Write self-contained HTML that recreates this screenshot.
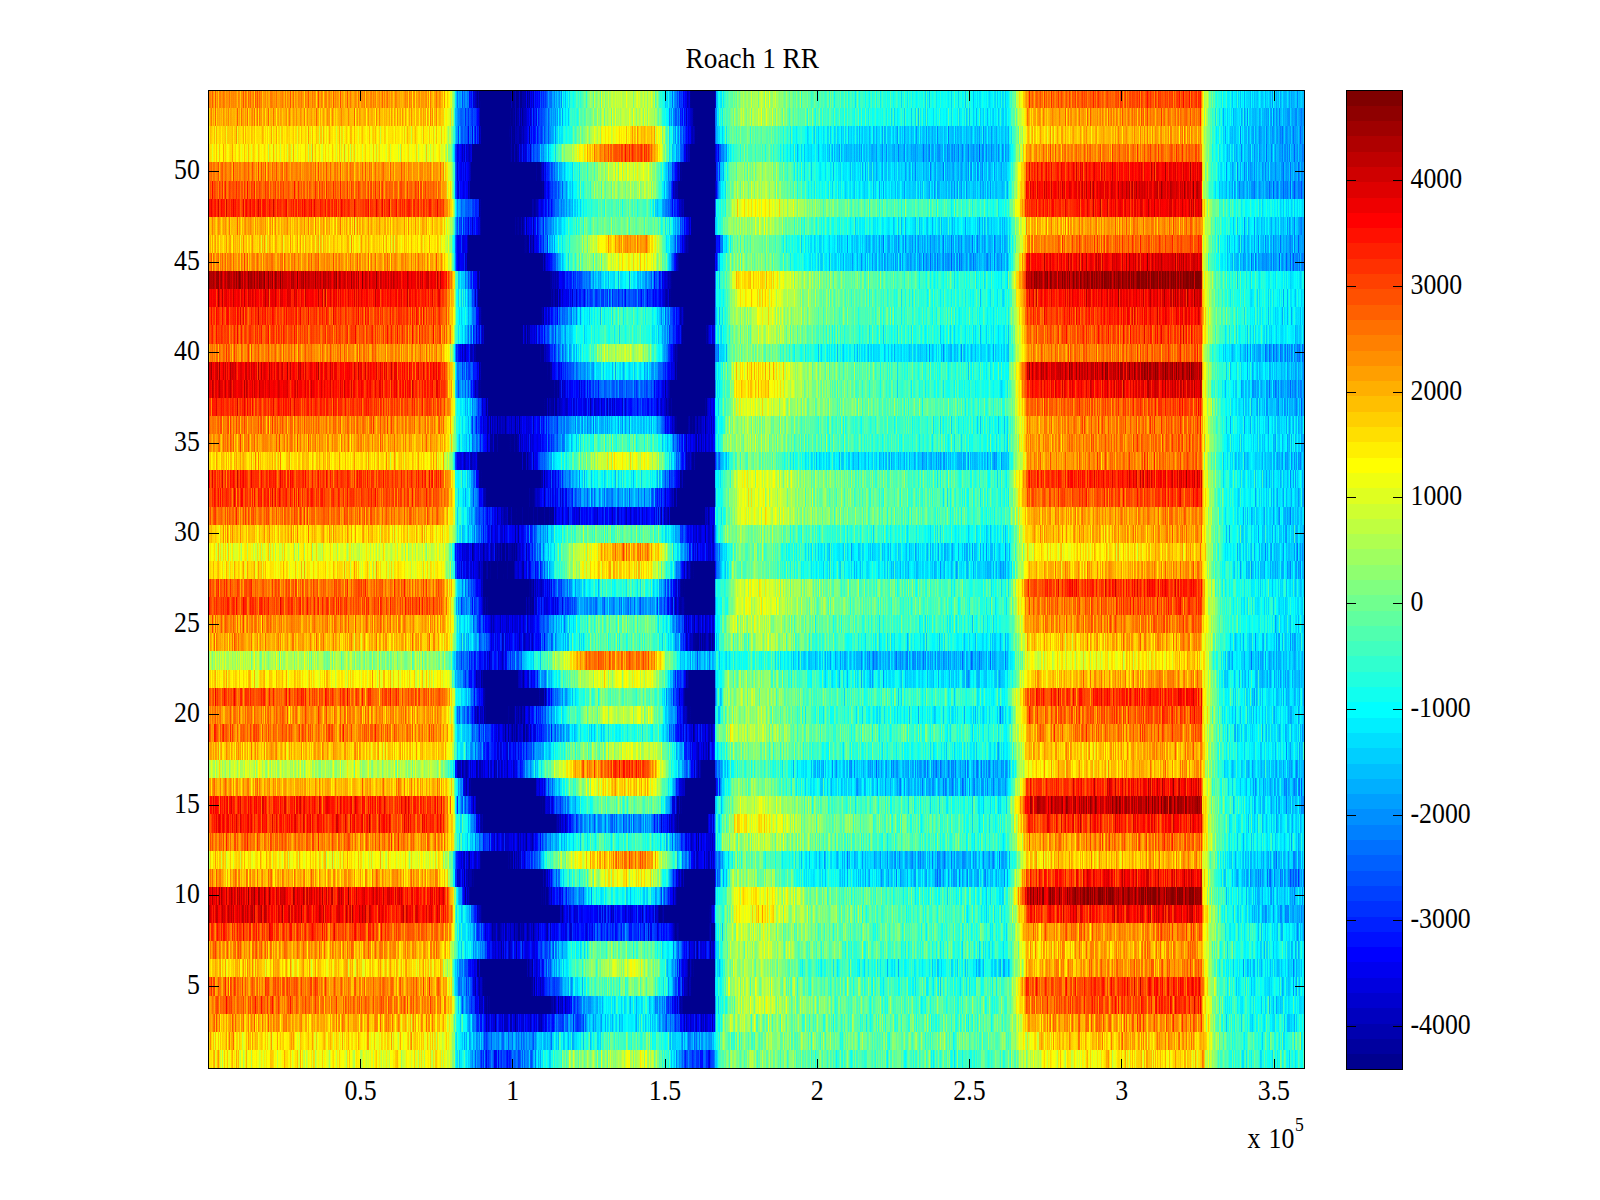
<!DOCTYPE html>
<html><head><meta charset="utf-8"><title>Roach 1 RR</title>
<style>
html,body{margin:0;padding:0;background:#fff;}
svg{display:block;}
text{font-family:"Liberation Serif",serif;fill:#000;}
</style></head>
<body>
<svg width="1600" height="1200" viewBox="0 0 1600 1200">
<defs>
<linearGradient id="g1" gradientUnits="userSpaceOnUse" x1="208" x2="1304" y1="0" y2="0"><stop offset="0" stop-color="#b5b5b5"/><stop offset="0.2126" stop-color="#aeaeae"/><stop offset="0.2172" stop-color="#aaaaaa"/><stop offset="0.2222" stop-color="#a3a3a3"/><stop offset="0.2245" stop-color="#989898"/><stop offset="0.2258" stop-color="#8b8b8b"/><stop offset="0.2272" stop-color="#818181"/><stop offset="0.2274" stop-color="#818181"/><stop offset="0.2336" stop-color="#818181"/><stop offset="0.242" stop-color="#686868"/><stop offset="0.2561" stop-color="#575757"/><stop offset="0.2734" stop-color="#575757"/><stop offset="0.2931" stop-color="#666666"/><stop offset="0.3113" stop-color="#818181"/><stop offset="0.3323" stop-color="#999999"/><stop offset="0.3515" stop-color="#999999"/><stop offset="0.375" stop-color="#a7a7a7"/><stop offset="0.4015" stop-color="#a7a7a7"/><stop offset="0.4162" stop-color="#8f8f8f"/><stop offset="0.4318" stop-color="#686868"/><stop offset="0.4452" stop-color="#575757"/><stop offset="0.4548" stop-color="#575757"/><stop offset="0.4619" stop-color="#575757"/><stop offset="0.4633" stop-color="#818181"/><stop offset="0.4644" stop-color="#818181"/><stop offset="0.4693" stop-color="#999999"/><stop offset="0.4945" stop-color="#999999"/><stop offset="0.5036" stop-color="#999999"/><stop offset="0.5109" stop-color="#999999"/><stop offset="0.531" stop-color="#949494"/><stop offset="0.5538" stop-color="#919191"/><stop offset="0.5858" stop-color="#8f8f8f"/><stop offset="0.6314" stop-color="#8e8e8e"/><stop offset="0.677" stop-color="#8d8d8d"/><stop offset="0.729" stop-color="#8d8d8d"/><stop offset="0.7345" stop-color="#969696"/><stop offset="0.7391" stop-color="#a0a0a0"/><stop offset="0.7427" stop-color="#a5a5a5"/><stop offset="0.7454" stop-color="#a1a1a1"/><stop offset="0.7482" stop-color="#a7a7a7"/><stop offset="0.7576" stop-color="#a7a7a7"/><stop offset="0.7591" stop-color="#b1b1b1"/><stop offset="0.9068" stop-color="#bababa"/><stop offset="0.9075" stop-color="#c0c0c0"/><stop offset="0.9097" stop-color="#b8b8b8"/><stop offset="0.9133" stop-color="#a8a8a8"/><stop offset="0.9179" stop-color="#9b9b9b"/><stop offset="0.9279" stop-color="#898989"/><stop offset="0.9507" stop-color="#868686"/><stop offset="1" stop-color="#838383"/></linearGradient>
<filter id="f1" x="0" y="0" width="1" height="1" color-interpolation-filters="sRGB"><feTurbulence type="fractalNoise" baseFrequency="0.72 0.0003" numOctaves="2" seed="10" result="n"/><feColorMatrix in="n" type="matrix" values="1 0 0 0 0 1 0 0 0 0 1 0 0 0 0 0 0 0 0 1" result="m"/><feComposite in="SourceGraphic" in2="m" operator="arithmetic" k1="0" k2="1" k3="0.250" k4="-0.1250" result="s"/><feComponentTransfer in="s"><feFuncR type="table" tableValues="0 0 0 0 0 0 .5 1 1 1 .5"/><feFuncG type="table" tableValues="0 0 0 0 .5 1 1 1 .5 0 0"/><feFuncB type="table" tableValues=".5625 .5625 .5625 1 1 1 .5 0 0 0 0"/></feComponentTransfer></filter>
<linearGradient id="g2" gradientUnits="userSpaceOnUse" x1="208" x2="1304" y1="0" y2="0"><stop offset="0" stop-color="#bbbbbb"/><stop offset="0.2126" stop-color="#b5b5b5"/><stop offset="0.2172" stop-color="#afafaf"/><stop offset="0.2222" stop-color="#a6a6a6"/><stop offset="0.2245" stop-color="#999999"/><stop offset="0.2258" stop-color="#898989"/><stop offset="0.2272" stop-color="#7c7c7c"/><stop offset="0.2274" stop-color="#7c7c7c"/><stop offset="0.2427" stop-color="#727272"/><stop offset="0.2522" stop-color="#686868"/><stop offset="0.2938" stop-color="#686868"/><stop offset="0.3196" stop-color="#7c7c7c"/><stop offset="0.3414" stop-color="#7c7c7c"/><stop offset="0.3672" stop-color="#8f8f8f"/><stop offset="0.4051" stop-color="#8f8f8f"/><stop offset="0.4208" stop-color="#818181"/><stop offset="0.435" stop-color="#6c6c6c"/><stop offset="0.4523" stop-color="#6c6c6c"/><stop offset="0.4619" stop-color="#6c6c6c"/><stop offset="0.4633" stop-color="#818181"/><stop offset="0.4681" stop-color="#959595"/><stop offset="0.4945" stop-color="#959595"/><stop offset="0.5036" stop-color="#999999"/><stop offset="0.5109" stop-color="#999999"/><stop offset="0.531" stop-color="#979797"/><stop offset="0.5538" stop-color="#959595"/><stop offset="0.5858" stop-color="#949494"/><stop offset="0.6314" stop-color="#939393"/><stop offset="0.677" stop-color="#939393"/><stop offset="0.729" stop-color="#939393"/><stop offset="0.7345" stop-color="#9e9e9e"/><stop offset="0.7391" stop-color="#a8a8a8"/><stop offset="0.7427" stop-color="#adadad"/><stop offset="0.7454" stop-color="#ababab"/><stop offset="0.7482" stop-color="#b1b1b1"/><stop offset="0.7576" stop-color="#b1b1b1"/><stop offset="0.7591" stop-color="#bcbcbc"/><stop offset="0.9068" stop-color="#c4c4c4"/><stop offset="0.9075" stop-color="#c4c4c4"/><stop offset="0.9097" stop-color="#bcbcbc"/><stop offset="0.9133" stop-color="#acacac"/><stop offset="0.9179" stop-color="#9f9f9f"/><stop offset="0.9279" stop-color="#8d8d8d"/><stop offset="0.9507" stop-color="#8a8a8a"/><stop offset="1" stop-color="#878787"/></linearGradient>
<filter id="f2" x="0" y="0" width="1" height="1" color-interpolation-filters="sRGB"><feTurbulence type="fractalNoise" baseFrequency="0.72 0.0003" numOctaves="2" seed="17" result="n"/><feColorMatrix in="n" type="matrix" values="1 0 0 0 0 1 0 0 0 0 1 0 0 0 0 0 0 0 0 1" result="m"/><feComposite in="SourceGraphic" in2="m" operator="arithmetic" k1="0" k2="1" k3="0.250" k4="-0.1250" result="s"/><feComponentTransfer in="s"><feFuncR type="table" tableValues="0 0 0 0 0 0 .5 1 1 1 .5"/><feFuncG type="table" tableValues="0 0 0 0 .5 1 1 1 .5 0 0"/><feFuncB type="table" tableValues=".5625 .5625 .5625 1 1 1 .5 0 0 0 0"/></feComponentTransfer></filter>
<linearGradient id="g3" gradientUnits="userSpaceOnUse" x1="208" x2="1304" y1="0" y2="0"><stop offset="0" stop-color="#c5c5c5"/><stop offset="0.2126" stop-color="#bfbfbf"/><stop offset="0.2172" stop-color="#b8b8b8"/><stop offset="0.2222" stop-color="#aeaeae"/><stop offset="0.2245" stop-color="#a0a0a0"/><stop offset="0.2258" stop-color="#8f8f8f"/><stop offset="0.2272" stop-color="#818181"/><stop offset="0.2274" stop-color="#818181"/><stop offset="0.2354" stop-color="#818181"/><stop offset="0.2418" stop-color="#686868"/><stop offset="0.2558" stop-color="#454545"/><stop offset="0.3047" stop-color="#454545"/><stop offset="0.3245" stop-color="#606060"/><stop offset="0.3382" stop-color="#606060"/><stop offset="0.358" stop-color="#7a7a7a"/><stop offset="0.4051" stop-color="#7a7a7a"/><stop offset="0.4226" stop-color="#666666"/><stop offset="0.4379" stop-color="#454545"/><stop offset="0.453" stop-color="#454545"/><stop offset="0.4619" stop-color="#454545"/><stop offset="0.4633" stop-color="#818181"/><stop offset="0.4662" stop-color="#818181"/><stop offset="0.4735" stop-color="#9d9d9d"/><stop offset="0.4945" stop-color="#9d9d9d"/><stop offset="0.5036" stop-color="#9d9d9d"/><stop offset="0.5109" stop-color="#9d9d9d"/><stop offset="0.531" stop-color="#989898"/><stop offset="0.5538" stop-color="#949494"/><stop offset="0.5858" stop-color="#929292"/><stop offset="0.6314" stop-color="#909090"/><stop offset="0.677" stop-color="#8f8f8f"/><stop offset="0.729" stop-color="#8f8f8f"/><stop offset="0.7345" stop-color="#9d9d9d"/><stop offset="0.7391" stop-color="#ababab"/><stop offset="0.7427" stop-color="#b2b2b2"/><stop offset="0.7454" stop-color="#bababa"/><stop offset="0.7477" stop-color="#c5c5c5"/><stop offset="0.75" stop-color="#c3c3c3"/><stop offset="0.9068" stop-color="#cecece"/><stop offset="0.9075" stop-color="#c0c0c0"/><stop offset="0.9097" stop-color="#b8b8b8"/><stop offset="0.9133" stop-color="#a8a8a8"/><stop offset="0.9179" stop-color="#9b9b9b"/><stop offset="0.9279" stop-color="#898989"/><stop offset="0.9507" stop-color="#838383"/><stop offset="1" stop-color="#7c7c7c"/></linearGradient>
<filter id="f3" x="0" y="0" width="1" height="1" color-interpolation-filters="sRGB"><feTurbulence type="fractalNoise" baseFrequency="0.72 0.0003" numOctaves="2" seed="24" result="n"/><feColorMatrix in="n" type="matrix" values="1 0 0 0 0 1 0 0 0 0 1 0 0 0 0 0 0 0 0 1" result="m"/><feComposite in="SourceGraphic" in2="m" operator="arithmetic" k1="0" k2="1" k3="0.250" k4="-0.1250" result="s"/><feComponentTransfer in="s"><feFuncR type="table" tableValues="0 0 0 0 0 0 .5 1 1 1 .5"/><feFuncG type="table" tableValues="0 0 0 0 .5 1 1 1 .5 0 0"/><feFuncB type="table" tableValues=".5625 .5625 .5625 1 1 1 .5 0 0 0 0"/></feComponentTransfer></filter>
<linearGradient id="g4" gradientUnits="userSpaceOnUse" x1="208" x2="1304" y1="0" y2="0"><stop offset="0" stop-color="#d1d1d1"/><stop offset="0.2126" stop-color="#cbcbcb"/><stop offset="0.2172" stop-color="#c2c2c2"/><stop offset="0.2222" stop-color="#b7b7b7"/><stop offset="0.2245" stop-color="#a6a6a6"/><stop offset="0.2258" stop-color="#929292"/><stop offset="0.2272" stop-color="#818181"/><stop offset="0.2274" stop-color="#818181"/><stop offset="0.2336" stop-color="#686868"/><stop offset="0.2474" stop-color="#494949"/><stop offset="0.2558" stop-color="#2f2f2f"/><stop offset="0.2613" stop-color="#161616"/><stop offset="0.3066" stop-color="#161616"/><stop offset="0.312" stop-color="#2f2f2f"/><stop offset="0.3241" stop-color="#494949"/><stop offset="0.3442" stop-color="#666666"/><stop offset="0.3617" stop-color="#7e7e7e"/><stop offset="0.4015" stop-color="#7e7e7e"/><stop offset="0.4162" stop-color="#666666"/><stop offset="0.4281" stop-color="#494949"/><stop offset="0.4347" stop-color="#2f2f2f"/><stop offset="0.4401" stop-color="#161616"/><stop offset="0.4526" stop-color="#161616"/><stop offset="0.458" stop-color="#2f2f2f"/><stop offset="0.4619" stop-color="#161616"/><stop offset="0.4633" stop-color="#818181"/><stop offset="0.4672" stop-color="#818181"/><stop offset="0.4804" stop-color="#999999"/><stop offset="0.4881" stop-color="#a7a7a7"/><stop offset="0.4945" stop-color="#a7a7a7"/><stop offset="0.5036" stop-color="#a7a7a7"/><stop offset="0.5109" stop-color="#a7a7a7"/><stop offset="0.531" stop-color="#9d9d9d"/><stop offset="0.5538" stop-color="#979797"/><stop offset="0.5858" stop-color="#939393"/><stop offset="0.6314" stop-color="#8f8f8f"/><stop offset="0.677" stop-color="#8d8d8d"/><stop offset="0.729" stop-color="#8d8d8d"/><stop offset="0.7345" stop-color="#9f9f9f"/><stop offset="0.7391" stop-color="#b1b1b1"/><stop offset="0.7427" stop-color="#bababa"/><stop offset="0.7454" stop-color="#c4c4c4"/><stop offset="0.7477" stop-color="#d3d3d3"/><stop offset="0.75" stop-color="#d1d1d1"/><stop offset="0.9068" stop-color="#dcdcdc"/><stop offset="0.9075" stop-color="#c0c0c0"/><stop offset="0.9097" stop-color="#b8b8b8"/><stop offset="0.9133" stop-color="#a8a8a8"/><stop offset="0.9179" stop-color="#9b9b9b"/><stop offset="0.9279" stop-color="#898989"/><stop offset="0.9507" stop-color="#828282"/><stop offset="1" stop-color="#7a7a7a"/></linearGradient>
<filter id="f4" x="0" y="0" width="1" height="1" color-interpolation-filters="sRGB"><feTurbulence type="fractalNoise" baseFrequency="0.72 0.0003" numOctaves="2" seed="31" result="n"/><feColorMatrix in="n" type="matrix" values="1 0 0 0 0 1 0 0 0 0 1 0 0 0 0 0 0 0 0 1" result="m"/><feComposite in="SourceGraphic" in2="m" operator="arithmetic" k1="0" k2="1" k3="0.250" k4="-0.1250" result="s"/><feComponentTransfer in="s"><feFuncR type="table" tableValues="0 0 0 0 0 0 .5 1 1 1 .5"/><feFuncG type="table" tableValues="0 0 0 0 .5 1 1 1 .5 0 0"/><feFuncB type="table" tableValues=".5625 .5625 .5625 1 1 1 .5 0 0 0 0"/></feComponentTransfer></filter>
<linearGradient id="g5" gradientUnits="userSpaceOnUse" x1="208" x2="1304" y1="0" y2="0"><stop offset="0" stop-color="#cfcfcf"/><stop offset="0.2126" stop-color="#c9c9c9"/><stop offset="0.2172" stop-color="#bdbdbd"/><stop offset="0.2222" stop-color="#aeaeae"/><stop offset="0.2245" stop-color="#989898"/><stop offset="0.2258" stop-color="#7e7e7e"/><stop offset="0.2272" stop-color="#686868"/><stop offset="0.2274" stop-color="#686868"/><stop offset="0.2354" stop-color="#686868"/><stop offset="0.2438" stop-color="#494949"/><stop offset="0.2522" stop-color="#2f2f2f"/><stop offset="0.2577" stop-color="#161616"/><stop offset="0.2883" stop-color="#161616"/><stop offset="0.2938" stop-color="#2f2f2f"/><stop offset="0.304" stop-color="#494949"/><stop offset="0.3204" stop-color="#666666"/><stop offset="0.3387" stop-color="#818181"/><stop offset="0.358" stop-color="#939393"/><stop offset="0.4051" stop-color="#939393"/><stop offset="0.417" stop-color="#818181"/><stop offset="0.4243" stop-color="#666666"/><stop offset="0.4336" stop-color="#494949"/><stop offset="0.4401" stop-color="#2f2f2f"/><stop offset="0.4451" stop-color="#161616"/><stop offset="0.4549" stop-color="#161616"/><stop offset="0.4619" stop-color="#161616"/><stop offset="0.4633" stop-color="#818181"/><stop offset="0.4672" stop-color="#818181"/><stop offset="0.4754" stop-color="#a3a3a3"/><stop offset="0.4945" stop-color="#a3a3a3"/><stop offset="0.5036" stop-color="#a3a3a3"/><stop offset="0.5109" stop-color="#a3a3a3"/><stop offset="0.531" stop-color="#999999"/><stop offset="0.5538" stop-color="#939393"/><stop offset="0.5858" stop-color="#8f8f8f"/><stop offset="0.6314" stop-color="#8b8b8b"/><stop offset="0.677" stop-color="#898989"/><stop offset="0.729" stop-color="#898989"/><stop offset="0.7345" stop-color="#9d9d9d"/><stop offset="0.7391" stop-color="#b1b1b1"/><stop offset="0.7427" stop-color="#bbbbbb"/><stop offset="0.7454" stop-color="#c6c6c6"/><stop offset="0.7477" stop-color="#d6d6d6"/><stop offset="0.75" stop-color="#d5d5d5"/><stop offset="0.9068" stop-color="#e0e0e0"/><stop offset="0.9075" stop-color="#c0c0c0"/><stop offset="0.9097" stop-color="#b8b8b8"/><stop offset="0.9133" stop-color="#a8a8a8"/><stop offset="0.9179" stop-color="#9b9b9b"/><stop offset="0.9279" stop-color="#898989"/><stop offset="0.9507" stop-color="#828282"/><stop offset="1" stop-color="#7a7a7a"/></linearGradient>
<filter id="f5" x="0" y="0" width="1" height="1" color-interpolation-filters="sRGB"><feTurbulence type="fractalNoise" baseFrequency="0.72 0.0003" numOctaves="2" seed="38" result="n"/><feColorMatrix in="n" type="matrix" values="1 0 0 0 0 1 0 0 0 0 1 0 0 0 0 0 0 0 0 1" result="m"/><feComposite in="SourceGraphic" in2="m" operator="arithmetic" k1="0" k2="1" k3="0.250" k4="-0.1250" result="s"/><feComponentTransfer in="s"><feFuncR type="table" tableValues="0 0 0 0 0 0 .5 1 1 1 .5"/><feFuncG type="table" tableValues="0 0 0 0 .5 1 1 1 .5 0 0"/><feFuncB type="table" tableValues=".5625 .5625 .5625 1 1 1 .5 0 0 0 0"/></feComponentTransfer></filter>
<linearGradient id="g6" gradientUnits="userSpaceOnUse" x1="208" x2="1304" y1="0" y2="0"><stop offset="0" stop-color="#bdbdbd"/><stop offset="0.2126" stop-color="#b7b7b7"/><stop offset="0.2172" stop-color="#adadad"/><stop offset="0.2222" stop-color="#a1a1a1"/><stop offset="0.2245" stop-color="#8f8f8f"/><stop offset="0.2258" stop-color="#7a7a7a"/><stop offset="0.2272" stop-color="#686868"/><stop offset="0.2274" stop-color="#686868"/><stop offset="0.2336" stop-color="#686868"/><stop offset="0.2418" stop-color="#494949"/><stop offset="0.2491" stop-color="#2f2f2f"/><stop offset="0.2546" stop-color="#161616"/><stop offset="0.2847" stop-color="#161616"/><stop offset="0.2901" stop-color="#2f2f2f"/><stop offset="0.2985" stop-color="#494949"/><stop offset="0.3131" stop-color="#666666"/><stop offset="0.3277" stop-color="#818181"/><stop offset="0.3451" stop-color="#999999"/><stop offset="0.357" stop-color="#999999"/><stop offset="0.3748" stop-color="#a9a9a9"/><stop offset="0.3962" stop-color="#a9a9a9"/><stop offset="0.4088" stop-color="#999999"/><stop offset="0.4179" stop-color="#818181"/><stop offset="0.4261" stop-color="#666666"/><stop offset="0.4354" stop-color="#494949"/><stop offset="0.442" stop-color="#2f2f2f"/><stop offset="0.4464" stop-color="#161616"/><stop offset="0.4554" stop-color="#161616"/><stop offset="0.4619" stop-color="#161616"/><stop offset="0.4633" stop-color="#818181"/><stop offset="0.4672" stop-color="#818181"/><stop offset="0.4754" stop-color="#9d9d9d"/><stop offset="0.4945" stop-color="#9d9d9d"/><stop offset="0.5036" stop-color="#9d9d9d"/><stop offset="0.5109" stop-color="#9d9d9d"/><stop offset="0.531" stop-color="#929292"/><stop offset="0.5538" stop-color="#8b8b8b"/><stop offset="0.5858" stop-color="#878787"/><stop offset="0.6314" stop-color="#838383"/><stop offset="0.677" stop-color="#818181"/><stop offset="0.729" stop-color="#7a7a7a"/><stop offset="0.7345" stop-color="#8d8d8d"/><stop offset="0.7391" stop-color="#a0a0a0"/><stop offset="0.7427" stop-color="#a9a9a9"/><stop offset="0.7454" stop-color="#b3b3b3"/><stop offset="0.7477" stop-color="#c2c2c2"/><stop offset="0.75" stop-color="#c1c1c1"/><stop offset="0.9068" stop-color="#cccccc"/><stop offset="0.9075" stop-color="#bababa"/><stop offset="0.9097" stop-color="#b1b1b1"/><stop offset="0.9133" stop-color="#a2a2a2"/><stop offset="0.9179" stop-color="#959595"/><stop offset="0.9279" stop-color="#838383"/><stop offset="0.9507" stop-color="#7c7c7c"/><stop offset="1" stop-color="#767676"/></linearGradient>
<filter id="f6" x="0" y="0" width="1" height="1" color-interpolation-filters="sRGB"><feTurbulence type="fractalNoise" baseFrequency="0.72 0.0003" numOctaves="2" seed="45" result="n"/><feColorMatrix in="n" type="matrix" values="1 0 0 0 0 1 0 0 0 0 1 0 0 0 0 0 0 0 0 1" result="m"/><feComposite in="SourceGraphic" in2="m" operator="arithmetic" k1="0" k2="1" k3="0.250" k4="-0.1250" result="s"/><feComponentTransfer in="s"><feFuncR type="table" tableValues="0 0 0 0 0 0 .5 1 1 1 .5"/><feFuncG type="table" tableValues="0 0 0 0 .5 1 1 1 .5 0 0"/><feFuncB type="table" tableValues=".5625 .5625 .5625 1 1 1 .5 0 0 0 0"/></feComponentTransfer></filter>
<linearGradient id="g7" gradientUnits="userSpaceOnUse" x1="208" x2="1304" y1="0" y2="0"><stop offset="0" stop-color="#c9c9c9"/><stop offset="0.2126" stop-color="#c3c3c3"/><stop offset="0.2172" stop-color="#bbbbbb"/><stop offset="0.2222" stop-color="#b1b1b1"/><stop offset="0.2245" stop-color="#a2a2a2"/><stop offset="0.2258" stop-color="#909090"/><stop offset="0.2272" stop-color="#818181"/><stop offset="0.2274" stop-color="#818181"/><stop offset="0.2372" stop-color="#818181"/><stop offset="0.2464" stop-color="#686868"/><stop offset="0.2631" stop-color="#494949"/><stop offset="0.2974" stop-color="#494949"/><stop offset="0.3131" stop-color="#666666"/><stop offset="0.335" stop-color="#818181"/><stop offset="0.358" stop-color="#939393"/><stop offset="0.4015" stop-color="#939393"/><stop offset="0.4179" stop-color="#818181"/><stop offset="0.4299" stop-color="#666666"/><stop offset="0.4397" stop-color="#454545"/><stop offset="0.4548" stop-color="#454545"/><stop offset="0.4619" stop-color="#454545"/><stop offset="0.4633" stop-color="#818181"/><stop offset="0.4672" stop-color="#818181"/><stop offset="0.4754" stop-color="#9d9d9d"/><stop offset="0.4945" stop-color="#9d9d9d"/><stop offset="0.5036" stop-color="#a5a5a5"/><stop offset="0.5109" stop-color="#a5a5a5"/><stop offset="0.531" stop-color="#9b9b9b"/><stop offset="0.5538" stop-color="#959595"/><stop offset="0.5858" stop-color="#919191"/><stop offset="0.6314" stop-color="#8d8d8d"/><stop offset="0.677" stop-color="#8b8b8b"/><stop offset="0.729" stop-color="#858585"/><stop offset="0.7345" stop-color="#949494"/><stop offset="0.7391" stop-color="#a3a3a3"/><stop offset="0.7427" stop-color="#ababab"/><stop offset="0.7454" stop-color="#b2b2b2"/><stop offset="0.7477" stop-color="#bfbfbf"/><stop offset="0.75" stop-color="#bdbdbd"/><stop offset="0.9068" stop-color="#c8c8c8"/><stop offset="0.9075" stop-color="#c0c0c0"/><stop offset="0.9097" stop-color="#b8b8b8"/><stop offset="0.9133" stop-color="#a8a8a8"/><stop offset="0.9179" stop-color="#9b9b9b"/><stop offset="0.9279" stop-color="#898989"/><stop offset="0.9507" stop-color="#828282"/><stop offset="1" stop-color="#7a7a7a"/></linearGradient>
<filter id="f7" x="0" y="0" width="1" height="1" color-interpolation-filters="sRGB"><feTurbulence type="fractalNoise" baseFrequency="0.72 0.0003" numOctaves="2" seed="52" result="n"/><feColorMatrix in="n" type="matrix" values="1 0 0 0 0 1 0 0 0 0 1 0 0 0 0 0 0 0 0 1" result="m"/><feComposite in="SourceGraphic" in2="m" operator="arithmetic" k1="0" k2="1" k3="0.250" k4="-0.1250" result="s"/><feComponentTransfer in="s"><feFuncR type="table" tableValues="0 0 0 0 0 0 .5 1 1 1 .5"/><feFuncG type="table" tableValues="0 0 0 0 .5 1 1 1 .5 0 0"/><feFuncB type="table" tableValues=".5625 .5625 .5625 1 1 1 .5 0 0 0 0"/></feComponentTransfer></filter>
<linearGradient id="g8" gradientUnits="userSpaceOnUse" x1="208" x2="1304" y1="0" y2="0"><stop offset="0" stop-color="#d9d9d9"/><stop offset="0.2126" stop-color="#d3d3d3"/><stop offset="0.2172" stop-color="#c9c9c9"/><stop offset="0.2222" stop-color="#bcbcbc"/><stop offset="0.2245" stop-color="#aaaaaa"/><stop offset="0.2258" stop-color="#939393"/><stop offset="0.2272" stop-color="#818181"/><stop offset="0.2274" stop-color="#818181"/><stop offset="0.2354" stop-color="#818181"/><stop offset="0.2436" stop-color="#686868"/><stop offset="0.2595" stop-color="#3d3d3d"/><stop offset="0.2974" stop-color="#3d3d3d"/><stop offset="0.3194" stop-color="#4d4d4d"/><stop offset="0.3361" stop-color="#4d4d4d"/><stop offset="0.3577" stop-color="#575757"/><stop offset="0.396" stop-color="#575757"/><stop offset="0.417" stop-color="#4d4d4d"/><stop offset="0.431" stop-color="#2f2f2f"/><stop offset="0.4365" stop-color="#161616"/><stop offset="0.4526" stop-color="#161616"/><stop offset="0.458" stop-color="#2f2f2f"/><stop offset="0.4619" stop-color="#161616"/><stop offset="0.4633" stop-color="#818181"/><stop offset="0.4662" stop-color="#818181"/><stop offset="0.4763" stop-color="#999999"/><stop offset="0.4808" stop-color="#a7a7a7"/><stop offset="0.4945" stop-color="#a7a7a7"/><stop offset="0.5036" stop-color="#a7a7a7"/><stop offset="0.5109" stop-color="#a7a7a7"/><stop offset="0.531" stop-color="#9d9d9d"/><stop offset="0.5538" stop-color="#979797"/><stop offset="0.5858" stop-color="#939393"/><stop offset="0.6314" stop-color="#8f8f8f"/><stop offset="0.677" stop-color="#8d8d8d"/><stop offset="0.729" stop-color="#878787"/><stop offset="0.7345" stop-color="#979797"/><stop offset="0.7391" stop-color="#a8a8a8"/><stop offset="0.7427" stop-color="#b0b0b0"/><stop offset="0.7454" stop-color="#b9b9b9"/><stop offset="0.7477" stop-color="#c7c7c7"/><stop offset="0.75" stop-color="#c5c5c5"/><stop offset="0.9068" stop-color="#d0d0d0"/><stop offset="0.9075" stop-color="#c0c0c0"/><stop offset="0.9097" stop-color="#b8b8b8"/><stop offset="0.9133" stop-color="#a8a8a8"/><stop offset="0.9179" stop-color="#9b9b9b"/><stop offset="0.9279" stop-color="#898989"/><stop offset="0.9507" stop-color="#818181"/><stop offset="1" stop-color="#787878"/></linearGradient>
<filter id="f8" x="0" y="0" width="1" height="1" color-interpolation-filters="sRGB"><feTurbulence type="fractalNoise" baseFrequency="0.72 0.0003" numOctaves="2" seed="59" result="n"/><feColorMatrix in="n" type="matrix" values="1 0 0 0 0 1 0 0 0 0 1 0 0 0 0 0 0 0 0 1" result="m"/><feComposite in="SourceGraphic" in2="m" operator="arithmetic" k1="0" k2="1" k3="0.250" k4="-0.1250" result="s"/><feComponentTransfer in="s"><feFuncR type="table" tableValues="0 0 0 0 0 0 .5 1 1 1 .5"/><feFuncG type="table" tableValues="0 0 0 0 .5 1 1 1 .5 0 0"/><feFuncB type="table" tableValues=".5625 .5625 .5625 1 1 1 .5 0 0 0 0"/></feComponentTransfer></filter>
<linearGradient id="g9" gradientUnits="userSpaceOnUse" x1="208" x2="1304" y1="0" y2="0"><stop offset="0" stop-color="#eaeaea"/><stop offset="0.2126" stop-color="#e3e3e3"/><stop offset="0.2172" stop-color="#d7d7d7"/><stop offset="0.2222" stop-color="#c8c8c8"/><stop offset="0.2245" stop-color="#b1b1b1"/><stop offset="0.2258" stop-color="#979797"/><stop offset="0.2272" stop-color="#818181"/><stop offset="0.2274" stop-color="#818181"/><stop offset="0.2336" stop-color="#818181"/><stop offset="0.2409" stop-color="#686868"/><stop offset="0.2485" stop-color="#2f2f2f"/><stop offset="0.254" stop-color="#161616"/><stop offset="0.3139" stop-color="#161616"/><stop offset="0.3193" stop-color="#2f2f2f"/><stop offset="0.3288" stop-color="#4b4b4b"/><stop offset="0.4051" stop-color="#4b4b4b"/><stop offset="0.4146" stop-color="#2f2f2f"/><stop offset="0.4201" stop-color="#161616"/><stop offset="0.4507" stop-color="#161616"/><stop offset="0.4562" stop-color="#2f2f2f"/><stop offset="0.4619" stop-color="#454545"/><stop offset="0.4633" stop-color="#818181"/><stop offset="0.4662" stop-color="#818181"/><stop offset="0.4763" stop-color="#999999"/><stop offset="0.4827" stop-color="#b4b4b4"/><stop offset="0.4945" stop-color="#b4b4b4"/><stop offset="0.5036" stop-color="#b4b4b4"/><stop offset="0.5109" stop-color="#b4b4b4"/><stop offset="0.531" stop-color="#a4a4a4"/><stop offset="0.5538" stop-color="#9a9a9a"/><stop offset="0.5858" stop-color="#949494"/><stop offset="0.6314" stop-color="#8f8f8f"/><stop offset="0.677" stop-color="#8b8b8b"/><stop offset="0.729" stop-color="#858585"/><stop offset="0.7345" stop-color="#9c9c9c"/><stop offset="0.7391" stop-color="#b4b4b4"/><stop offset="0.7427" stop-color="#bfbfbf"/><stop offset="0.7454" stop-color="#cbcbcb"/><stop offset="0.7477" stop-color="#dedede"/><stop offset="0.75" stop-color="#dddddd"/><stop offset="0.9068" stop-color="#e9e9e9"/><stop offset="0.9075" stop-color="#c0c0c0"/><stop offset="0.9097" stop-color="#b8b8b8"/><stop offset="0.9133" stop-color="#a8a8a8"/><stop offset="0.9179" stop-color="#9b9b9b"/><stop offset="0.9279" stop-color="#898989"/><stop offset="0.9507" stop-color="#7a7a7a"/><stop offset="1" stop-color="#6c6c6c"/></linearGradient>
<filter id="f9" x="0" y="0" width="1" height="1" color-interpolation-filters="sRGB"><feTurbulence type="fractalNoise" baseFrequency="0.72 0.0003" numOctaves="2" seed="66" result="n"/><feColorMatrix in="n" type="matrix" values="1 0 0 0 0 1 0 0 0 0 1 0 0 0 0 0 0 0 0 1" result="m"/><feComposite in="SourceGraphic" in2="m" operator="arithmetic" k1="0" k2="1" k3="0.250" k4="-0.1250" result="s"/><feComponentTransfer in="s"><feFuncR type="table" tableValues="0 0 0 0 0 0 .5 1 1 1 .5"/><feFuncG type="table" tableValues="0 0 0 0 .5 1 1 1 .5 0 0"/><feFuncB type="table" tableValues=".5625 .5625 .5625 1 1 1 .5 0 0 0 0"/></feComponentTransfer></filter>
<linearGradient id="g10" gradientUnits="userSpaceOnUse" x1="208" x2="1304" y1="0" y2="0"><stop offset="0" stop-color="#eeeeee"/><stop offset="0.2126" stop-color="#e1e1e1"/><stop offset="0.2172" stop-color="#d8d8d8"/><stop offset="0.2222" stop-color="#c9c9c9"/><stop offset="0.2245" stop-color="#b2b2b2"/><stop offset="0.2258" stop-color="#979797"/><stop offset="0.2272" stop-color="#818181"/><stop offset="0.2274" stop-color="#818181"/><stop offset="0.2334" stop-color="#494949"/><stop offset="0.24" stop-color="#2f2f2f"/><stop offset="0.2454" stop-color="#161616"/><stop offset="0.2993" stop-color="#161616"/><stop offset="0.3047" stop-color="#2f2f2f"/><stop offset="0.3131" stop-color="#494949"/><stop offset="0.3332" stop-color="#666666"/><stop offset="0.3544" stop-color="#818181"/><stop offset="0.4033" stop-color="#818181"/><stop offset="0.4151" stop-color="#666666"/><stop offset="0.4234" stop-color="#494949"/><stop offset="0.4292" stop-color="#2f2f2f"/><stop offset="0.4347" stop-color="#161616"/><stop offset="0.4544" stop-color="#161616"/><stop offset="0.4619" stop-color="#161616"/><stop offset="0.4633" stop-color="#818181"/><stop offset="0.4672" stop-color="#818181"/><stop offset="0.4772" stop-color="#999999"/><stop offset="0.4827" stop-color="#b1b1b1"/><stop offset="0.4945" stop-color="#b1b1b1"/><stop offset="0.5036" stop-color="#b1b1b1"/><stop offset="0.5109" stop-color="#b1b1b1"/><stop offset="0.531" stop-color="#a2a2a2"/><stop offset="0.5538" stop-color="#989898"/><stop offset="0.5858" stop-color="#929292"/><stop offset="0.6314" stop-color="#8d8d8d"/><stop offset="0.677" stop-color="#898989"/><stop offset="0.729" stop-color="#838383"/><stop offset="0.7345" stop-color="#a0a0a0"/><stop offset="0.7391" stop-color="#bdbdbd"/><stop offset="0.7427" stop-color="#cbcbcb"/><stop offset="0.7454" stop-color="#dadada"/><stop offset="0.7477" stop-color="#f1f1f1"/><stop offset="0.75" stop-color="#f2f2f2"/><stop offset="0.9068" stop-color="#fdfdfd"/><stop offset="0.9075" stop-color="#bababa"/><stop offset="0.9097" stop-color="#b1b1b1"/><stop offset="0.9133" stop-color="#a2a2a2"/><stop offset="0.9179" stop-color="#959595"/><stop offset="0.9279" stop-color="#838383"/><stop offset="0.9507" stop-color="#7c7c7c"/><stop offset="1" stop-color="#767676"/></linearGradient>
<filter id="f10" x="0" y="0" width="1" height="1" color-interpolation-filters="sRGB"><feTurbulence type="fractalNoise" baseFrequency="0.72 0.0003" numOctaves="2" seed="73" result="n"/><feColorMatrix in="n" type="matrix" values="1 0 0 0 0 1 0 0 0 0 1 0 0 0 0 0 0 0 0 1" result="m"/><feComposite in="SourceGraphic" in2="m" operator="arithmetic" k1="0" k2="1" k3="0.250" k4="-0.1250" result="s"/><feComponentTransfer in="s"><feFuncR type="table" tableValues="0 0 0 0 0 0 .5 1 1 1 .5"/><feFuncG type="table" tableValues="0 0 0 0 .5 1 1 1 .5 0 0"/><feFuncB type="table" tableValues=".5625 .5625 .5625 1 1 1 .5 0 0 0 0"/></feComponentTransfer></filter>
<linearGradient id="g11" gradientUnits="userSpaceOnUse" x1="208" x2="1304" y1="0" y2="0"><stop offset="0" stop-color="#c5c5c5"/><stop offset="0.2126" stop-color="#bfbfbf"/><stop offset="0.2172" stop-color="#b0b0b0"/><stop offset="0.2222" stop-color="#9e9e9e"/><stop offset="0.2245" stop-color="#848484"/><stop offset="0.2258" stop-color="#666666"/><stop offset="0.2272" stop-color="#4b4b4b"/><stop offset="0.2274" stop-color="#4b4b4b"/><stop offset="0.2391" stop-color="#3f3f3f"/><stop offset="0.2412" stop-color="#2f2f2f"/><stop offset="0.2467" stop-color="#161616"/><stop offset="0.2993" stop-color="#161616"/><stop offset="0.3047" stop-color="#2f2f2f"/><stop offset="0.3104" stop-color="#494949"/><stop offset="0.3175" stop-color="#666666"/><stop offset="0.3259" stop-color="#818181"/><stop offset="0.3451" stop-color="#999999"/><stop offset="0.3672" stop-color="#b1b1b1"/><stop offset="0.4015" stop-color="#b1b1b1"/><stop offset="0.4124" stop-color="#999999"/><stop offset="0.4188" stop-color="#818181"/><stop offset="0.4281" stop-color="#494949"/><stop offset="0.4347" stop-color="#2f2f2f"/><stop offset="0.4401" stop-color="#161616"/><stop offset="0.4544" stop-color="#161616"/><stop offset="0.4619" stop-color="#161616"/><stop offset="0.4633" stop-color="#666666"/><stop offset="0.4719" stop-color="#818181"/><stop offset="0.479" stop-color="#999999"/><stop offset="0.4945" stop-color="#999999"/><stop offset="0.5036" stop-color="#999999"/><stop offset="0.5109" stop-color="#999999"/><stop offset="0.531" stop-color="#8a8a8a"/><stop offset="0.5538" stop-color="#818181"/><stop offset="0.5858" stop-color="#7b7b7b"/><stop offset="0.6314" stop-color="#767676"/><stop offset="0.677" stop-color="#737373"/><stop offset="0.729" stop-color="#767676"/><stop offset="0.7345" stop-color="#909090"/><stop offset="0.7391" stop-color="#ababab"/><stop offset="0.7427" stop-color="#b8b8b8"/><stop offset="0.7454" stop-color="#c6c6c6"/><stop offset="0.7477" stop-color="#dbdbdb"/><stop offset="0.75" stop-color="#dbdbdb"/><stop offset="0.9068" stop-color="#e7e7e7"/><stop offset="0.9075" stop-color="#b6b6b6"/><stop offset="0.9097" stop-color="#adadad"/><stop offset="0.9133" stop-color="#9e9e9e"/><stop offset="0.9179" stop-color="#919191"/><stop offset="0.9279" stop-color="#7e7e7e"/><stop offset="0.9507" stop-color="#737373"/><stop offset="1" stop-color="#686868"/></linearGradient>
<filter id="f11" x="0" y="0" width="1" height="1" color-interpolation-filters="sRGB"><feTurbulence type="fractalNoise" baseFrequency="0.72 0.0003" numOctaves="2" seed="80" result="n"/><feColorMatrix in="n" type="matrix" values="1 0 0 0 0 1 0 0 0 0 1 0 0 0 0 0 0 0 0 1" result="m"/><feComposite in="SourceGraphic" in2="m" operator="arithmetic" k1="0" k2="1" k3="0.250" k4="-0.1250" result="s"/><feComponentTransfer in="s"><feFuncR type="table" tableValues="0 0 0 0 0 0 .5 1 1 1 .5"/><feFuncG type="table" tableValues="0 0 0 0 .5 1 1 1 .5 0 0"/><feFuncB type="table" tableValues=".5625 .5625 .5625 1 1 1 .5 0 0 0 0"/></feComponentTransfer></filter>
<linearGradient id="g12" gradientUnits="userSpaceOnUse" x1="208" x2="1304" y1="0" y2="0"><stop offset="0" stop-color="#b7b7b7"/><stop offset="0.2126" stop-color="#b0b0b0"/><stop offset="0.2172" stop-color="#a4a4a4"/><stop offset="0.2222" stop-color="#949494"/><stop offset="0.2245" stop-color="#7d7d7d"/><stop offset="0.2258" stop-color="#626262"/><stop offset="0.2272" stop-color="#4b4b4b"/><stop offset="0.2274" stop-color="#4b4b4b"/><stop offset="0.2482" stop-color="#3f3f3f"/><stop offset="0.2504" stop-color="#2f2f2f"/><stop offset="0.2558" stop-color="#161616"/><stop offset="0.2701" stop-color="#161616"/><stop offset="0.2755" stop-color="#2f2f2f"/><stop offset="0.2876" stop-color="#494949"/><stop offset="0.3022" stop-color="#666666"/><stop offset="0.3066" stop-color="#818181"/><stop offset="0.3177" stop-color="#999999"/><stop offset="0.3394" stop-color="#b1b1b1"/><stop offset="0.3638" stop-color="#c2c2c2"/><stop offset="0.3843" stop-color="#cacaca"/><stop offset="0.4013" stop-color="#cacaca"/><stop offset="0.4106" stop-color="#b1b1b1"/><stop offset="0.4181" stop-color="#999999"/><stop offset="0.4281" stop-color="#818181"/><stop offset="0.4372" stop-color="#666666"/><stop offset="0.4455" stop-color="#414141"/><stop offset="0.4563" stop-color="#414141"/><stop offset="0.4619" stop-color="#414141"/><stop offset="0.4633" stop-color="#666666"/><stop offset="0.4644" stop-color="#666666"/><stop offset="0.4746" stop-color="#818181"/><stop offset="0.4827" stop-color="#939393"/><stop offset="0.4945" stop-color="#939393"/><stop offset="0.5036" stop-color="#939393"/><stop offset="0.5109" stop-color="#939393"/><stop offset="0.531" stop-color="#858585"/><stop offset="0.5538" stop-color="#7c7c7c"/><stop offset="0.5858" stop-color="#777777"/><stop offset="0.6314" stop-color="#727272"/><stop offset="0.677" stop-color="#6f6f6f"/><stop offset="0.729" stop-color="#727272"/><stop offset="0.7345" stop-color="#858585"/><stop offset="0.7391" stop-color="#989898"/><stop offset="0.7427" stop-color="#a1a1a1"/><stop offset="0.7454" stop-color="#ababab"/><stop offset="0.7477" stop-color="#bababa"/><stop offset="0.75" stop-color="#b9b9b9"/><stop offset="0.9068" stop-color="#c4c4c4"/><stop offset="0.9075" stop-color="#b6b6b6"/><stop offset="0.9097" stop-color="#adadad"/><stop offset="0.9133" stop-color="#9e9e9e"/><stop offset="0.9179" stop-color="#919191"/><stop offset="0.9279" stop-color="#7e7e7e"/><stop offset="0.9507" stop-color="#787878"/><stop offset="1" stop-color="#727272"/></linearGradient>
<filter id="f12" x="0" y="0" width="1" height="1" color-interpolation-filters="sRGB"><feTurbulence type="fractalNoise" baseFrequency="0.72 0.0003" numOctaves="2" seed="87" result="n"/><feColorMatrix in="n" type="matrix" values="1 0 0 0 0 1 0 0 0 0 1 0 0 0 0 0 0 0 0 1" result="m"/><feComposite in="SourceGraphic" in2="m" operator="arithmetic" k1="0" k2="1" k3="0.250" k4="-0.1250" result="s"/><feComponentTransfer in="s"><feFuncR type="table" tableValues="0 0 0 0 0 0 .5 1 1 1 .5"/><feFuncG type="table" tableValues="0 0 0 0 .5 1 1 1 .5 0 0"/><feFuncB type="table" tableValues=".5625 .5625 .5625 1 1 1 .5 0 0 0 0"/></feComponentTransfer></filter>
<linearGradient id="g13" gradientUnits="userSpaceOnUse" x1="208" x2="1304" y1="0" y2="0"><stop offset="0" stop-color="#cfcfcf"/><stop offset="0.2126" stop-color="#c9c9c9"/><stop offset="0.2172" stop-color="#c1c1c1"/><stop offset="0.2222" stop-color="#b5b5b5"/><stop offset="0.2245" stop-color="#a5a5a5"/><stop offset="0.2258" stop-color="#919191"/><stop offset="0.2272" stop-color="#818181"/><stop offset="0.2274" stop-color="#818181"/><stop offset="0.2372" stop-color="#818181"/><stop offset="0.2464" stop-color="#686868"/><stop offset="0.2631" stop-color="#454545"/><stop offset="0.2938" stop-color="#454545"/><stop offset="0.3095" stop-color="#666666"/><stop offset="0.3314" stop-color="#818181"/><stop offset="0.3544" stop-color="#8b8b8b"/><stop offset="0.4015" stop-color="#8b8b8b"/><stop offset="0.4162" stop-color="#818181"/><stop offset="0.4281" stop-color="#666666"/><stop offset="0.4397" stop-color="#454545"/><stop offset="0.4548" stop-color="#454545"/><stop offset="0.4619" stop-color="#454545"/><stop offset="0.4633" stop-color="#818181"/><stop offset="0.4653" stop-color="#818181"/><stop offset="0.4717" stop-color="#9d9d9d"/><stop offset="0.4945" stop-color="#9d9d9d"/><stop offset="0.5036" stop-color="#a3a3a3"/><stop offset="0.5109" stop-color="#a3a3a3"/><stop offset="0.531" stop-color="#9b9b9b"/><stop offset="0.5538" stop-color="#959595"/><stop offset="0.5858" stop-color="#929292"/><stop offset="0.6314" stop-color="#8f8f8f"/><stop offset="0.677" stop-color="#8d8d8d"/><stop offset="0.729" stop-color="#878787"/><stop offset="0.7345" stop-color="#979797"/><stop offset="0.7391" stop-color="#a8a8a8"/><stop offset="0.7427" stop-color="#b0b0b0"/><stop offset="0.7454" stop-color="#b9b9b9"/><stop offset="0.7477" stop-color="#c7c7c7"/><stop offset="0.75" stop-color="#c5c5c5"/><stop offset="0.9068" stop-color="#d0d0d0"/><stop offset="0.9075" stop-color="#c0c0c0"/><stop offset="0.9097" stop-color="#b8b8b8"/><stop offset="0.9133" stop-color="#a8a8a8"/><stop offset="0.9179" stop-color="#9b9b9b"/><stop offset="0.9279" stop-color="#898989"/><stop offset="0.9507" stop-color="#828282"/><stop offset="1" stop-color="#7a7a7a"/></linearGradient>
<filter id="f13" x="0" y="0" width="1" height="1" color-interpolation-filters="sRGB"><feTurbulence type="fractalNoise" baseFrequency="0.72 0.0003" numOctaves="2" seed="94" result="n"/><feColorMatrix in="n" type="matrix" values="1 0 0 0 0 1 0 0 0 0 1 0 0 0 0 0 0 0 0 1" result="m"/><feComposite in="SourceGraphic" in2="m" operator="arithmetic" k1="0" k2="1" k3="0.250" k4="-0.1250" result="s"/><feComponentTransfer in="s"><feFuncR type="table" tableValues="0 0 0 0 0 0 .5 1 1 1 .5"/><feFuncG type="table" tableValues="0 0 0 0 .5 1 1 1 .5 0 0"/><feFuncB type="table" tableValues=".5625 .5625 .5625 1 1 1 .5 0 0 0 0"/></feComponentTransfer></filter>
<linearGradient id="g14" gradientUnits="userSpaceOnUse" x1="208" x2="1304" y1="0" y2="0"><stop offset="0" stop-color="#e1e1e1"/><stop offset="0.2126" stop-color="#dbdbdb"/><stop offset="0.2172" stop-color="#d0d0d0"/><stop offset="0.2222" stop-color="#c2c2c2"/><stop offset="0.2245" stop-color="#aeaeae"/><stop offset="0.2258" stop-color="#959595"/><stop offset="0.2272" stop-color="#818181"/><stop offset="0.2274" stop-color="#818181"/><stop offset="0.2354" stop-color="#818181"/><stop offset="0.2427" stop-color="#686868"/><stop offset="0.2504" stop-color="#2f2f2f"/><stop offset="0.2558" stop-color="#161616"/><stop offset="0.3102" stop-color="#161616"/><stop offset="0.3157" stop-color="#2f2f2f"/><stop offset="0.3259" stop-color="#494949"/><stop offset="0.3434" stop-color="#6a6a6a"/><stop offset="0.4015" stop-color="#6a6a6a"/><stop offset="0.419" stop-color="#494949"/><stop offset="0.4292" stop-color="#2f2f2f"/><stop offset="0.4347" stop-color="#161616"/><stop offset="0.4489" stop-color="#161616"/><stop offset="0.4544" stop-color="#2f2f2f"/><stop offset="0.4582" stop-color="#454545"/><stop offset="0.4619" stop-color="#454545"/><stop offset="0.4633" stop-color="#818181"/><stop offset="0.4662" stop-color="#818181"/><stop offset="0.4754" stop-color="#999999"/><stop offset="0.4808" stop-color="#b4b4b4"/><stop offset="0.4945" stop-color="#b4b4b4"/><stop offset="0.5036" stop-color="#b4b4b4"/><stop offset="0.5109" stop-color="#b4b4b4"/><stop offset="0.531" stop-color="#a5a5a5"/><stop offset="0.5538" stop-color="#9b9b9b"/><stop offset="0.5858" stop-color="#959595"/><stop offset="0.6314" stop-color="#919191"/><stop offset="0.677" stop-color="#8d8d8d"/><stop offset="0.729" stop-color="#878787"/><stop offset="0.7345" stop-color="#9d9d9d"/><stop offset="0.7391" stop-color="#b2b2b2"/><stop offset="0.7427" stop-color="#bdbdbd"/><stop offset="0.7454" stop-color="#c8c8c8"/><stop offset="0.7477" stop-color="#dadada"/><stop offset="0.75" stop-color="#d9d9d9"/><stop offset="0.9068" stop-color="#e4e4e4"/><stop offset="0.9075" stop-color="#c0c0c0"/><stop offset="0.9097" stop-color="#b8b8b8"/><stop offset="0.9133" stop-color="#a8a8a8"/><stop offset="0.9179" stop-color="#9b9b9b"/><stop offset="0.9279" stop-color="#898989"/><stop offset="0.9507" stop-color="#808080"/><stop offset="1" stop-color="#767676"/></linearGradient>
<filter id="f14" x="0" y="0" width="1" height="1" color-interpolation-filters="sRGB"><feTurbulence type="fractalNoise" baseFrequency="0.72 0.0003" numOctaves="2" seed="101" result="n"/><feColorMatrix in="n" type="matrix" values="1 0 0 0 0 1 0 0 0 0 1 0 0 0 0 0 0 0 0 1" result="m"/><feComposite in="SourceGraphic" in2="m" operator="arithmetic" k1="0" k2="1" k3="0.250" k4="-0.1250" result="s"/><feComponentTransfer in="s"><feFuncR type="table" tableValues="0 0 0 0 0 0 .5 1 1 1 .5"/><feFuncG type="table" tableValues="0 0 0 0 .5 1 1 1 .5 0 0"/><feFuncB type="table" tableValues=".5625 .5625 .5625 1 1 1 .5 0 0 0 0"/></feComponentTransfer></filter>
<linearGradient id="g15" gradientUnits="userSpaceOnUse" x1="208" x2="1304" y1="0" y2="0"><stop offset="0" stop-color="#e1e1e1"/><stop offset="0.2126" stop-color="#dbdbdb"/><stop offset="0.2172" stop-color="#cdcdcd"/><stop offset="0.2222" stop-color="#bbbbbb"/><stop offset="0.2245" stop-color="#a1a1a1"/><stop offset="0.2258" stop-color="#828282"/><stop offset="0.2272" stop-color="#686868"/><stop offset="0.2274" stop-color="#686868"/><stop offset="0.2336" stop-color="#686868"/><stop offset="0.2411" stop-color="#494949"/><stop offset="0.2485" stop-color="#2f2f2f"/><stop offset="0.254" stop-color="#161616"/><stop offset="0.2993" stop-color="#161616"/><stop offset="0.3047" stop-color="#2f2f2f"/><stop offset="0.3113" stop-color="#494949"/><stop offset="0.3241" stop-color="#666666"/><stop offset="0.3405" stop-color="#818181"/><stop offset="0.358" stop-color="#959595"/><stop offset="0.4051" stop-color="#959595"/><stop offset="0.417" stop-color="#818181"/><stop offset="0.4252" stop-color="#494949"/><stop offset="0.431" stop-color="#2f2f2f"/><stop offset="0.4365" stop-color="#161616"/><stop offset="0.4544" stop-color="#161616"/><stop offset="0.4619" stop-color="#161616"/><stop offset="0.4633" stop-color="#818181"/><stop offset="0.4672" stop-color="#818181"/><stop offset="0.4792" stop-color="#999999"/><stop offset="0.4863" stop-color="#a7a7a7"/><stop offset="0.4945" stop-color="#a7a7a7"/><stop offset="0.5036" stop-color="#a7a7a7"/><stop offset="0.5109" stop-color="#a7a7a7"/><stop offset="0.531" stop-color="#9c9c9c"/><stop offset="0.5538" stop-color="#949494"/><stop offset="0.5858" stop-color="#8f8f8f"/><stop offset="0.6314" stop-color="#8c8c8c"/><stop offset="0.677" stop-color="#898989"/><stop offset="0.729" stop-color="#838383"/><stop offset="0.7345" stop-color="#9e9e9e"/><stop offset="0.7391" stop-color="#bababa"/><stop offset="0.7427" stop-color="#c7c7c7"/><stop offset="0.7454" stop-color="#d5d5d5"/><stop offset="0.7477" stop-color="#ebebeb"/><stop offset="0.75" stop-color="#ececec"/><stop offset="0.9068" stop-color="#f7f7f7"/><stop offset="0.9075" stop-color="#c0c0c0"/><stop offset="0.9097" stop-color="#b8b8b8"/><stop offset="0.9133" stop-color="#a8a8a8"/><stop offset="0.9179" stop-color="#9b9b9b"/><stop offset="0.9279" stop-color="#898989"/><stop offset="0.9507" stop-color="#7d7d7d"/><stop offset="1" stop-color="#727272"/></linearGradient>
<filter id="f15" x="0" y="0" width="1" height="1" color-interpolation-filters="sRGB"><feTurbulence type="fractalNoise" baseFrequency="0.72 0.0003" numOctaves="2" seed="108" result="n"/><feColorMatrix in="n" type="matrix" values="1 0 0 0 0 1 0 0 0 0 1 0 0 0 0 0 0 0 0 1" result="m"/><feComposite in="SourceGraphic" in2="m" operator="arithmetic" k1="0" k2="1" k3="0.250" k4="-0.1250" result="s"/><feComponentTransfer in="s"><feFuncR type="table" tableValues="0 0 0 0 0 0 .5 1 1 1 .5"/><feFuncG type="table" tableValues="0 0 0 0 .5 1 1 1 .5 0 0"/><feFuncB type="table" tableValues=".5625 .5625 .5625 1 1 1 .5 0 0 0 0"/></feComponentTransfer></filter>
<linearGradient id="g16" gradientUnits="userSpaceOnUse" x1="208" x2="1304" y1="0" y2="0"><stop offset="0" stop-color="#c5c5c5"/><stop offset="0.2126" stop-color="#bfbfbf"/><stop offset="0.2172" stop-color="#b8b8b8"/><stop offset="0.2222" stop-color="#aeaeae"/><stop offset="0.2245" stop-color="#a0a0a0"/><stop offset="0.2258" stop-color="#8f8f8f"/><stop offset="0.2272" stop-color="#818181"/><stop offset="0.2274" stop-color="#818181"/><stop offset="0.2336" stop-color="#494949"/><stop offset="0.2412" stop-color="#2f2f2f"/><stop offset="0.2467" stop-color="#161616"/><stop offset="0.292" stop-color="#161616"/><stop offset="0.2974" stop-color="#2f2f2f"/><stop offset="0.304" stop-color="#494949"/><stop offset="0.3131" stop-color="#666666"/><stop offset="0.3241" stop-color="#818181"/><stop offset="0.3387" stop-color="#999999"/><stop offset="0.3565" stop-color="#b1b1b1"/><stop offset="0.375" stop-color="#bcbcbc"/><stop offset="0.4015" stop-color="#bcbcbc"/><stop offset="0.4144" stop-color="#999999"/><stop offset="0.4224" stop-color="#818181"/><stop offset="0.4308" stop-color="#494949"/><stop offset="0.4365" stop-color="#2f2f2f"/><stop offset="0.442" stop-color="#161616"/><stop offset="0.4544" stop-color="#161616"/><stop offset="0.4619" stop-color="#161616"/><stop offset="0.4633" stop-color="#4b4b4b"/><stop offset="0.4719" stop-color="#818181"/><stop offset="0.479" stop-color="#999999"/><stop offset="0.4945" stop-color="#999999"/><stop offset="0.5036" stop-color="#999999"/><stop offset="0.5109" stop-color="#999999"/><stop offset="0.531" stop-color="#898989"/><stop offset="0.5538" stop-color="#7f7f7f"/><stop offset="0.5858" stop-color="#787878"/><stop offset="0.6314" stop-color="#737373"/><stop offset="0.677" stop-color="#6f6f6f"/><stop offset="0.729" stop-color="#727272"/><stop offset="0.7345" stop-color="#8d8d8d"/><stop offset="0.7391" stop-color="#a9a9a9"/><stop offset="0.7427" stop-color="#b6b6b6"/><stop offset="0.7454" stop-color="#c5c5c5"/><stop offset="0.7477" stop-color="#dbdbdb"/><stop offset="0.75" stop-color="#dbdbdb"/><stop offset="0.9068" stop-color="#e7e7e7"/><stop offset="0.9075" stop-color="#bababa"/><stop offset="0.9097" stop-color="#b1b1b1"/><stop offset="0.9133" stop-color="#a2a2a2"/><stop offset="0.9179" stop-color="#959595"/><stop offset="0.9279" stop-color="#838383"/><stop offset="0.9507" stop-color="#777777"/><stop offset="1" stop-color="#6c6c6c"/></linearGradient>
<filter id="f16" x="0" y="0" width="1" height="1" color-interpolation-filters="sRGB"><feTurbulence type="fractalNoise" baseFrequency="0.72 0.0003" numOctaves="2" seed="115" result="n"/><feColorMatrix in="n" type="matrix" values="1 0 0 0 0 1 0 0 0 0 1 0 0 0 0 0 0 0 0 1" result="m"/><feComposite in="SourceGraphic" in2="m" operator="arithmetic" k1="0" k2="1" k3="0.250" k4="-0.1250" result="s"/><feComponentTransfer in="s"><feFuncR type="table" tableValues="0 0 0 0 0 0 .5 1 1 1 .5"/><feFuncG type="table" tableValues="0 0 0 0 .5 1 1 1 .5 0 0"/><feFuncB type="table" tableValues=".5625 .5625 .5625 1 1 1 .5 0 0 0 0"/></feComponentTransfer></filter>
<linearGradient id="g17" gradientUnits="userSpaceOnUse" x1="208" x2="1304" y1="0" y2="0"><stop offset="0" stop-color="#a7a7a7"/><stop offset="0.2126" stop-color="#a1a1a1"/><stop offset="0.2172" stop-color="#969696"/><stop offset="0.2222" stop-color="#878787"/><stop offset="0.2245" stop-color="#727272"/><stop offset="0.2258" stop-color="#595959"/><stop offset="0.2272" stop-color="#434343"/><stop offset="0.2274" stop-color="#434343"/><stop offset="0.2701" stop-color="#434343"/><stop offset="0.2794" stop-color="#494949"/><stop offset="0.2912" stop-color="#666666"/><stop offset="0.3013" stop-color="#818181"/><stop offset="0.3141" stop-color="#999999"/><stop offset="0.3259" stop-color="#b1b1b1"/><stop offset="0.3425" stop-color="#cacaca"/><stop offset="0.3559" stop-color="#cacaca"/><stop offset="0.375" stop-color="#dadada"/><stop offset="0.3996" stop-color="#dadada"/><stop offset="0.4124" stop-color="#b1b1b1"/><stop offset="0.4179" stop-color="#999999"/><stop offset="0.4272" stop-color="#818181"/><stop offset="0.4372" stop-color="#666666"/><stop offset="0.4454" stop-color="#494949"/><stop offset="0.4511" stop-color="#2f2f2f"/><stop offset="0.4533" stop-color="#161616"/><stop offset="0.4577" stop-color="#161616"/><stop offset="0.4619" stop-color="#161616"/><stop offset="0.4633" stop-color="#666666"/><stop offset="0.4653" stop-color="#666666"/><stop offset="0.4765" stop-color="#818181"/><stop offset="0.4845" stop-color="#8f8f8f"/><stop offset="0.4945" stop-color="#8f8f8f"/><stop offset="0.5036" stop-color="#8f8f8f"/><stop offset="0.5109" stop-color="#8f8f8f"/><stop offset="0.531" stop-color="#828282"/><stop offset="0.5538" stop-color="#7a7a7a"/><stop offset="0.5858" stop-color="#747474"/><stop offset="0.6314" stop-color="#707070"/><stop offset="0.677" stop-color="#6d6d6d"/><stop offset="0.729" stop-color="#707070"/><stop offset="0.7345" stop-color="#838383"/><stop offset="0.7391" stop-color="#979797"/><stop offset="0.7427" stop-color="#a0a0a0"/><stop offset="0.7454" stop-color="#aaaaaa"/><stop offset="0.7477" stop-color="#bababa"/><stop offset="0.75" stop-color="#b9b9b9"/><stop offset="0.9068" stop-color="#c4c4c4"/><stop offset="0.9075" stop-color="#b6b6b6"/><stop offset="0.9097" stop-color="#adadad"/><stop offset="0.9133" stop-color="#9e9e9e"/><stop offset="0.9179" stop-color="#919191"/><stop offset="0.9279" stop-color="#7e7e7e"/><stop offset="0.9507" stop-color="#787878"/><stop offset="1" stop-color="#727272"/></linearGradient>
<filter id="f17" x="0" y="0" width="1" height="1" color-interpolation-filters="sRGB"><feTurbulence type="fractalNoise" baseFrequency="0.72 0.0003" numOctaves="2" seed="122" result="n"/><feColorMatrix in="n" type="matrix" values="1 0 0 0 0 1 0 0 0 0 1 0 0 0 0 0 0 0 0 1" result="m"/><feComposite in="SourceGraphic" in2="m" operator="arithmetic" k1="0" k2="1" k3="0.250" k4="-0.1250" result="s"/><feComponentTransfer in="s"><feFuncR type="table" tableValues="0 0 0 0 0 0 .5 1 1 1 .5"/><feFuncG type="table" tableValues="0 0 0 0 .5 1 1 1 .5 0 0"/><feFuncB type="table" tableValues=".5625 .5625 .5625 1 1 1 .5 0 0 0 0"/></feComponentTransfer></filter>
<linearGradient id="g18" gradientUnits="userSpaceOnUse" x1="208" x2="1304" y1="0" y2="0"><stop offset="0" stop-color="#c1c1c1"/><stop offset="0.2126" stop-color="#bbbbbb"/><stop offset="0.2172" stop-color="#b5b5b5"/><stop offset="0.2222" stop-color="#ababab"/><stop offset="0.2245" stop-color="#9e9e9e"/><stop offset="0.2258" stop-color="#8e8e8e"/><stop offset="0.2272" stop-color="#818181"/><stop offset="0.2274" stop-color="#818181"/><stop offset="0.2354" stop-color="#818181"/><stop offset="0.2436" stop-color="#686868"/><stop offset="0.2595" stop-color="#4b4b4b"/><stop offset="0.2828" stop-color="#4b4b4b"/><stop offset="0.2985" stop-color="#666666"/><stop offset="0.3168" stop-color="#818181"/><stop offset="0.3399" stop-color="#999999"/><stop offset="0.3548" stop-color="#999999"/><stop offset="0.375" stop-color="#a7a7a7"/><stop offset="0.4106" stop-color="#a7a7a7"/><stop offset="0.4234" stop-color="#818181"/><stop offset="0.4327" stop-color="#666666"/><stop offset="0.4426" stop-color="#454545"/><stop offset="0.4555" stop-color="#454545"/><stop offset="0.4619" stop-color="#454545"/><stop offset="0.4633" stop-color="#818181"/><stop offset="0.4672" stop-color="#818181"/><stop offset="0.4754" stop-color="#999999"/><stop offset="0.4945" stop-color="#999999"/><stop offset="0.5036" stop-color="#999999"/><stop offset="0.5109" stop-color="#999999"/><stop offset="0.531" stop-color="#919191"/><stop offset="0.5538" stop-color="#8c8c8c"/><stop offset="0.5858" stop-color="#898989"/><stop offset="0.6314" stop-color="#878787"/><stop offset="0.677" stop-color="#858585"/><stop offset="0.729" stop-color="#7e7e7e"/><stop offset="0.7345" stop-color="#8f8f8f"/><stop offset="0.7391" stop-color="#9f9f9f"/><stop offset="0.7427" stop-color="#a7a7a7"/><stop offset="0.7454" stop-color="#afafaf"/><stop offset="0.7477" stop-color="#bcbcbc"/><stop offset="0.75" stop-color="#bbbbbb"/><stop offset="0.9068" stop-color="#c6c6c6"/><stop offset="0.9075" stop-color="#bababa"/><stop offset="0.9097" stop-color="#b1b1b1"/><stop offset="0.9133" stop-color="#a2a2a2"/><stop offset="0.9179" stop-color="#959595"/><stop offset="0.9279" stop-color="#838383"/><stop offset="0.9507" stop-color="#7e7e7e"/><stop offset="1" stop-color="#7a7a7a"/></linearGradient>
<filter id="f18" x="0" y="0" width="1" height="1" color-interpolation-filters="sRGB"><feTurbulence type="fractalNoise" baseFrequency="0.72 0.0003" numOctaves="2" seed="129" result="n"/><feColorMatrix in="n" type="matrix" values="1 0 0 0 0 1 0 0 0 0 1 0 0 0 0 0 0 0 0 1" result="m"/><feComposite in="SourceGraphic" in2="m" operator="arithmetic" k1="0" k2="1" k3="0.250" k4="-0.1250" result="s"/><feComponentTransfer in="s"><feFuncR type="table" tableValues="0 0 0 0 0 0 .5 1 1 1 .5"/><feFuncG type="table" tableValues="0 0 0 0 .5 1 1 1 .5 0 0"/><feFuncB type="table" tableValues=".5625 .5625 .5625 1 1 1 .5 0 0 0 0"/></feComponentTransfer></filter>
<linearGradient id="g19" gradientUnits="userSpaceOnUse" x1="208" x2="1304" y1="0" y2="0"><stop offset="0" stop-color="#d1d1d1"/><stop offset="0.2126" stop-color="#cbcbcb"/><stop offset="0.2172" stop-color="#c2c2c2"/><stop offset="0.2222" stop-color="#b6b6b6"/><stop offset="0.2245" stop-color="#a4a4a4"/><stop offset="0.2258" stop-color="#8e8e8e"/><stop offset="0.2272" stop-color="#7c7c7c"/><stop offset="0.2274" stop-color="#7c7c7c"/><stop offset="0.2391" stop-color="#717171"/><stop offset="0.2456" stop-color="#666666"/><stop offset="0.2639" stop-color="#494949"/><stop offset="0.2773" stop-color="#353535"/><stop offset="0.2815" stop-color="#353535"/><stop offset="0.2949" stop-color="#494949"/><stop offset="0.3186" stop-color="#666666"/><stop offset="0.3398" stop-color="#818181"/><stop offset="0.4106" stop-color="#898989"/><stop offset="0.4234" stop-color="#666666"/><stop offset="0.4353" stop-color="#454545"/><stop offset="0.4537" stop-color="#454545"/><stop offset="0.4619" stop-color="#454545"/><stop offset="0.4633" stop-color="#8f8f8f"/><stop offset="0.4681" stop-color="#8f8f8f"/><stop offset="0.4772" stop-color="#a3a3a3"/><stop offset="0.4945" stop-color="#a3a3a3"/><stop offset="0.5036" stop-color="#a3a3a3"/><stop offset="0.5109" stop-color="#a3a3a3"/><stop offset="0.531" stop-color="#9a9a9a"/><stop offset="0.5538" stop-color="#949494"/><stop offset="0.5858" stop-color="#909090"/><stop offset="0.6314" stop-color="#8d8d8d"/><stop offset="0.677" stop-color="#8b8b8b"/><stop offset="0.729" stop-color="#858585"/><stop offset="0.7345" stop-color="#969696"/><stop offset="0.7391" stop-color="#a8a8a8"/><stop offset="0.7427" stop-color="#b1b1b1"/><stop offset="0.7454" stop-color="#bababa"/><stop offset="0.7477" stop-color="#c8c8c8"/><stop offset="0.75" stop-color="#c7c7c7"/><stop offset="0.9068" stop-color="#d2d2d2"/><stop offset="0.9075" stop-color="#bababa"/><stop offset="0.9097" stop-color="#b1b1b1"/><stop offset="0.9133" stop-color="#a2a2a2"/><stop offset="0.9179" stop-color="#959595"/><stop offset="0.9279" stop-color="#838383"/><stop offset="0.9507" stop-color="#7d7d7d"/><stop offset="1" stop-color="#787878"/></linearGradient>
<filter id="f19" x="0" y="0" width="1" height="1" color-interpolation-filters="sRGB"><feTurbulence type="fractalNoise" baseFrequency="0.72 0.0003" numOctaves="2" seed="136" result="n"/><feColorMatrix in="n" type="matrix" values="1 0 0 0 0 1 0 0 0 0 1 0 0 0 0 0 0 0 0 1" result="m"/><feComposite in="SourceGraphic" in2="m" operator="arithmetic" k1="0" k2="1" k3="0.250" k4="-0.1250" result="s"/><feComponentTransfer in="s"><feFuncR type="table" tableValues="0 0 0 0 0 0 .5 1 1 1 .5"/><feFuncG type="table" tableValues="0 0 0 0 .5 1 1 1 .5 0 0"/><feFuncB type="table" tableValues=".5625 .5625 .5625 1 1 1 .5 0 0 0 0"/></feComponentTransfer></filter>
<linearGradient id="g20" gradientUnits="userSpaceOnUse" x1="208" x2="1304" y1="0" y2="0"><stop offset="0" stop-color="#cbcbcb"/><stop offset="0.2126" stop-color="#c5c5c5"/><stop offset="0.2172" stop-color="#bababa"/><stop offset="0.2222" stop-color="#ababab"/><stop offset="0.2245" stop-color="#969696"/><stop offset="0.2258" stop-color="#7d7d7d"/><stop offset="0.2272" stop-color="#686868"/><stop offset="0.2274" stop-color="#686868"/><stop offset="0.2354" stop-color="#686868"/><stop offset="0.2447" stop-color="#494949"/><stop offset="0.254" stop-color="#2f2f2f"/><stop offset="0.2594" stop-color="#161616"/><stop offset="0.2702" stop-color="#161616"/><stop offset="0.2755" stop-color="#2f2f2f"/><stop offset="0.2912" stop-color="#454545"/><stop offset="0.3095" stop-color="#666666"/><stop offset="0.3223" stop-color="#818181"/><stop offset="0.3451" stop-color="#999999"/><stop offset="0.3672" stop-color="#a5a5a5"/><stop offset="0.4051" stop-color="#a5a5a5"/><stop offset="0.4161" stop-color="#818181"/><stop offset="0.4234" stop-color="#666666"/><stop offset="0.4336" stop-color="#494949"/><stop offset="0.4401" stop-color="#2f2f2f"/><stop offset="0.4451" stop-color="#161616"/><stop offset="0.4549" stop-color="#161616"/><stop offset="0.4619" stop-color="#161616"/><stop offset="0.4633" stop-color="#818181"/><stop offset="0.4672" stop-color="#818181"/><stop offset="0.4754" stop-color="#9d9d9d"/><stop offset="0.4945" stop-color="#9d9d9d"/><stop offset="0.5036" stop-color="#9d9d9d"/><stop offset="0.5109" stop-color="#9d9d9d"/><stop offset="0.531" stop-color="#929292"/><stop offset="0.5538" stop-color="#8b8b8b"/><stop offset="0.5858" stop-color="#878787"/><stop offset="0.6314" stop-color="#838383"/><stop offset="0.677" stop-color="#818181"/><stop offset="0.729" stop-color="#7a7a7a"/><stop offset="0.7345" stop-color="#909090"/><stop offset="0.7391" stop-color="#a6a6a6"/><stop offset="0.7427" stop-color="#b1b1b1"/><stop offset="0.7454" stop-color="#bcbcbc"/><stop offset="0.7477" stop-color="#cecece"/><stop offset="0.75" stop-color="#cdcdcd"/><stop offset="0.9068" stop-color="#d8d8d8"/><stop offset="0.9075" stop-color="#bababa"/><stop offset="0.9097" stop-color="#b1b1b1"/><stop offset="0.9133" stop-color="#a2a2a2"/><stop offset="0.9179" stop-color="#959595"/><stop offset="0.9279" stop-color="#838383"/><stop offset="0.9507" stop-color="#7d7d7d"/><stop offset="1" stop-color="#787878"/></linearGradient>
<filter id="f20" x="0" y="0" width="1" height="1" color-interpolation-filters="sRGB"><feTurbulence type="fractalNoise" baseFrequency="0.72 0.0003" numOctaves="2" seed="143" result="n"/><feColorMatrix in="n" type="matrix" values="1 0 0 0 0 1 0 0 0 0 1 0 0 0 0 0 0 0 0 1" result="m"/><feComposite in="SourceGraphic" in2="m" operator="arithmetic" k1="0" k2="1" k3="0.250" k4="-0.1250" result="s"/><feComponentTransfer in="s"><feFuncR type="table" tableValues="0 0 0 0 0 0 .5 1 1 1 .5"/><feFuncG type="table" tableValues="0 0 0 0 .5 1 1 1 .5 0 0"/><feFuncB type="table" tableValues=".5625 .5625 .5625 1 1 1 .5 0 0 0 0"/></feComponentTransfer></filter>
<linearGradient id="g21" gradientUnits="userSpaceOnUse" x1="208" x2="1304" y1="0" y2="0"><stop offset="0" stop-color="#d7d7d7"/><stop offset="0.2126" stop-color="#d1d1d1"/><stop offset="0.2172" stop-color="#c8c8c8"/><stop offset="0.2222" stop-color="#bbbbbb"/><stop offset="0.2245" stop-color="#a9a9a9"/><stop offset="0.2258" stop-color="#939393"/><stop offset="0.2272" stop-color="#818181"/><stop offset="0.2274" stop-color="#818181"/><stop offset="0.2318" stop-color="#818181"/><stop offset="0.2391" stop-color="#686868"/><stop offset="0.2493" stop-color="#494949"/><stop offset="0.254" stop-color="#2f2f2f"/><stop offset="0.2595" stop-color="#161616"/><stop offset="0.2993" stop-color="#161616"/><stop offset="0.3047" stop-color="#2f2f2f"/><stop offset="0.3095" stop-color="#494949"/><stop offset="0.3195" stop-color="#666666"/><stop offset="0.3359" stop-color="#818181"/><stop offset="0.3544" stop-color="#939393"/><stop offset="0.4033" stop-color="#939393"/><stop offset="0.4153" stop-color="#818181"/><stop offset="0.4224" stop-color="#666666"/><stop offset="0.4308" stop-color="#494949"/><stop offset="0.4365" stop-color="#2f2f2f"/><stop offset="0.442" stop-color="#161616"/><stop offset="0.4544" stop-color="#161616"/><stop offset="0.4619" stop-color="#161616"/><stop offset="0.4633" stop-color="#818181"/><stop offset="0.4672" stop-color="#818181"/><stop offset="0.4754" stop-color="#9d9d9d"/><stop offset="0.4945" stop-color="#9d9d9d"/><stop offset="0.5036" stop-color="#9d9d9d"/><stop offset="0.5109" stop-color="#9d9d9d"/><stop offset="0.531" stop-color="#959595"/><stop offset="0.5538" stop-color="#909090"/><stop offset="0.5858" stop-color="#8d8d8d"/><stop offset="0.6314" stop-color="#8b8b8b"/><stop offset="0.677" stop-color="#898989"/><stop offset="0.729" stop-color="#838383"/><stop offset="0.7345" stop-color="#999999"/><stop offset="0.7391" stop-color="#afafaf"/><stop offset="0.7427" stop-color="#bababa"/><stop offset="0.7454" stop-color="#c6c6c6"/><stop offset="0.7477" stop-color="#d8d8d8"/><stop offset="0.75" stop-color="#d7d7d7"/><stop offset="0.9068" stop-color="#e2e2e2"/><stop offset="0.9075" stop-color="#bcbcbc"/><stop offset="0.9097" stop-color="#b4b4b4"/><stop offset="0.9133" stop-color="#a4a4a4"/><stop offset="0.9179" stop-color="#979797"/><stop offset="0.9279" stop-color="#858585"/><stop offset="0.9507" stop-color="#7d7d7d"/><stop offset="1" stop-color="#767676"/></linearGradient>
<filter id="f21" x="0" y="0" width="1" height="1" color-interpolation-filters="sRGB"><feTurbulence type="fractalNoise" baseFrequency="0.72 0.0003" numOctaves="2" seed="150" result="n"/><feColorMatrix in="n" type="matrix" values="1 0 0 0 0 1 0 0 0 0 1 0 0 0 0 0 0 0 0 1" result="m"/><feComposite in="SourceGraphic" in2="m" operator="arithmetic" k1="0" k2="1" k3="0.250" k4="-0.1250" result="s"/><feComponentTransfer in="s"><feFuncR type="table" tableValues="0 0 0 0 0 0 .5 1 1 1 .5"/><feFuncG type="table" tableValues="0 0 0 0 .5 1 1 1 .5 0 0"/><feFuncB type="table" tableValues=".5625 .5625 .5625 1 1 1 .5 0 0 0 0"/></feComponentTransfer></filter>
<linearGradient id="g22" gradientUnits="userSpaceOnUse" x1="208" x2="1304" y1="0" y2="0"><stop offset="0" stop-color="#b9b9b9"/><stop offset="0.2126" stop-color="#b2b2b2"/><stop offset="0.2172" stop-color="#aaaaaa"/><stop offset="0.2222" stop-color="#9e9e9e"/><stop offset="0.2245" stop-color="#8d8d8d"/><stop offset="0.2258" stop-color="#797979"/><stop offset="0.2272" stop-color="#686868"/><stop offset="0.2274" stop-color="#686868"/><stop offset="0.2391" stop-color="#595959"/><stop offset="0.2454" stop-color="#494949"/><stop offset="0.2509" stop-color="#2f2f2f"/><stop offset="0.2564" stop-color="#161616"/><stop offset="0.2737" stop-color="#161616"/><stop offset="0.2792" stop-color="#2f2f2f"/><stop offset="0.2912" stop-color="#454545"/><stop offset="0.3058" stop-color="#666666"/><stop offset="0.315" stop-color="#818181"/><stop offset="0.335" stop-color="#999999"/><stop offset="0.358" stop-color="#adadad"/><stop offset="0.4015" stop-color="#adadad"/><stop offset="0.4144" stop-color="#999999"/><stop offset="0.4197" stop-color="#818181"/><stop offset="0.4254" stop-color="#666666"/><stop offset="0.4345" stop-color="#494949"/><stop offset="0.4401" stop-color="#2f2f2f"/><stop offset="0.4451" stop-color="#161616"/><stop offset="0.4549" stop-color="#161616"/><stop offset="0.4619" stop-color="#161616"/><stop offset="0.4633" stop-color="#818181"/><stop offset="0.4672" stop-color="#818181"/><stop offset="0.4754" stop-color="#999999"/><stop offset="0.4945" stop-color="#999999"/><stop offset="0.5036" stop-color="#999999"/><stop offset="0.5109" stop-color="#999999"/><stop offset="0.531" stop-color="#8d8d8d"/><stop offset="0.5538" stop-color="#858585"/><stop offset="0.5858" stop-color="#808080"/><stop offset="0.6314" stop-color="#7c7c7c"/><stop offset="0.677" stop-color="#797979"/><stop offset="0.729" stop-color="#777777"/><stop offset="0.7345" stop-color="#898989"/><stop offset="0.7391" stop-color="#9c9c9c"/><stop offset="0.7427" stop-color="#a5a5a5"/><stop offset="0.7454" stop-color="#afafaf"/><stop offset="0.7477" stop-color="#bebebe"/><stop offset="0.75" stop-color="#bdbdbd"/><stop offset="0.9068" stop-color="#c8c8c8"/><stop offset="0.9075" stop-color="#b8b8b8"/><stop offset="0.9097" stop-color="#afafaf"/><stop offset="0.9133" stop-color="#a0a0a0"/><stop offset="0.9179" stop-color="#939393"/><stop offset="0.9279" stop-color="#818181"/><stop offset="0.9507" stop-color="#797979"/><stop offset="1" stop-color="#727272"/></linearGradient>
<filter id="f22" x="0" y="0" width="1" height="1" color-interpolation-filters="sRGB"><feTurbulence type="fractalNoise" baseFrequency="0.72 0.0003" numOctaves="2" seed="157" result="n"/><feColorMatrix in="n" type="matrix" values="1 0 0 0 0 1 0 0 0 0 1 0 0 0 0 0 0 0 0 1" result="m"/><feComposite in="SourceGraphic" in2="m" operator="arithmetic" k1="0" k2="1" k3="0.250" k4="-0.1250" result="s"/><feComponentTransfer in="s"><feFuncR type="table" tableValues="0 0 0 0 0 0 .5 1 1 1 .5"/><feFuncG type="table" tableValues="0 0 0 0 .5 1 1 1 .5 0 0"/><feFuncB type="table" tableValues=".5625 .5625 .5625 1 1 1 .5 0 0 0 0"/></feComponentTransfer></filter>
<linearGradient id="g23" gradientUnits="userSpaceOnUse" x1="208" x2="1304" y1="0" y2="0"><stop offset="0" stop-color="#a2a2a2"/><stop offset="0.2126" stop-color="#9c9c9c"/><stop offset="0.2172" stop-color="#979797"/><stop offset="0.2222" stop-color="#8f8f8f"/><stop offset="0.2245" stop-color="#828282"/><stop offset="0.2258" stop-color="#747474"/><stop offset="0.2272" stop-color="#686868"/><stop offset="0.2274" stop-color="#686868"/><stop offset="0.2391" stop-color="#595959"/><stop offset="0.2481" stop-color="#494949"/><stop offset="0.2687" stop-color="#494949"/><stop offset="0.283" stop-color="#666666"/><stop offset="0.2976" stop-color="#818181"/><stop offset="0.3131" stop-color="#999999"/><stop offset="0.3296" stop-color="#b1b1b1"/><stop offset="0.3471" stop-color="#cccccc"/><stop offset="0.4015" stop-color="#cccccc"/><stop offset="0.4135" stop-color="#b1b1b1"/><stop offset="0.4197" stop-color="#999999"/><stop offset="0.4299" stop-color="#818181"/><stop offset="0.4423" stop-color="#707070"/><stop offset="0.4541" stop-color="#707070"/><stop offset="0.4619" stop-color="#707070"/><stop offset="0.4633" stop-color="#818181"/><stop offset="0.4945" stop-color="#898989"/><stop offset="0.5036" stop-color="#898989"/><stop offset="0.5109" stop-color="#898989"/><stop offset="0.531" stop-color="#7e7e7e"/><stop offset="0.5538" stop-color="#777777"/><stop offset="0.5858" stop-color="#737373"/><stop offset="0.6314" stop-color="#6f6f6f"/><stop offset="0.677" stop-color="#6d6d6d"/><stop offset="0.729" stop-color="#707070"/><stop offset="0.7345" stop-color="#818181"/><stop offset="0.7391" stop-color="#929292"/><stop offset="0.7427" stop-color="#9a9a9a"/><stop offset="0.7454" stop-color="#a3a3a3"/><stop offset="0.7477" stop-color="#b0b0b0"/><stop offset="0.75" stop-color="#aeaeae"/><stop offset="0.9068" stop-color="#bababa"/><stop offset="0.9075" stop-color="#b4b4b4"/><stop offset="0.9097" stop-color="#ababab"/><stop offset="0.9133" stop-color="#9c9c9c"/><stop offset="0.9179" stop-color="#8f8f8f"/><stop offset="0.9279" stop-color="#7c7c7c"/><stop offset="0.9507" stop-color="#777777"/><stop offset="1" stop-color="#727272"/></linearGradient>
<filter id="f23" x="0" y="0" width="1" height="1" color-interpolation-filters="sRGB"><feTurbulence type="fractalNoise" baseFrequency="0.72 0.0003" numOctaves="2" seed="164" result="n"/><feColorMatrix in="n" type="matrix" values="1 0 0 0 0 1 0 0 0 0 1 0 0 0 0 0 0 0 0 1" result="m"/><feComposite in="SourceGraphic" in2="m" operator="arithmetic" k1="0" k2="1" k3="0.250" k4="-0.1250" result="s"/><feComponentTransfer in="s"><feFuncR type="table" tableValues="0 0 0 0 0 0 .5 1 1 1 .5"/><feFuncG type="table" tableValues="0 0 0 0 .5 1 1 1 .5 0 0"/><feFuncB type="table" tableValues=".5625 .5625 .5625 1 1 1 .5 0 0 0 0"/></feComponentTransfer></filter>
<linearGradient id="g24" gradientUnits="userSpaceOnUse" x1="208" x2="1304" y1="0" y2="0"><stop offset="0" stop-color="#c5c5c5"/><stop offset="0.2126" stop-color="#bfbfbf"/><stop offset="0.2172" stop-color="#b8b8b8"/><stop offset="0.2222" stop-color="#aeaeae"/><stop offset="0.2245" stop-color="#a0a0a0"/><stop offset="0.2258" stop-color="#8f8f8f"/><stop offset="0.2272" stop-color="#818181"/><stop offset="0.2274" stop-color="#818181"/><stop offset="0.2391" stop-color="#747474"/><stop offset="0.2473" stop-color="#686868"/><stop offset="0.2631" stop-color="#494949"/><stop offset="0.2974" stop-color="#494949"/><stop offset="0.3113" stop-color="#666666"/><stop offset="0.3314" stop-color="#818181"/><stop offset="0.3558" stop-color="#8f8f8f"/><stop offset="0.4051" stop-color="#8f8f8f"/><stop offset="0.4199" stop-color="#818181"/><stop offset="0.4308" stop-color="#666666"/><stop offset="0.4408" stop-color="#3b3b3b"/><stop offset="0.4537" stop-color="#3b3b3b"/><stop offset="0.4619" stop-color="#3b3b3b"/><stop offset="0.4633" stop-color="#818181"/><stop offset="0.4653" stop-color="#818181"/><stop offset="0.4717" stop-color="#999999"/><stop offset="0.4945" stop-color="#999999"/><stop offset="0.5036" stop-color="#a3a3a3"/><stop offset="0.5109" stop-color="#a3a3a3"/><stop offset="0.531" stop-color="#969696"/><stop offset="0.5538" stop-color="#8e8e8e"/><stop offset="0.5858" stop-color="#888888"/><stop offset="0.6314" stop-color="#848484"/><stop offset="0.677" stop-color="#818181"/><stop offset="0.729" stop-color="#7a7a7a"/><stop offset="0.7345" stop-color="#8c8c8c"/><stop offset="0.7391" stop-color="#9d9d9d"/><stop offset="0.7427" stop-color="#a5a5a5"/><stop offset="0.7454" stop-color="#aeaeae"/><stop offset="0.7477" stop-color="#bcbcbc"/><stop offset="0.75" stop-color="#bbbbbb"/><stop offset="0.9068" stop-color="#c6c6c6"/><stop offset="0.9075" stop-color="#bababa"/><stop offset="0.9097" stop-color="#b1b1b1"/><stop offset="0.9133" stop-color="#a2a2a2"/><stop offset="0.9179" stop-color="#959595"/><stop offset="0.9279" stop-color="#838383"/><stop offset="0.9507" stop-color="#7c7c7c"/><stop offset="1" stop-color="#767676"/></linearGradient>
<filter id="f24" x="0" y="0" width="1" height="1" color-interpolation-filters="sRGB"><feTurbulence type="fractalNoise" baseFrequency="0.72 0.0003" numOctaves="2" seed="171" result="n"/><feColorMatrix in="n" type="matrix" values="1 0 0 0 0 1 0 0 0 0 1 0 0 0 0 0 0 0 0 1" result="m"/><feComposite in="SourceGraphic" in2="m" operator="arithmetic" k1="0" k2="1" k3="0.250" k4="-0.1250" result="s"/><feComponentTransfer in="s"><feFuncR type="table" tableValues="0 0 0 0 0 0 .5 1 1 1 .5"/><feFuncG type="table" tableValues="0 0 0 0 .5 1 1 1 .5 0 0"/><feFuncB type="table" tableValues=".5625 .5625 .5625 1 1 1 .5 0 0 0 0"/></feComponentTransfer></filter>
<linearGradient id="g25" gradientUnits="userSpaceOnUse" x1="208" x2="1304" y1="0" y2="0"><stop offset="0" stop-color="#cbcbcb"/><stop offset="0.2126" stop-color="#c5c5c5"/><stop offset="0.2172" stop-color="#bdbdbd"/><stop offset="0.2222" stop-color="#b2b2b2"/><stop offset="0.2245" stop-color="#a3a3a3"/><stop offset="0.2258" stop-color="#909090"/><stop offset="0.2272" stop-color="#818181"/><stop offset="0.2274" stop-color="#818181"/><stop offset="0.2354" stop-color="#818181"/><stop offset="0.2427" stop-color="#686868"/><stop offset="0.2577" stop-color="#454545"/><stop offset="0.2938" stop-color="#454545"/><stop offset="0.3122" stop-color="#666666"/><stop offset="0.3341" stop-color="#818181"/><stop offset="0.3544" stop-color="#939393"/><stop offset="0.4051" stop-color="#939393"/><stop offset="0.4181" stop-color="#818181"/><stop offset="0.4272" stop-color="#666666"/><stop offset="0.4382" stop-color="#454545"/><stop offset="0.4545" stop-color="#454545"/><stop offset="0.4619" stop-color="#454545"/><stop offset="0.4633" stop-color="#818181"/><stop offset="0.4672" stop-color="#818181"/><stop offset="0.4754" stop-color="#a3a3a3"/><stop offset="0.4945" stop-color="#a3a3a3"/><stop offset="0.5036" stop-color="#a3a3a3"/><stop offset="0.5109" stop-color="#a3a3a3"/><stop offset="0.531" stop-color="#999999"/><stop offset="0.5538" stop-color="#939393"/><stop offset="0.5858" stop-color="#8f8f8f"/><stop offset="0.6314" stop-color="#8b8b8b"/><stop offset="0.677" stop-color="#898989"/><stop offset="0.729" stop-color="#838383"/><stop offset="0.7345" stop-color="#959595"/><stop offset="0.7391" stop-color="#a7a7a7"/><stop offset="0.7427" stop-color="#b0b0b0"/><stop offset="0.7454" stop-color="#bababa"/><stop offset="0.7477" stop-color="#c8c8c8"/><stop offset="0.75" stop-color="#c7c7c7"/><stop offset="0.9068" stop-color="#d2d2d2"/><stop offset="0.9075" stop-color="#c0c0c0"/><stop offset="0.9097" stop-color="#b8b8b8"/><stop offset="0.9133" stop-color="#a8a8a8"/><stop offset="0.9179" stop-color="#9b9b9b"/><stop offset="0.9279" stop-color="#898989"/><stop offset="0.9507" stop-color="#828282"/><stop offset="1" stop-color="#7a7a7a"/></linearGradient>
<filter id="f25" x="0" y="0" width="1" height="1" color-interpolation-filters="sRGB"><feTurbulence type="fractalNoise" baseFrequency="0.72 0.0003" numOctaves="2" seed="178" result="n"/><feColorMatrix in="n" type="matrix" values="1 0 0 0 0 1 0 0 0 0 1 0 0 0 0 0 0 0 0 1" result="m"/><feComposite in="SourceGraphic" in2="m" operator="arithmetic" k1="0" k2="1" k3="0.250" k4="-0.1250" result="s"/><feComponentTransfer in="s"><feFuncR type="table" tableValues="0 0 0 0 0 0 .5 1 1 1 .5"/><feFuncG type="table" tableValues="0 0 0 0 .5 1 1 1 .5 0 0"/><feFuncB type="table" tableValues=".5625 .5625 .5625 1 1 1 .5 0 0 0 0"/></feComponentTransfer></filter>
<linearGradient id="g26" gradientUnits="userSpaceOnUse" x1="208" x2="1304" y1="0" y2="0"><stop offset="0" stop-color="#d9d9d9"/><stop offset="0.2126" stop-color="#d3d3d3"/><stop offset="0.2172" stop-color="#c6c6c6"/><stop offset="0.2222" stop-color="#b6b6b6"/><stop offset="0.2245" stop-color="#9e9e9e"/><stop offset="0.2258" stop-color="#828282"/><stop offset="0.2272" stop-color="#6a6a6a"/><stop offset="0.2274" stop-color="#6a6a6a"/><stop offset="0.2445" stop-color="#5a5a5a"/><stop offset="0.2493" stop-color="#494949"/><stop offset="0.254" stop-color="#2f2f2f"/><stop offset="0.2595" stop-color="#161616"/><stop offset="0.2847" stop-color="#161616"/><stop offset="0.2901" stop-color="#2f2f2f"/><stop offset="0.3037" stop-color="#4b4b4b"/><stop offset="0.3189" stop-color="#4b4b4b"/><stop offset="0.3385" stop-color="#6a6a6a"/><stop offset="0.4088" stop-color="#6a6a6a"/><stop offset="0.4254" stop-color="#494949"/><stop offset="0.4347" stop-color="#2f2f2f"/><stop offset="0.4401" stop-color="#161616"/><stop offset="0.4544" stop-color="#161616"/><stop offset="0.4619" stop-color="#161616"/><stop offset="0.4633" stop-color="#818181"/><stop offset="0.4672" stop-color="#818181"/><stop offset="0.4783" stop-color="#999999"/><stop offset="0.4845" stop-color="#adadad"/><stop offset="0.4945" stop-color="#adadad"/><stop offset="0.5036" stop-color="#adadad"/><stop offset="0.5109" stop-color="#adadad"/><stop offset="0.531" stop-color="#a1a1a1"/><stop offset="0.5538" stop-color="#999999"/><stop offset="0.5858" stop-color="#949494"/><stop offset="0.6314" stop-color="#909090"/><stop offset="0.677" stop-color="#8d8d8d"/><stop offset="0.729" stop-color="#878787"/><stop offset="0.7345" stop-color="#9a9a9a"/><stop offset="0.7391" stop-color="#acacac"/><stop offset="0.7427" stop-color="#b5b5b5"/><stop offset="0.7454" stop-color="#bfbfbf"/><stop offset="0.7477" stop-color="#cecece"/><stop offset="0.75" stop-color="#cdcdcd"/><stop offset="0.9068" stop-color="#d8d8d8"/><stop offset="0.9075" stop-color="#c0c0c0"/><stop offset="0.9097" stop-color="#b8b8b8"/><stop offset="0.9133" stop-color="#a8a8a8"/><stop offset="0.9179" stop-color="#9b9b9b"/><stop offset="0.9279" stop-color="#898989"/><stop offset="0.9507" stop-color="#828282"/><stop offset="1" stop-color="#7a7a7a"/></linearGradient>
<filter id="f26" x="0" y="0" width="1" height="1" color-interpolation-filters="sRGB"><feTurbulence type="fractalNoise" baseFrequency="0.72 0.0003" numOctaves="2" seed="185" result="n"/><feColorMatrix in="n" type="matrix" values="1 0 0 0 0 1 0 0 0 0 1 0 0 0 0 0 0 0 0 1" result="m"/><feComposite in="SourceGraphic" in2="m" operator="arithmetic" k1="0" k2="1" k3="0.250" k4="-0.1250" result="s"/><feComponentTransfer in="s"><feFuncR type="table" tableValues="0 0 0 0 0 0 .5 1 1 1 .5"/><feFuncG type="table" tableValues="0 0 0 0 .5 1 1 1 .5 0 0"/><feFuncB type="table" tableValues=".5625 .5625 .5625 1 1 1 .5 0 0 0 0"/></feComponentTransfer></filter>
<linearGradient id="g27" gradientUnits="userSpaceOnUse" x1="208" x2="1304" y1="0" y2="0"><stop offset="0" stop-color="#d3d3d3"/><stop offset="0.2126" stop-color="#cdcdcd"/><stop offset="0.2172" stop-color="#c4c4c4"/><stop offset="0.2222" stop-color="#b8b8b8"/><stop offset="0.2245" stop-color="#a7a7a7"/><stop offset="0.2258" stop-color="#929292"/><stop offset="0.2272" stop-color="#818181"/><stop offset="0.2274" stop-color="#818181"/><stop offset="0.2363" stop-color="#686868"/><stop offset="0.2482" stop-color="#494949"/><stop offset="0.2522" stop-color="#2f2f2f"/><stop offset="0.2577" stop-color="#161616"/><stop offset="0.2847" stop-color="#161616"/><stop offset="0.2901" stop-color="#2f2f2f"/><stop offset="0.304" stop-color="#454545"/><stop offset="0.3259" stop-color="#666666"/><stop offset="0.3469" stop-color="#818181"/><stop offset="0.3668" stop-color="#898989"/><stop offset="0.396" stop-color="#898989"/><stop offset="0.4078" stop-color="#818181"/><stop offset="0.4172" stop-color="#666666"/><stop offset="0.4281" stop-color="#494949"/><stop offset="0.4347" stop-color="#2f2f2f"/><stop offset="0.4401" stop-color="#161616"/><stop offset="0.4544" stop-color="#161616"/><stop offset="0.4619" stop-color="#161616"/><stop offset="0.4633" stop-color="#818181"/><stop offset="0.4672" stop-color="#818181"/><stop offset="0.4783" stop-color="#999999"/><stop offset="0.4845" stop-color="#adadad"/><stop offset="0.4945" stop-color="#adadad"/><stop offset="0.5036" stop-color="#adadad"/><stop offset="0.5109" stop-color="#adadad"/><stop offset="0.531" stop-color="#a1a1a1"/><stop offset="0.5538" stop-color="#999999"/><stop offset="0.5858" stop-color="#949494"/><stop offset="0.6314" stop-color="#909090"/><stop offset="0.677" stop-color="#8d8d8d"/><stop offset="0.729" stop-color="#878787"/><stop offset="0.7345" stop-color="#9c9c9c"/><stop offset="0.7391" stop-color="#b1b1b1"/><stop offset="0.7427" stop-color="#bcbcbc"/><stop offset="0.7454" stop-color="#c7c7c7"/><stop offset="0.7477" stop-color="#d8d8d8"/><stop offset="0.75" stop-color="#d7d7d7"/><stop offset="0.9068" stop-color="#e2e2e2"/><stop offset="0.9075" stop-color="#c0c0c0"/><stop offset="0.9097" stop-color="#b8b8b8"/><stop offset="0.9133" stop-color="#a8a8a8"/><stop offset="0.9179" stop-color="#9b9b9b"/><stop offset="0.9279" stop-color="#898989"/><stop offset="0.9507" stop-color="#828282"/><stop offset="1" stop-color="#7a7a7a"/></linearGradient>
<filter id="f27" x="0" y="0" width="1" height="1" color-interpolation-filters="sRGB"><feTurbulence type="fractalNoise" baseFrequency="0.72 0.0003" numOctaves="2" seed="192" result="n"/><feColorMatrix in="n" type="matrix" values="1 0 0 0 0 1 0 0 0 0 1 0 0 0 0 0 0 0 0 1" result="m"/><feComposite in="SourceGraphic" in2="m" operator="arithmetic" k1="0" k2="1" k3="0.250" k4="-0.1250" result="s"/><feComponentTransfer in="s"><feFuncR type="table" tableValues="0 0 0 0 0 0 .5 1 1 1 .5"/><feFuncG type="table" tableValues="0 0 0 0 .5 1 1 1 .5 0 0"/><feFuncB type="table" tableValues=".5625 .5625 .5625 1 1 1 .5 0 0 0 0"/></feComponentTransfer></filter>
<linearGradient id="g28" gradientUnits="userSpaceOnUse" x1="208" x2="1304" y1="0" y2="0"><stop offset="0" stop-color="#b9b9b9"/><stop offset="0.2126" stop-color="#b2b2b2"/><stop offset="0.2172" stop-color="#a6a6a6"/><stop offset="0.2222" stop-color="#979797"/><stop offset="0.2245" stop-color="#818181"/><stop offset="0.2258" stop-color="#666666"/><stop offset="0.2272" stop-color="#505050"/><stop offset="0.2274" stop-color="#505050"/><stop offset="0.2482" stop-color="#414141"/><stop offset="0.2504" stop-color="#2f2f2f"/><stop offset="0.2558" stop-color="#2f2f2f"/><stop offset="0.2701" stop-color="#2f2f2f"/><stop offset="0.2755" stop-color="#2f2f2f"/><stop offset="0.2892" stop-color="#454545"/><stop offset="0.3068" stop-color="#666666"/><stop offset="0.3157" stop-color="#818181"/><stop offset="0.3277" stop-color="#999999"/><stop offset="0.3469" stop-color="#b1b1b1"/><stop offset="0.3672" stop-color="#bababa"/><stop offset="0.4015" stop-color="#bababa"/><stop offset="0.4144" stop-color="#999999"/><stop offset="0.4235" stop-color="#818181"/><stop offset="0.4345" stop-color="#494949"/><stop offset="0.442" stop-color="#2f2f2f"/><stop offset="0.4464" stop-color="#161616"/><stop offset="0.4554" stop-color="#161616"/><stop offset="0.4619" stop-color="#161616"/><stop offset="0.4633" stop-color="#666666"/><stop offset="0.4644" stop-color="#666666"/><stop offset="0.4728" stop-color="#818181"/><stop offset="0.479" stop-color="#959595"/><stop offset="0.4945" stop-color="#959595"/><stop offset="0.5036" stop-color="#959595"/><stop offset="0.5109" stop-color="#959595"/><stop offset="0.531" stop-color="#8a8a8a"/><stop offset="0.5538" stop-color="#838383"/><stop offset="0.5858" stop-color="#7f7f7f"/><stop offset="0.6314" stop-color="#7b7b7b"/><stop offset="0.677" stop-color="#787878"/><stop offset="0.729" stop-color="#767676"/><stop offset="0.7345" stop-color="#898989"/><stop offset="0.7391" stop-color="#9c9c9c"/><stop offset="0.7427" stop-color="#a5a5a5"/><stop offset="0.7454" stop-color="#afafaf"/><stop offset="0.7477" stop-color="#bebebe"/><stop offset="0.75" stop-color="#bdbdbd"/><stop offset="0.9068" stop-color="#c8c8c8"/><stop offset="0.9075" stop-color="#bababa"/><stop offset="0.9097" stop-color="#b1b1b1"/><stop offset="0.9133" stop-color="#a2a2a2"/><stop offset="0.9179" stop-color="#959595"/><stop offset="0.9279" stop-color="#838383"/><stop offset="0.9507" stop-color="#7a7a7a"/><stop offset="1" stop-color="#727272"/></linearGradient>
<filter id="f28" x="0" y="0" width="1" height="1" color-interpolation-filters="sRGB"><feTurbulence type="fractalNoise" baseFrequency="0.72 0.0003" numOctaves="2" seed="199" result="n"/><feColorMatrix in="n" type="matrix" values="1 0 0 0 0 1 0 0 0 0 1 0 0 0 0 0 0 0 0 1" result="m"/><feComposite in="SourceGraphic" in2="m" operator="arithmetic" k1="0" k2="1" k3="0.250" k4="-0.1250" result="s"/><feComponentTransfer in="s"><feFuncR type="table" tableValues="0 0 0 0 0 0 .5 1 1 1 .5"/><feFuncG type="table" tableValues="0 0 0 0 .5 1 1 1 .5 0 0"/><feFuncB type="table" tableValues=".5625 .5625 .5625 1 1 1 .5 0 0 0 0"/></feComponentTransfer></filter>
<linearGradient id="g29" gradientUnits="userSpaceOnUse" x1="208" x2="1304" y1="0" y2="0"><stop offset="0" stop-color="#b0b0b0"/><stop offset="0.2126" stop-color="#aaaaaa"/><stop offset="0.2172" stop-color="#9e9e9e"/><stop offset="0.2222" stop-color="#8f8f8f"/><stop offset="0.2245" stop-color="#797979"/><stop offset="0.2258" stop-color="#5f5f5f"/><stop offset="0.2272" stop-color="#494949"/><stop offset="0.2274" stop-color="#494949"/><stop offset="0.2628" stop-color="#3e3e3e"/><stop offset="0.2671" stop-color="#333333"/><stop offset="0.2734" stop-color="#333333"/><stop offset="0.287" stop-color="#454545"/><stop offset="0.3031" stop-color="#666666"/><stop offset="0.3141" stop-color="#818181"/><stop offset="0.3277" stop-color="#999999"/><stop offset="0.3487" stop-color="#b1b1b1"/><stop offset="0.3708" stop-color="#c6c6c6"/><stop offset="0.4015" stop-color="#c6c6c6"/><stop offset="0.4126" stop-color="#b1b1b1"/><stop offset="0.419" stop-color="#999999"/><stop offset="0.4272" stop-color="#818181"/><stop offset="0.4354" stop-color="#666666"/><stop offset="0.4441" stop-color="#494949"/><stop offset="0.4559" stop-color="#494949"/><stop offset="0.4619" stop-color="#494949"/><stop offset="0.4633" stop-color="#666666"/><stop offset="0.4644" stop-color="#666666"/><stop offset="0.4746" stop-color="#818181"/><stop offset="0.4827" stop-color="#959595"/><stop offset="0.4945" stop-color="#959595"/><stop offset="0.5036" stop-color="#959595"/><stop offset="0.5109" stop-color="#959595"/><stop offset="0.531" stop-color="#898989"/><stop offset="0.5538" stop-color="#828282"/><stop offset="0.5858" stop-color="#7d7d7d"/><stop offset="0.6314" stop-color="#7a7a7a"/><stop offset="0.677" stop-color="#777777"/><stop offset="0.729" stop-color="#7a7a7a"/><stop offset="0.7345" stop-color="#898989"/><stop offset="0.7391" stop-color="#999999"/><stop offset="0.7427" stop-color="#a0a0a0"/><stop offset="0.7454" stop-color="#a8a8a8"/><stop offset="0.7477" stop-color="#b5b5b5"/><stop offset="0.75" stop-color="#b2b2b2"/><stop offset="0.9068" stop-color="#bebebe"/><stop offset="0.9075" stop-color="#bababa"/><stop offset="0.9097" stop-color="#b1b1b1"/><stop offset="0.9133" stop-color="#a2a2a2"/><stop offset="0.9179" stop-color="#959595"/><stop offset="0.9279" stop-color="#838383"/><stop offset="0.9507" stop-color="#7a7a7a"/><stop offset="1" stop-color="#727272"/></linearGradient>
<filter id="f29" x="0" y="0" width="1" height="1" color-interpolation-filters="sRGB"><feTurbulence type="fractalNoise" baseFrequency="0.72 0.0003" numOctaves="2" seed="206" result="n"/><feColorMatrix in="n" type="matrix" values="1 0 0 0 0 1 0 0 0 0 1 0 0 0 0 0 0 0 0 1" result="m"/><feComposite in="SourceGraphic" in2="m" operator="arithmetic" k1="0" k2="1" k3="0.250" k4="-0.1250" result="s"/><feComponentTransfer in="s"><feFuncR type="table" tableValues="0 0 0 0 0 0 .5 1 1 1 .5"/><feFuncG type="table" tableValues="0 0 0 0 .5 1 1 1 .5 0 0"/><feFuncB type="table" tableValues=".5625 .5625 .5625 1 1 1 .5 0 0 0 0"/></feComponentTransfer></filter>
<linearGradient id="g30" gradientUnits="userSpaceOnUse" x1="208" x2="1304" y1="0" y2="0"><stop offset="0" stop-color="#bfbfbf"/><stop offset="0.2126" stop-color="#b9b9b9"/><stop offset="0.2172" stop-color="#b3b3b3"/><stop offset="0.2222" stop-color="#aaaaaa"/><stop offset="0.2245" stop-color="#9d9d9d"/><stop offset="0.2258" stop-color="#8e8e8e"/><stop offset="0.2272" stop-color="#818181"/><stop offset="0.2274" stop-color="#818181"/><stop offset="0.2391" stop-color="#747474"/><stop offset="0.245" stop-color="#686868"/><stop offset="0.2595" stop-color="#474747"/><stop offset="0.2865" stop-color="#474747"/><stop offset="0.3013" stop-color="#666666"/><stop offset="0.3177" stop-color="#818181"/><stop offset="0.3361" stop-color="#939393"/><stop offset="0.4051" stop-color="#939393"/><stop offset="0.4199" stop-color="#818181"/><stop offset="0.4299" stop-color="#666666"/><stop offset="0.4397" stop-color="#454545"/><stop offset="0.4548" stop-color="#454545"/><stop offset="0.4619" stop-color="#454545"/><stop offset="0.4633" stop-color="#818181"/><stop offset="0.4662" stop-color="#818181"/><stop offset="0.4735" stop-color="#999999"/><stop offset="0.4945" stop-color="#999999"/><stop offset="0.5036" stop-color="#999999"/><stop offset="0.5109" stop-color="#999999"/><stop offset="0.531" stop-color="#919191"/><stop offset="0.5538" stop-color="#8c8c8c"/><stop offset="0.5858" stop-color="#898989"/><stop offset="0.6314" stop-color="#878787"/><stop offset="0.677" stop-color="#858585"/><stop offset="0.729" stop-color="#7e7e7e"/><stop offset="0.7345" stop-color="#8f8f8f"/><stop offset="0.7391" stop-color="#a0a0a0"/><stop offset="0.7427" stop-color="#a8a8a8"/><stop offset="0.7454" stop-color="#b1b1b1"/><stop offset="0.7477" stop-color="#bebebe"/><stop offset="0.75" stop-color="#bdbdbd"/><stop offset="0.9068" stop-color="#c8c8c8"/><stop offset="0.9075" stop-color="#bababa"/><stop offset="0.9097" stop-color="#b1b1b1"/><stop offset="0.9133" stop-color="#a2a2a2"/><stop offset="0.9179" stop-color="#959595"/><stop offset="0.9279" stop-color="#838383"/><stop offset="0.9507" stop-color="#7c7c7c"/><stop offset="1" stop-color="#767676"/></linearGradient>
<filter id="f30" x="0" y="0" width="1" height="1" color-interpolation-filters="sRGB"><feTurbulence type="fractalNoise" baseFrequency="0.72 0.0003" numOctaves="2" seed="213" result="n"/><feColorMatrix in="n" type="matrix" values="1 0 0 0 0 1 0 0 0 0 1 0 0 0 0 0 0 0 0 1" result="m"/><feComposite in="SourceGraphic" in2="m" operator="arithmetic" k1="0" k2="1" k3="0.250" k4="-0.1250" result="s"/><feComponentTransfer in="s"><feFuncR type="table" tableValues="0 0 0 0 0 0 .5 1 1 1 .5"/><feFuncG type="table" tableValues="0 0 0 0 .5 1 1 1 .5 0 0"/><feFuncB type="table" tableValues=".5625 .5625 .5625 1 1 1 .5 0 0 0 0"/></feComponentTransfer></filter>
<linearGradient id="g31" gradientUnits="userSpaceOnUse" x1="208" x2="1304" y1="0" y2="0"><stop offset="0" stop-color="#d1d1d1"/><stop offset="0.2126" stop-color="#cbcbcb"/><stop offset="0.2172" stop-color="#c2c2c2"/><stop offset="0.2222" stop-color="#b7b7b7"/><stop offset="0.2245" stop-color="#a6a6a6"/><stop offset="0.2258" stop-color="#929292"/><stop offset="0.2272" stop-color="#818181"/><stop offset="0.2274" stop-color="#818181"/><stop offset="0.2354" stop-color="#818181"/><stop offset="0.2422" stop-color="#686868"/><stop offset="0.263" stop-color="#454545"/><stop offset="0.2777" stop-color="#2f2f2f"/><stop offset="0.2832" stop-color="#2d2d2d"/><stop offset="0.3066" stop-color="#2d2d2d"/><stop offset="0.312" stop-color="#2f2f2f"/><stop offset="0.3203" stop-color="#4b4b4b"/><stop offset="0.4142" stop-color="#4b4b4b"/><stop offset="0.4237" stop-color="#2f2f2f"/><stop offset="0.4292" stop-color="#161616"/><stop offset="0.4471" stop-color="#161616"/><stop offset="0.4526" stop-color="#2f2f2f"/><stop offset="0.4573" stop-color="#454545"/><stop offset="0.4619" stop-color="#454545"/><stop offset="0.4633" stop-color="#818181"/><stop offset="0.4672" stop-color="#818181"/><stop offset="0.4783" stop-color="#999999"/><stop offset="0.4845" stop-color="#adadad"/><stop offset="0.4945" stop-color="#adadad"/><stop offset="0.5036" stop-color="#adadad"/><stop offset="0.5109" stop-color="#adadad"/><stop offset="0.531" stop-color="#a2a2a2"/><stop offset="0.5538" stop-color="#9a9a9a"/><stop offset="0.5858" stop-color="#969696"/><stop offset="0.6314" stop-color="#929292"/><stop offset="0.677" stop-color="#8f8f8f"/><stop offset="0.729" stop-color="#898989"/><stop offset="0.7345" stop-color="#989898"/><stop offset="0.7391" stop-color="#a7a7a7"/><stop offset="0.7427" stop-color="#afafaf"/><stop offset="0.7454" stop-color="#b7b7b7"/><stop offset="0.7477" stop-color="#c3c3c3"/><stop offset="0.75" stop-color="#c1c1c1"/><stop offset="0.9068" stop-color="#cccccc"/><stop offset="0.9075" stop-color="#bababa"/><stop offset="0.9097" stop-color="#b1b1b1"/><stop offset="0.9133" stop-color="#a2a2a2"/><stop offset="0.9179" stop-color="#959595"/><stop offset="0.9279" stop-color="#838383"/><stop offset="0.9507" stop-color="#7a7a7a"/><stop offset="1" stop-color="#727272"/></linearGradient>
<filter id="f31" x="0" y="0" width="1" height="1" color-interpolation-filters="sRGB"><feTurbulence type="fractalNoise" baseFrequency="0.72 0.0003" numOctaves="2" seed="220" result="n"/><feColorMatrix in="n" type="matrix" values="1 0 0 0 0 1 0 0 0 0 1 0 0 0 0 0 0 0 0 1" result="m"/><feComposite in="SourceGraphic" in2="m" operator="arithmetic" k1="0" k2="1" k3="0.250" k4="-0.1250" result="s"/><feComponentTransfer in="s"><feFuncR type="table" tableValues="0 0 0 0 0 0 .5 1 1 1 .5"/><feFuncG type="table" tableValues="0 0 0 0 .5 1 1 1 .5 0 0"/><feFuncB type="table" tableValues=".5625 .5625 .5625 1 1 1 .5 0 0 0 0"/></feComponentTransfer></filter>
<linearGradient id="g32" gradientUnits="userSpaceOnUse" x1="208" x2="1304" y1="0" y2="0"><stop offset="0" stop-color="#dbdbdb"/><stop offset="0.2126" stop-color="#d5d5d5"/><stop offset="0.2172" stop-color="#cbcbcb"/><stop offset="0.2222" stop-color="#bebebe"/><stop offset="0.2245" stop-color="#ababab"/><stop offset="0.2258" stop-color="#949494"/><stop offset="0.2272" stop-color="#818181"/><stop offset="0.2274" stop-color="#818181"/><stop offset="0.2391" stop-color="#747474"/><stop offset="0.245" stop-color="#686868"/><stop offset="0.2536" stop-color="#2f2f2f"/><stop offset="0.2591" stop-color="#161616"/><stop offset="0.2883" stop-color="#161616"/><stop offset="0.2938" stop-color="#2f2f2f"/><stop offset="0.3074" stop-color="#4d4d4d"/><stop offset="0.3226" stop-color="#4d4d4d"/><stop offset="0.3434" stop-color="#6c6c6c"/><stop offset="0.4015" stop-color="#6c6c6c"/><stop offset="0.419" stop-color="#494949"/><stop offset="0.4292" stop-color="#2f2f2f"/><stop offset="0.4347" stop-color="#161616"/><stop offset="0.4544" stop-color="#161616"/><stop offset="0.4619" stop-color="#161616"/><stop offset="0.4633" stop-color="#818181"/><stop offset="0.4662" stop-color="#818181"/><stop offset="0.4774" stop-color="#999999"/><stop offset="0.4845" stop-color="#adadad"/><stop offset="0.4945" stop-color="#adadad"/><stop offset="0.5036" stop-color="#adadad"/><stop offset="0.5109" stop-color="#adadad"/><stop offset="0.531" stop-color="#a1a1a1"/><stop offset="0.5538" stop-color="#999999"/><stop offset="0.5858" stop-color="#949494"/><stop offset="0.6314" stop-color="#909090"/><stop offset="0.677" stop-color="#8d8d8d"/><stop offset="0.729" stop-color="#878787"/><stop offset="0.7345" stop-color="#9b9b9b"/><stop offset="0.7391" stop-color="#aeaeae"/><stop offset="0.7427" stop-color="#b8b8b8"/><stop offset="0.7454" stop-color="#c2c2c2"/><stop offset="0.7477" stop-color="#d2d2d2"/><stop offset="0.75" stop-color="#d1d1d1"/><stop offset="0.9068" stop-color="#dcdcdc"/><stop offset="0.9075" stop-color="#bcbcbc"/><stop offset="0.9097" stop-color="#b4b4b4"/><stop offset="0.9133" stop-color="#a4a4a4"/><stop offset="0.9179" stop-color="#979797"/><stop offset="0.9279" stop-color="#858585"/><stop offset="0.9507" stop-color="#7d7d7d"/><stop offset="1" stop-color="#767676"/></linearGradient>
<filter id="f32" x="0" y="0" width="1" height="1" color-interpolation-filters="sRGB"><feTurbulence type="fractalNoise" baseFrequency="0.72 0.0003" numOctaves="2" seed="227" result="n"/><feColorMatrix in="n" type="matrix" values="1 0 0 0 0 1 0 0 0 0 1 0 0 0 0 0 0 0 0 1" result="m"/><feComposite in="SourceGraphic" in2="m" operator="arithmetic" k1="0" k2="1" k3="0.250" k4="-0.1250" result="s"/><feComponentTransfer in="s"><feFuncR type="table" tableValues="0 0 0 0 0 0 .5 1 1 1 .5"/><feFuncG type="table" tableValues="0 0 0 0 .5 1 1 1 .5 0 0"/><feFuncB type="table" tableValues=".5625 .5625 .5625 1 1 1 .5 0 0 0 0"/></feComponentTransfer></filter>
<linearGradient id="g33" gradientUnits="userSpaceOnUse" x1="208" x2="1304" y1="0" y2="0"><stop offset="0" stop-color="#dddddd"/><stop offset="0.2126" stop-color="#d7d7d7"/><stop offset="0.2172" stop-color="#cdcdcd"/><stop offset="0.2222" stop-color="#bfbfbf"/><stop offset="0.2245" stop-color="#acacac"/><stop offset="0.2258" stop-color="#949494"/><stop offset="0.2272" stop-color="#818181"/><stop offset="0.2274" stop-color="#818181"/><stop offset="0.2354" stop-color="#818181"/><stop offset="0.2413" stop-color="#686868"/><stop offset="0.2496" stop-color="#2f2f2f"/><stop offset="0.2551" stop-color="#161616"/><stop offset="0.2956" stop-color="#161616"/><stop offset="0.3011" stop-color="#2f2f2f"/><stop offset="0.3113" stop-color="#494949"/><stop offset="0.3271" stop-color="#666666"/><stop offset="0.3434" stop-color="#7e7e7e"/><stop offset="0.4051" stop-color="#858585"/><stop offset="0.4181" stop-color="#666666"/><stop offset="0.4281" stop-color="#494949"/><stop offset="0.4347" stop-color="#2f2f2f"/><stop offset="0.4401" stop-color="#161616"/><stop offset="0.4544" stop-color="#161616"/><stop offset="0.4619" stop-color="#161616"/><stop offset="0.4633" stop-color="#818181"/><stop offset="0.4662" stop-color="#818181"/><stop offset="0.4774" stop-color="#999999"/><stop offset="0.4845" stop-color="#adadad"/><stop offset="0.4945" stop-color="#adadad"/><stop offset="0.5036" stop-color="#adadad"/><stop offset="0.5109" stop-color="#adadad"/><stop offset="0.531" stop-color="#a1a1a1"/><stop offset="0.5538" stop-color="#999999"/><stop offset="0.5858" stop-color="#949494"/><stop offset="0.6314" stop-color="#909090"/><stop offset="0.677" stop-color="#8d8d8d"/><stop offset="0.729" stop-color="#878787"/><stop offset="0.7345" stop-color="#9d9d9d"/><stop offset="0.7391" stop-color="#b4b4b4"/><stop offset="0.7427" stop-color="#bebebe"/><stop offset="0.7454" stop-color="#cacaca"/><stop offset="0.7477" stop-color="#dcdcdc"/><stop offset="0.75" stop-color="#dbdbdb"/><stop offset="0.9068" stop-color="#e7e7e7"/><stop offset="0.9075" stop-color="#bcbcbc"/><stop offset="0.9097" stop-color="#b4b4b4"/><stop offset="0.9133" stop-color="#a4a4a4"/><stop offset="0.9179" stop-color="#979797"/><stop offset="0.9279" stop-color="#858585"/><stop offset="0.9507" stop-color="#7d7d7d"/><stop offset="1" stop-color="#767676"/></linearGradient>
<filter id="f33" x="0" y="0" width="1" height="1" color-interpolation-filters="sRGB"><feTurbulence type="fractalNoise" baseFrequency="0.72 0.0003" numOctaves="2" seed="234" result="n"/><feColorMatrix in="n" type="matrix" values="1 0 0 0 0 1 0 0 0 0 1 0 0 0 0 0 0 0 0 1" result="m"/><feComposite in="SourceGraphic" in2="m" operator="arithmetic" k1="0" k2="1" k3="0.250" k4="-0.1250" result="s"/><feComponentTransfer in="s"><feFuncR type="table" tableValues="0 0 0 0 0 0 .5 1 1 1 .5"/><feFuncG type="table" tableValues="0 0 0 0 .5 1 1 1 .5 0 0"/><feFuncB type="table" tableValues=".5625 .5625 .5625 1 1 1 .5 0 0 0 0"/></feComponentTransfer></filter>
<linearGradient id="g34" gradientUnits="userSpaceOnUse" x1="208" x2="1304" y1="0" y2="0"><stop offset="0" stop-color="#bdbdbd"/><stop offset="0.2126" stop-color="#b7b7b7"/><stop offset="0.2172" stop-color="#a9a9a9"/><stop offset="0.2222" stop-color="#999999"/><stop offset="0.2245" stop-color="#808080"/><stop offset="0.2258" stop-color="#646464"/><stop offset="0.2272" stop-color="#4b4b4b"/><stop offset="0.2274" stop-color="#4b4b4b"/><stop offset="0.2445" stop-color="#3f3f3f"/><stop offset="0.2467" stop-color="#2f2f2f"/><stop offset="0.2522" stop-color="#161616"/><stop offset="0.2792" stop-color="#161616"/><stop offset="0.2847" stop-color="#2f2f2f"/><stop offset="0.2967" stop-color="#454545"/><stop offset="0.3195" stop-color="#818181"/><stop offset="0.3451" stop-color="#999999"/><stop offset="0.3672" stop-color="#afafaf"/><stop offset="0.4015" stop-color="#afafaf"/><stop offset="0.4135" stop-color="#999999"/><stop offset="0.4217" stop-color="#818181"/><stop offset="0.4345" stop-color="#494949"/><stop offset="0.4438" stop-color="#2f2f2f"/><stop offset="0.4478" stop-color="#161616"/><stop offset="0.4558" stop-color="#161616"/><stop offset="0.4619" stop-color="#161616"/><stop offset="0.4633" stop-color="#666666"/><stop offset="0.4653" stop-color="#666666"/><stop offset="0.4755" stop-color="#818181"/><stop offset="0.4827" stop-color="#959595"/><stop offset="0.4945" stop-color="#959595"/><stop offset="0.5036" stop-color="#959595"/><stop offset="0.5109" stop-color="#959595"/><stop offset="0.531" stop-color="#888888"/><stop offset="0.5538" stop-color="#808080"/><stop offset="0.5858" stop-color="#7a7a7a"/><stop offset="0.6314" stop-color="#767676"/><stop offset="0.677" stop-color="#737373"/><stop offset="0.729" stop-color="#767676"/><stop offset="0.7345" stop-color="#8b8b8b"/><stop offset="0.7391" stop-color="#a0a0a0"/><stop offset="0.7427" stop-color="#aaaaaa"/><stop offset="0.7454" stop-color="#b5b5b5"/><stop offset="0.7477" stop-color="#c6c6c6"/><stop offset="0.75" stop-color="#c5c5c5"/><stop offset="0.9068" stop-color="#d0d0d0"/><stop offset="0.9075" stop-color="#b6b6b6"/><stop offset="0.9097" stop-color="#adadad"/><stop offset="0.9133" stop-color="#9e9e9e"/><stop offset="0.9179" stop-color="#919191"/><stop offset="0.9279" stop-color="#7e7e7e"/><stop offset="0.9507" stop-color="#777777"/><stop offset="1" stop-color="#707070"/></linearGradient>
<filter id="f34" x="0" y="0" width="1" height="1" color-interpolation-filters="sRGB"><feTurbulence type="fractalNoise" baseFrequency="0.72 0.0003" numOctaves="2" seed="241" result="n"/><feColorMatrix in="n" type="matrix" values="1 0 0 0 0 1 0 0 0 0 1 0 0 0 0 0 0 0 0 1" result="m"/><feComposite in="SourceGraphic" in2="m" operator="arithmetic" k1="0" k2="1" k3="0.250" k4="-0.1250" result="s"/><feComponentTransfer in="s"><feFuncR type="table" tableValues="0 0 0 0 0 0 .5 1 1 1 .5"/><feFuncG type="table" tableValues="0 0 0 0 .5 1 1 1 .5 0 0"/><feFuncB type="table" tableValues=".5625 .5625 .5625 1 1 1 .5 0 0 0 0"/></feComponentTransfer></filter>
<linearGradient id="g35" gradientUnits="userSpaceOnUse" x1="208" x2="1304" y1="0" y2="0"><stop offset="0" stop-color="#c9c9c9"/><stop offset="0.2126" stop-color="#c3c3c3"/><stop offset="0.2172" stop-color="#bbbbbb"/><stop offset="0.2222" stop-color="#b1b1b1"/><stop offset="0.2245" stop-color="#a2a2a2"/><stop offset="0.2258" stop-color="#909090"/><stop offset="0.2272" stop-color="#818181"/><stop offset="0.2274" stop-color="#818181"/><stop offset="0.2391" stop-color="#747474"/><stop offset="0.2441" stop-color="#686868"/><stop offset="0.2547" stop-color="#494949"/><stop offset="0.2613" stop-color="#2f2f2f"/><stop offset="0.2649" stop-color="#2d2d2d"/><stop offset="0.272" stop-color="#2d2d2d"/><stop offset="0.2755" stop-color="#2f2f2f"/><stop offset="0.2878" stop-color="#474747"/><stop offset="0.3016" stop-color="#474747"/><stop offset="0.3204" stop-color="#666666"/><stop offset="0.3369" stop-color="#818181"/><stop offset="0.3549" stop-color="#8f8f8f"/><stop offset="0.4015" stop-color="#8f8f8f"/><stop offset="0.4153" stop-color="#818181"/><stop offset="0.4263" stop-color="#666666"/><stop offset="0.4382" stop-color="#454545"/><stop offset="0.4545" stop-color="#454545"/><stop offset="0.4619" stop-color="#454545"/><stop offset="0.4633" stop-color="#818181"/><stop offset="0.4662" stop-color="#818181"/><stop offset="0.4735" stop-color="#9d9d9d"/><stop offset="0.4945" stop-color="#9d9d9d"/><stop offset="0.5036" stop-color="#9d9d9d"/><stop offset="0.5109" stop-color="#9d9d9d"/><stop offset="0.531" stop-color="#959595"/><stop offset="0.5538" stop-color="#909090"/><stop offset="0.5858" stop-color="#8d8d8d"/><stop offset="0.6314" stop-color="#8b8b8b"/><stop offset="0.677" stop-color="#898989"/><stop offset="0.729" stop-color="#838383"/><stop offset="0.7345" stop-color="#959595"/><stop offset="0.7391" stop-color="#a7a7a7"/><stop offset="0.7427" stop-color="#b0b0b0"/><stop offset="0.7454" stop-color="#bababa"/><stop offset="0.7477" stop-color="#c8c8c8"/><stop offset="0.75" stop-color="#c7c7c7"/><stop offset="0.9068" stop-color="#d2d2d2"/><stop offset="0.9075" stop-color="#bababa"/><stop offset="0.9097" stop-color="#b1b1b1"/><stop offset="0.9133" stop-color="#a2a2a2"/><stop offset="0.9179" stop-color="#959595"/><stop offset="0.9279" stop-color="#838383"/><stop offset="0.9507" stop-color="#7c7c7c"/><stop offset="1" stop-color="#767676"/></linearGradient>
<filter id="f35" x="0" y="0" width="1" height="1" color-interpolation-filters="sRGB"><feTurbulence type="fractalNoise" baseFrequency="0.72 0.0003" numOctaves="2" seed="248" result="n"/><feColorMatrix in="n" type="matrix" values="1 0 0 0 0 1 0 0 0 0 1 0 0 0 0 0 0 0 0 1" result="m"/><feComposite in="SourceGraphic" in2="m" operator="arithmetic" k1="0" k2="1" k3="0.250" k4="-0.1250" result="s"/><feComponentTransfer in="s"><feFuncR type="table" tableValues="0 0 0 0 0 0 .5 1 1 1 .5"/><feFuncG type="table" tableValues="0 0 0 0 .5 1 1 1 .5 0 0"/><feFuncB type="table" tableValues=".5625 .5625 .5625 1 1 1 .5 0 0 0 0"/></feComponentTransfer></filter>
<linearGradient id="g36" gradientUnits="userSpaceOnUse" x1="208" x2="1304" y1="0" y2="0"><stop offset="0" stop-color="#cfcfcf"/><stop offset="0.2126" stop-color="#c9c9c9"/><stop offset="0.2172" stop-color="#c1c1c1"/><stop offset="0.2222" stop-color="#b5b5b5"/><stop offset="0.2245" stop-color="#a5a5a5"/><stop offset="0.2258" stop-color="#919191"/><stop offset="0.2272" stop-color="#818181"/><stop offset="0.2274" stop-color="#818181"/><stop offset="0.2336" stop-color="#818181"/><stop offset="0.2413" stop-color="#686868"/><stop offset="0.2554" stop-color="#3d3d3d"/><stop offset="0.2705" stop-color="#3d3d3d"/><stop offset="0.2911" stop-color="#454545"/><stop offset="0.3168" stop-color="#606060"/><stop offset="0.3367" stop-color="#707070"/><stop offset="0.4069" stop-color="#787878"/><stop offset="0.4217" stop-color="#494949"/><stop offset="0.4292" stop-color="#2f2f2f"/><stop offset="0.4314" stop-color="#2d2d2d"/><stop offset="0.4358" stop-color="#2d2d2d"/><stop offset="0.438" stop-color="#2f2f2f"/><stop offset="0.4498" stop-color="#3f3f3f"/><stop offset="0.4619" stop-color="#3f3f3f"/><stop offset="0.4633" stop-color="#818181"/><stop offset="0.4672" stop-color="#818181"/><stop offset="0.4772" stop-color="#9d9d9d"/><stop offset="0.4945" stop-color="#9d9d9d"/><stop offset="0.5036" stop-color="#9d9d9d"/><stop offset="0.5109" stop-color="#9d9d9d"/><stop offset="0.531" stop-color="#959595"/><stop offset="0.5538" stop-color="#909090"/><stop offset="0.5858" stop-color="#8d8d8d"/><stop offset="0.6314" stop-color="#8b8b8b"/><stop offset="0.677" stop-color="#898989"/><stop offset="0.729" stop-color="#838383"/><stop offset="0.7345" stop-color="#959595"/><stop offset="0.7391" stop-color="#a7a7a7"/><stop offset="0.7427" stop-color="#b0b0b0"/><stop offset="0.7454" stop-color="#bababa"/><stop offset="0.7477" stop-color="#c8c8c8"/><stop offset="0.75" stop-color="#c7c7c7"/><stop offset="0.9068" stop-color="#d2d2d2"/><stop offset="0.9075" stop-color="#bababa"/><stop offset="0.9097" stop-color="#b1b1b1"/><stop offset="0.9133" stop-color="#a2a2a2"/><stop offset="0.9179" stop-color="#959595"/><stop offset="0.9279" stop-color="#838383"/><stop offset="0.9507" stop-color="#7c7c7c"/><stop offset="1" stop-color="#767676"/></linearGradient>
<filter id="f36" x="0" y="0" width="1" height="1" color-interpolation-filters="sRGB"><feTurbulence type="fractalNoise" baseFrequency="0.72 0.0003" numOctaves="2" seed="255" result="n"/><feColorMatrix in="n" type="matrix" values="1 0 0 0 0 1 0 0 0 0 1 0 0 0 0 0 0 0 0 1" result="m"/><feComposite in="SourceGraphic" in2="m" operator="arithmetic" k1="0" k2="1" k3="0.250" k4="-0.1250" result="s"/><feComponentTransfer in="s"><feFuncR type="table" tableValues="0 0 0 0 0 0 .5 1 1 1 .5"/><feFuncG type="table" tableValues="0 0 0 0 .5 1 1 1 .5 0 0"/><feFuncB type="table" tableValues=".5625 .5625 .5625 1 1 1 .5 0 0 0 0"/></feComponentTransfer></filter>
<linearGradient id="g37" gradientUnits="userSpaceOnUse" x1="208" x2="1304" y1="0" y2="0"><stop offset="0" stop-color="#dddddd"/><stop offset="0.2126" stop-color="#d7d7d7"/><stop offset="0.2172" stop-color="#cdcdcd"/><stop offset="0.2222" stop-color="#bfbfbf"/><stop offset="0.2245" stop-color="#acacac"/><stop offset="0.2258" stop-color="#949494"/><stop offset="0.2272" stop-color="#818181"/><stop offset="0.2274" stop-color="#818181"/><stop offset="0.2391" stop-color="#747474"/><stop offset="0.2441" stop-color="#686868"/><stop offset="0.252" stop-color="#494949"/><stop offset="0.2558" stop-color="#2f2f2f"/><stop offset="0.2613" stop-color="#161616"/><stop offset="0.3011" stop-color="#161616"/><stop offset="0.3066" stop-color="#2f2f2f"/><stop offset="0.3316" stop-color="#494949"/><stop offset="0.3622" stop-color="#494949"/><stop offset="0.3912" stop-color="#515151"/><stop offset="0.4044" stop-color="#515151"/><stop offset="0.4161" stop-color="#454545"/><stop offset="0.4237" stop-color="#2f2f2f"/><stop offset="0.4292" stop-color="#161616"/><stop offset="0.4471" stop-color="#161616"/><stop offset="0.4526" stop-color="#2f2f2f"/><stop offset="0.4573" stop-color="#454545"/><stop offset="0.4619" stop-color="#454545"/><stop offset="0.4633" stop-color="#818181"/><stop offset="0.4662" stop-color="#818181"/><stop offset="0.4774" stop-color="#999999"/><stop offset="0.4845" stop-color="#adadad"/><stop offset="0.4945" stop-color="#adadad"/><stop offset="0.5036" stop-color="#adadad"/><stop offset="0.5109" stop-color="#adadad"/><stop offset="0.531" stop-color="#a2a2a2"/><stop offset="0.5538" stop-color="#9a9a9a"/><stop offset="0.5858" stop-color="#969696"/><stop offset="0.6314" stop-color="#929292"/><stop offset="0.677" stop-color="#8f8f8f"/><stop offset="0.729" stop-color="#898989"/><stop offset="0.7345" stop-color="#9c9c9c"/><stop offset="0.7391" stop-color="#aeaeae"/><stop offset="0.7427" stop-color="#b7b7b7"/><stop offset="0.7454" stop-color="#c1c1c1"/><stop offset="0.7477" stop-color="#d0d0d0"/><stop offset="0.75" stop-color="#cfcfcf"/><stop offset="0.9068" stop-color="#dadada"/><stop offset="0.9075" stop-color="#bababa"/><stop offset="0.9097" stop-color="#b1b1b1"/><stop offset="0.9133" stop-color="#a2a2a2"/><stop offset="0.9179" stop-color="#959595"/><stop offset="0.9279" stop-color="#838383"/><stop offset="0.9507" stop-color="#777777"/><stop offset="1" stop-color="#6c6c6c"/></linearGradient>
<filter id="f37" x="0" y="0" width="1" height="1" color-interpolation-filters="sRGB"><feTurbulence type="fractalNoise" baseFrequency="0.72 0.0003" numOctaves="2" seed="262" result="n"/><feColorMatrix in="n" type="matrix" values="1 0 0 0 0 1 0 0 0 0 1 0 0 0 0 0 0 0 0 1" result="m"/><feComposite in="SourceGraphic" in2="m" operator="arithmetic" k1="0" k2="1" k3="0.250" k4="-0.1250" result="s"/><feComponentTransfer in="s"><feFuncR type="table" tableValues="0 0 0 0 0 0 .5 1 1 1 .5"/><feFuncG type="table" tableValues="0 0 0 0 .5 1 1 1 .5 0 0"/><feFuncB type="table" tableValues=".5625 .5625 .5625 1 1 1 .5 0 0 0 0"/></feComponentTransfer></filter>
<linearGradient id="g38" gradientUnits="userSpaceOnUse" x1="208" x2="1304" y1="0" y2="0"><stop offset="0" stop-color="#ebebeb"/><stop offset="0.2126" stop-color="#dedede"/><stop offset="0.2172" stop-color="#d2d2d2"/><stop offset="0.2222" stop-color="#bfbfbf"/><stop offset="0.2245" stop-color="#a4a4a4"/><stop offset="0.2258" stop-color="#838383"/><stop offset="0.2272" stop-color="#686868"/><stop offset="0.2274" stop-color="#686868"/><stop offset="0.2372" stop-color="#686868"/><stop offset="0.2429" stop-color="#494949"/><stop offset="0.2485" stop-color="#2f2f2f"/><stop offset="0.254" stop-color="#161616"/><stop offset="0.3102" stop-color="#161616"/><stop offset="0.3157" stop-color="#2f2f2f"/><stop offset="0.3271" stop-color="#4d4d4d"/><stop offset="0.3393" stop-color="#4d4d4d"/><stop offset="0.3595" stop-color="#606060"/><stop offset="0.4015" stop-color="#606060"/><stop offset="0.4158" stop-color="#494949"/><stop offset="0.4224" stop-color="#2f2f2f"/><stop offset="0.4279" stop-color="#161616"/><stop offset="0.4544" stop-color="#161616"/><stop offset="0.4619" stop-color="#161616"/><stop offset="0.4633" stop-color="#818181"/><stop offset="0.467" stop-color="#818181"/><stop offset="0.4772" stop-color="#999999"/><stop offset="0.4827" stop-color="#bababa"/><stop offset="0.4945" stop-color="#bababa"/><stop offset="0.5036" stop-color="#bababa"/><stop offset="0.5109" stop-color="#bababa"/><stop offset="0.531" stop-color="#a6a6a6"/><stop offset="0.5538" stop-color="#9a9a9a"/><stop offset="0.5858" stop-color="#929292"/><stop offset="0.6314" stop-color="#8c8c8c"/><stop offset="0.677" stop-color="#878787"/><stop offset="0.729" stop-color="#818181"/><stop offset="0.7345" stop-color="#9a9a9a"/><stop offset="0.7391" stop-color="#b4b4b4"/><stop offset="0.7427" stop-color="#c0c0c0"/><stop offset="0.7454" stop-color="#cdcdcd"/><stop offset="0.7477" stop-color="#e1e1e1"/><stop offset="0.75" stop-color="#e1e1e1"/><stop offset="0.9068" stop-color="#ededed"/><stop offset="0.9075" stop-color="#b1b1b1"/><stop offset="0.9097" stop-color="#a9a9a9"/><stop offset="0.9133" stop-color="#9a9a9a"/><stop offset="0.9179" stop-color="#8d8d8d"/><stop offset="0.9279" stop-color="#818181"/><stop offset="0.9507" stop-color="#747474"/><stop offset="1" stop-color="#686868"/></linearGradient>
<filter id="f38" x="0" y="0" width="1" height="1" color-interpolation-filters="sRGB"><feTurbulence type="fractalNoise" baseFrequency="0.72 0.0003" numOctaves="2" seed="269" result="n"/><feColorMatrix in="n" type="matrix" values="1 0 0 0 0 1 0 0 0 0 1 0 0 0 0 0 0 0 0 1" result="m"/><feComposite in="SourceGraphic" in2="m" operator="arithmetic" k1="0" k2="1" k3="0.250" k4="-0.1250" result="s"/><feComponentTransfer in="s"><feFuncR type="table" tableValues="0 0 0 0 0 0 .5 1 1 1 .5"/><feFuncG type="table" tableValues="0 0 0 0 .5 1 1 1 .5 0 0"/><feFuncB type="table" tableValues=".5625 .5625 .5625 1 1 1 .5 0 0 0 0"/></feComponentTransfer></filter>
<linearGradient id="g39" gradientUnits="userSpaceOnUse" x1="208" x2="1304" y1="0" y2="0"><stop offset="0" stop-color="#ebebeb"/><stop offset="0.2126" stop-color="#dedede"/><stop offset="0.2172" stop-color="#d2d2d2"/><stop offset="0.2222" stop-color="#bfbfbf"/><stop offset="0.2245" stop-color="#a4a4a4"/><stop offset="0.2258" stop-color="#838383"/><stop offset="0.2272" stop-color="#686868"/><stop offset="0.2274" stop-color="#686868"/><stop offset="0.2427" stop-color="#595959"/><stop offset="0.2464" stop-color="#494949"/><stop offset="0.2491" stop-color="#2f2f2f"/><stop offset="0.2546" stop-color="#161616"/><stop offset="0.3047" stop-color="#161616"/><stop offset="0.3102" stop-color="#2f2f2f"/><stop offset="0.3166" stop-color="#494949"/><stop offset="0.3378" stop-color="#666666"/><stop offset="0.3622" stop-color="#7e7e7e"/><stop offset="0.396" stop-color="#7e7e7e"/><stop offset="0.4108" stop-color="#666666"/><stop offset="0.4226" stop-color="#494949"/><stop offset="0.4292" stop-color="#2f2f2f"/><stop offset="0.4347" stop-color="#161616"/><stop offset="0.4544" stop-color="#161616"/><stop offset="0.4619" stop-color="#161616"/><stop offset="0.4633" stop-color="#818181"/><stop offset="0.467" stop-color="#818181"/><stop offset="0.4767" stop-color="#999999"/><stop offset="0.4827" stop-color="#b4b4b4"/><stop offset="0.4945" stop-color="#b4b4b4"/><stop offset="0.5036" stop-color="#b8b8b8"/><stop offset="0.5109" stop-color="#b8b8b8"/><stop offset="0.531" stop-color="#a6a6a6"/><stop offset="0.5538" stop-color="#9b9b9b"/><stop offset="0.5858" stop-color="#939393"/><stop offset="0.6314" stop-color="#8d8d8d"/><stop offset="0.677" stop-color="#898989"/><stop offset="0.729" stop-color="#838383"/><stop offset="0.7345" stop-color="#9e9e9e"/><stop offset="0.7391" stop-color="#bababa"/><stop offset="0.7427" stop-color="#c7c7c7"/><stop offset="0.7454" stop-color="#d5d5d5"/><stop offset="0.7477" stop-color="#ebebeb"/><stop offset="0.75" stop-color="#ececec"/><stop offset="0.9068" stop-color="#f7f7f7"/><stop offset="0.9075" stop-color="#b6b6b6"/><stop offset="0.9097" stop-color="#adadad"/><stop offset="0.9133" stop-color="#9e9e9e"/><stop offset="0.9179" stop-color="#919191"/><stop offset="0.9279" stop-color="#858585"/><stop offset="0.9507" stop-color="#7a7a7a"/><stop offset="1" stop-color="#707070"/></linearGradient>
<filter id="f39" x="0" y="0" width="1" height="1" color-interpolation-filters="sRGB"><feTurbulence type="fractalNoise" baseFrequency="0.72 0.0003" numOctaves="2" seed="276" result="n"/><feColorMatrix in="n" type="matrix" values="1 0 0 0 0 1 0 0 0 0 1 0 0 0 0 0 0 0 0 1" result="m"/><feComposite in="SourceGraphic" in2="m" operator="arithmetic" k1="0" k2="1" k3="0.250" k4="-0.1250" result="s"/><feComponentTransfer in="s"><feFuncR type="table" tableValues="0 0 0 0 0 0 .5 1 1 1 .5"/><feFuncG type="table" tableValues="0 0 0 0 .5 1 1 1 .5 0 0"/><feFuncB type="table" tableValues=".5625 .5625 .5625 1 1 1 .5 0 0 0 0"/></feComponentTransfer></filter>
<linearGradient id="g40" gradientUnits="userSpaceOnUse" x1="208" x2="1304" y1="0" y2="0"><stop offset="0" stop-color="#cdcdcd"/><stop offset="0.2126" stop-color="#c7c7c7"/><stop offset="0.2172" stop-color="#b7b7b7"/><stop offset="0.2222" stop-color="#a5a5a5"/><stop offset="0.2245" stop-color="#898989"/><stop offset="0.2258" stop-color="#696969"/><stop offset="0.2272" stop-color="#4e4e4e"/><stop offset="0.2274" stop-color="#4e4e4e"/><stop offset="0.2427" stop-color="#404040"/><stop offset="0.2449" stop-color="#2f2f2f"/><stop offset="0.2504" stop-color="#161616"/><stop offset="0.2993" stop-color="#161616"/><stop offset="0.3047" stop-color="#2f2f2f"/><stop offset="0.3186" stop-color="#666666"/><stop offset="0.3423" stop-color="#818181"/><stop offset="0.3622" stop-color="#a3a3a3"/><stop offset="0.396" stop-color="#a3a3a3"/><stop offset="0.412" stop-color="#818181"/><stop offset="0.4235" stop-color="#494949"/><stop offset="0.4292" stop-color="#2f2f2f"/><stop offset="0.4347" stop-color="#161616"/><stop offset="0.4544" stop-color="#161616"/><stop offset="0.4619" stop-color="#161616"/><stop offset="0.4633" stop-color="#666666"/><stop offset="0.4644" stop-color="#666666"/><stop offset="0.4728" stop-color="#818181"/><stop offset="0.4808" stop-color="#999999"/><stop offset="0.4945" stop-color="#999999"/><stop offset="0.5036" stop-color="#999999"/><stop offset="0.5109" stop-color="#999999"/><stop offset="0.531" stop-color="#8c8c8c"/><stop offset="0.5538" stop-color="#848484"/><stop offset="0.5858" stop-color="#7e7e7e"/><stop offset="0.6314" stop-color="#7a7a7a"/><stop offset="0.677" stop-color="#777777"/><stop offset="0.729" stop-color="#7a7a7a"/><stop offset="0.7345" stop-color="#8f8f8f"/><stop offset="0.7391" stop-color="#a4a4a4"/><stop offset="0.7427" stop-color="#aeaeae"/><stop offset="0.7454" stop-color="#b9b9b9"/><stop offset="0.7477" stop-color="#cacaca"/><stop offset="0.75" stop-color="#c9c9c9"/><stop offset="0.9068" stop-color="#d4d4d4"/><stop offset="0.9075" stop-color="#adadad"/><stop offset="0.9097" stop-color="#a5a5a5"/><stop offset="0.9133" stop-color="#969696"/><stop offset="0.9179" stop-color="#898989"/><stop offset="0.9279" stop-color="#7c7c7c"/><stop offset="0.9507" stop-color="#727272"/><stop offset="1" stop-color="#686868"/></linearGradient>
<filter id="f40" x="0" y="0" width="1" height="1" color-interpolation-filters="sRGB"><feTurbulence type="fractalNoise" baseFrequency="0.72 0.0003" numOctaves="2" seed="283" result="n"/><feColorMatrix in="n" type="matrix" values="1 0 0 0 0 1 0 0 0 0 1 0 0 0 0 0 0 0 0 1" result="m"/><feComposite in="SourceGraphic" in2="m" operator="arithmetic" k1="0" k2="1" k3="0.250" k4="-0.1250" result="s"/><feComponentTransfer in="s"><feFuncR type="table" tableValues="0 0 0 0 0 0 .5 1 1 1 .5"/><feFuncG type="table" tableValues="0 0 0 0 .5 1 1 1 .5 0 0"/><feFuncB type="table" tableValues=".5625 .5625 .5625 1 1 1 .5 0 0 0 0"/></feComponentTransfer></filter>
<linearGradient id="g41" gradientUnits="userSpaceOnUse" x1="208" x2="1304" y1="0" y2="0"><stop offset="0" stop-color="#d9d9d9"/><stop offset="0.2126" stop-color="#d3d3d3"/><stop offset="0.2172" stop-color="#c9c9c9"/><stop offset="0.2222" stop-color="#bcbcbc"/><stop offset="0.2245" stop-color="#aaaaaa"/><stop offset="0.2258" stop-color="#939393"/><stop offset="0.2272" stop-color="#818181"/><stop offset="0.2274" stop-color="#818181"/><stop offset="0.2318" stop-color="#818181"/><stop offset="0.2392" stop-color="#666666"/><stop offset="0.2493" stop-color="#494949"/><stop offset="0.254" stop-color="#2f2f2f"/><stop offset="0.2595" stop-color="#161616"/><stop offset="0.2792" stop-color="#161616"/><stop offset="0.2847" stop-color="#2f2f2f"/><stop offset="0.2967" stop-color="#454545"/><stop offset="0.315" stop-color="#666666"/><stop offset="0.3353" stop-color="#7e7e7e"/><stop offset="0.3568" stop-color="#898989"/><stop offset="0.396" stop-color="#898989"/><stop offset="0.4092" stop-color="#818181"/><stop offset="0.4199" stop-color="#666666"/><stop offset="0.4299" stop-color="#494949"/><stop offset="0.4347" stop-color="#2f2f2f"/><stop offset="0.4396" stop-color="#161616"/><stop offset="0.4495" stop-color="#161616"/><stop offset="0.4544" stop-color="#2f2f2f"/><stop offset="0.4582" stop-color="#454545"/><stop offset="0.4619" stop-color="#454545"/><stop offset="0.4633" stop-color="#818181"/><stop offset="0.4685" stop-color="#818181"/><stop offset="0.4799" stop-color="#999999"/><stop offset="0.4945" stop-color="#999999"/><stop offset="0.5036" stop-color="#a7a7a7"/><stop offset="0.5109" stop-color="#a7a7a7"/><stop offset="0.531" stop-color="#9a9a9a"/><stop offset="0.5538" stop-color="#929292"/><stop offset="0.5858" stop-color="#8c8c8c"/><stop offset="0.6314" stop-color="#888888"/><stop offset="0.677" stop-color="#858585"/><stop offset="0.729" stop-color="#7e7e7e"/><stop offset="0.7345" stop-color="#949494"/><stop offset="0.7391" stop-color="#aaaaaa"/><stop offset="0.7427" stop-color="#b5b5b5"/><stop offset="0.7454" stop-color="#c0c0c0"/><stop offset="0.7477" stop-color="#d2d2d2"/><stop offset="0.75" stop-color="#d1d1d1"/><stop offset="0.9068" stop-color="#dcdcdc"/><stop offset="0.9075" stop-color="#bababa"/><stop offset="0.9097" stop-color="#b1b1b1"/><stop offset="0.9133" stop-color="#a2a2a2"/><stop offset="0.9179" stop-color="#959595"/><stop offset="0.9279" stop-color="#898989"/><stop offset="0.9507" stop-color="#818181"/><stop offset="1" stop-color="#787878"/></linearGradient>
<filter id="f41" x="0" y="0" width="1" height="1" color-interpolation-filters="sRGB"><feTurbulence type="fractalNoise" baseFrequency="0.72 0.0003" numOctaves="2" seed="290" result="n"/><feColorMatrix in="n" type="matrix" values="1 0 0 0 0 1 0 0 0 0 1 0 0 0 0 0 0 0 0 1" result="m"/><feComposite in="SourceGraphic" in2="m" operator="arithmetic" k1="0" k2="1" k3="0.250" k4="-0.1250" result="s"/><feComponentTransfer in="s"><feFuncR type="table" tableValues="0 0 0 0 0 0 .5 1 1 1 .5"/><feFuncG type="table" tableValues="0 0 0 0 .5 1 1 1 .5 0 0"/><feFuncB type="table" tableValues=".5625 .5625 .5625 1 1 1 .5 0 0 0 0"/></feComponentTransfer></filter>
<linearGradient id="g42" gradientUnits="userSpaceOnUse" x1="208" x2="1304" y1="0" y2="0"><stop offset="0" stop-color="#dddddd"/><stop offset="0.2126" stop-color="#d7d7d7"/><stop offset="0.2172" stop-color="#cdcdcd"/><stop offset="0.2222" stop-color="#bfbfbf"/><stop offset="0.2245" stop-color="#acacac"/><stop offset="0.2258" stop-color="#949494"/><stop offset="0.2272" stop-color="#818181"/><stop offset="0.2274" stop-color="#818181"/><stop offset="0.2336" stop-color="#818181"/><stop offset="0.2418" stop-color="#686868"/><stop offset="0.2504" stop-color="#2f2f2f"/><stop offset="0.2558" stop-color="#161616"/><stop offset="0.2956" stop-color="#161616"/><stop offset="0.3011" stop-color="#2f2f2f"/><stop offset="0.3113" stop-color="#494949"/><stop offset="0.3257" stop-color="#666666"/><stop offset="0.3453" stop-color="#7e7e7e"/><stop offset="0.3677" stop-color="#898989"/><stop offset="0.396" stop-color="#898989"/><stop offset="0.4092" stop-color="#818181"/><stop offset="0.4199" stop-color="#666666"/><stop offset="0.4299" stop-color="#494949"/><stop offset="0.4347" stop-color="#2f2f2f"/><stop offset="0.4401" stop-color="#161616"/><stop offset="0.4544" stop-color="#161616"/><stop offset="0.4619" stop-color="#161616"/><stop offset="0.4633" stop-color="#818181"/><stop offset="0.4685" stop-color="#818181"/><stop offset="0.479" stop-color="#9f9f9f"/><stop offset="0.4945" stop-color="#9f9f9f"/><stop offset="0.5036" stop-color="#adadad"/><stop offset="0.5109" stop-color="#adadad"/><stop offset="0.531" stop-color="#9f9f9f"/><stop offset="0.5538" stop-color="#979797"/><stop offset="0.5858" stop-color="#919191"/><stop offset="0.6314" stop-color="#8c8c8c"/><stop offset="0.677" stop-color="#898989"/><stop offset="0.729" stop-color="#838383"/><stop offset="0.7345" stop-color="#9a9a9a"/><stop offset="0.7391" stop-color="#b0b0b0"/><stop offset="0.7427" stop-color="#bbbbbb"/><stop offset="0.7454" stop-color="#c7c7c7"/><stop offset="0.7477" stop-color="#dadada"/><stop offset="0.75" stop-color="#d9d9d9"/><stop offset="0.9068" stop-color="#e4e4e4"/><stop offset="0.9075" stop-color="#bebebe"/><stop offset="0.9097" stop-color="#b6b6b6"/><stop offset="0.9133" stop-color="#a6a6a6"/><stop offset="0.9179" stop-color="#999999"/><stop offset="0.9279" stop-color="#8d8d8d"/><stop offset="0.9507" stop-color="#838383"/><stop offset="1" stop-color="#787878"/></linearGradient>
<filter id="f42" x="0" y="0" width="1" height="1" color-interpolation-filters="sRGB"><feTurbulence type="fractalNoise" baseFrequency="0.72 0.0003" numOctaves="2" seed="297" result="n"/><feColorMatrix in="n" type="matrix" values="1 0 0 0 0 1 0 0 0 0 1 0 0 0 0 0 0 0 0 1" result="m"/><feComposite in="SourceGraphic" in2="m" operator="arithmetic" k1="0" k2="1" k3="0.250" k4="-0.1250" result="s"/><feComponentTransfer in="s"><feFuncR type="table" tableValues="0 0 0 0 0 0 .5 1 1 1 .5"/><feFuncG type="table" tableValues="0 0 0 0 .5 1 1 1 .5 0 0"/><feFuncB type="table" tableValues=".5625 .5625 .5625 1 1 1 .5 0 0 0 0"/></feComponentTransfer></filter>
<linearGradient id="g43" gradientUnits="userSpaceOnUse" x1="208" x2="1304" y1="0" y2="0"><stop offset="0" stop-color="#e8e8e8"/><stop offset="0.2126" stop-color="#e1e1e1"/><stop offset="0.2172" stop-color="#d5d5d5"/><stop offset="0.2222" stop-color="#c6c6c6"/><stop offset="0.2245" stop-color="#b1b1b1"/><stop offset="0.2258" stop-color="#979797"/><stop offset="0.2272" stop-color="#818181"/><stop offset="0.2274" stop-color="#818181"/><stop offset="0.2318" stop-color="#818181"/><stop offset="0.24" stop-color="#686868"/><stop offset="0.2485" stop-color="#2f2f2f"/><stop offset="0.254" stop-color="#161616"/><stop offset="0.3066" stop-color="#161616"/><stop offset="0.312" stop-color="#2f2f2f"/><stop offset="0.3268" stop-color="#494949"/><stop offset="0.3495" stop-color="#5c5c5c"/><stop offset="0.396" stop-color="#5c5c5c"/><stop offset="0.4138" stop-color="#494949"/><stop offset="0.4237" stop-color="#2f2f2f"/><stop offset="0.4292" stop-color="#161616"/><stop offset="0.4544" stop-color="#161616"/><stop offset="0.4619" stop-color="#161616"/><stop offset="0.4633" stop-color="#818181"/><stop offset="0.4672" stop-color="#818181"/><stop offset="0.4783" stop-color="#999999"/><stop offset="0.4845" stop-color="#b4b4b4"/><stop offset="0.4945" stop-color="#b4b4b4"/><stop offset="0.5036" stop-color="#b4b4b4"/><stop offset="0.5109" stop-color="#b4b4b4"/><stop offset="0.531" stop-color="#a2a2a2"/><stop offset="0.5538" stop-color="#989898"/><stop offset="0.5858" stop-color="#919191"/><stop offset="0.6314" stop-color="#8b8b8b"/><stop offset="0.677" stop-color="#878787"/><stop offset="0.729" stop-color="#818181"/><stop offset="0.7345" stop-color="#9a9a9a"/><stop offset="0.7391" stop-color="#b4b4b4"/><stop offset="0.7427" stop-color="#c0c0c0"/><stop offset="0.7454" stop-color="#cdcdcd"/><stop offset="0.7477" stop-color="#e1e1e1"/><stop offset="0.75" stop-color="#e1e1e1"/><stop offset="0.9068" stop-color="#ededed"/><stop offset="0.9075" stop-color="#bababa"/><stop offset="0.9097" stop-color="#b1b1b1"/><stop offset="0.9133" stop-color="#a2a2a2"/><stop offset="0.9179" stop-color="#959595"/><stop offset="0.9279" stop-color="#898989"/><stop offset="0.9507" stop-color="#838383"/><stop offset="1" stop-color="#7c7c7c"/></linearGradient>
<filter id="f43" x="0" y="0" width="1" height="1" color-interpolation-filters="sRGB"><feTurbulence type="fractalNoise" baseFrequency="0.72 0.0003" numOctaves="2" seed="304" result="n"/><feColorMatrix in="n" type="matrix" values="1 0 0 0 0 1 0 0 0 0 1 0 0 0 0 0 0 0 0 1" result="m"/><feComposite in="SourceGraphic" in2="m" operator="arithmetic" k1="0" k2="1" k3="0.250" k4="-0.1250" result="s"/><feComponentTransfer in="s"><feFuncR type="table" tableValues="0 0 0 0 0 0 .5 1 1 1 .5"/><feFuncG type="table" tableValues="0 0 0 0 .5 1 1 1 .5 0 0"/><feFuncB type="table" tableValues=".5625 .5625 .5625 1 1 1 .5 0 0 0 0"/></feComponentTransfer></filter>
<linearGradient id="g44" gradientUnits="userSpaceOnUse" x1="208" x2="1304" y1="0" y2="0"><stop offset="0" stop-color="#f7f7f7"/><stop offset="0.2126" stop-color="#e7e7e7"/><stop offset="0.2172" stop-color="#dedede"/><stop offset="0.2222" stop-color="#cecece"/><stop offset="0.2245" stop-color="#b5b5b5"/><stop offset="0.2258" stop-color="#999999"/><stop offset="0.2272" stop-color="#818181"/><stop offset="0.2274" stop-color="#818181"/><stop offset="0.2372" stop-color="#6a6a6a"/><stop offset="0.2485" stop-color="#2f2f2f"/><stop offset="0.254" stop-color="#161616"/><stop offset="0.3066" stop-color="#161616"/><stop offset="0.312" stop-color="#2f2f2f"/><stop offset="0.3221" stop-color="#494949"/><stop offset="0.3451" stop-color="#666666"/><stop offset="0.3672" stop-color="#7e7e7e"/><stop offset="0.3874" stop-color="#7e7e7e"/><stop offset="0.4047" stop-color="#666666"/><stop offset="0.4174" stop-color="#494949"/><stop offset="0.4224" stop-color="#2f2f2f"/><stop offset="0.4279" stop-color="#161616"/><stop offset="0.4544" stop-color="#161616"/><stop offset="0.4619" stop-color="#161616"/><stop offset="0.4633" stop-color="#818181"/><stop offset="0.4662" stop-color="#818181"/><stop offset="0.4767" stop-color="#999999"/><stop offset="0.4827" stop-color="#b8b8b8"/><stop offset="0.4945" stop-color="#b8b8b8"/><stop offset="0.5036" stop-color="#b8b8b8"/><stop offset="0.5109" stop-color="#b8b8b8"/><stop offset="0.531" stop-color="#a6a6a6"/><stop offset="0.5538" stop-color="#9b9b9b"/><stop offset="0.5858" stop-color="#939393"/><stop offset="0.6314" stop-color="#8d8d8d"/><stop offset="0.677" stop-color="#898989"/><stop offset="0.729" stop-color="#838383"/><stop offset="0.7345" stop-color="#a0a0a0"/><stop offset="0.7391" stop-color="#bebebe"/><stop offset="0.7427" stop-color="#cccccc"/><stop offset="0.7454" stop-color="#dbdbdb"/><stop offset="0.7477" stop-color="#f3f3f3"/><stop offset="0.75" stop-color="#f4f4f4"/><stop offset="0.9068" stop-color="#ffffff"/><stop offset="0.9075" stop-color="#bababa"/><stop offset="0.9097" stop-color="#b1b1b1"/><stop offset="0.9133" stop-color="#a2a2a2"/><stop offset="0.9179" stop-color="#959595"/><stop offset="0.9279" stop-color="#898989"/><stop offset="0.9507" stop-color="#848484"/><stop offset="1" stop-color="#7e7e7e"/></linearGradient>
<filter id="f44" x="0" y="0" width="1" height="1" color-interpolation-filters="sRGB"><feTurbulence type="fractalNoise" baseFrequency="0.72 0.0003" numOctaves="2" seed="311" result="n"/><feColorMatrix in="n" type="matrix" values="1 0 0 0 0 1 0 0 0 0 1 0 0 0 0 0 0 0 0 1" result="m"/><feComposite in="SourceGraphic" in2="m" operator="arithmetic" k1="0" k2="1" k3="0.250" k4="-0.1250" result="s"/><feComponentTransfer in="s"><feFuncR type="table" tableValues="0 0 0 0 0 0 .5 1 1 1 .5"/><feFuncG type="table" tableValues="0 0 0 0 .5 1 1 1 .5 0 0"/><feFuncB type="table" tableValues=".5625 .5625 .5625 1 1 1 .5 0 0 0 0"/></feComponentTransfer></filter>
<linearGradient id="g45" gradientUnits="userSpaceOnUse" x1="208" x2="1304" y1="0" y2="0"><stop offset="0" stop-color="#cbcbcb"/><stop offset="0.2126" stop-color="#c5c5c5"/><stop offset="0.2172" stop-color="#b5b5b5"/><stop offset="0.2222" stop-color="#a3a3a3"/><stop offset="0.2245" stop-color="#878787"/><stop offset="0.2258" stop-color="#676767"/><stop offset="0.2272" stop-color="#4b4b4b"/><stop offset="0.2274" stop-color="#4b4b4b"/><stop offset="0.235" stop-color="#4b4b4b"/><stop offset="0.2369" stop-color="#2f2f2f"/><stop offset="0.2423" stop-color="#161616"/><stop offset="0.2993" stop-color="#161616"/><stop offset="0.3047" stop-color="#2f2f2f"/><stop offset="0.3131" stop-color="#555555"/><stop offset="0.3259" stop-color="#818181"/><stop offset="0.3429" stop-color="#999999"/><stop offset="0.356" stop-color="#999999"/><stop offset="0.3759" stop-color="#b1b1b1"/><stop offset="0.4015" stop-color="#b1b1b1"/><stop offset="0.4147" stop-color="#999999"/><stop offset="0.4201" stop-color="#818181"/><stop offset="0.4263" stop-color="#494949"/><stop offset="0.431" stop-color="#2f2f2f"/><stop offset="0.4365" stop-color="#161616"/><stop offset="0.4544" stop-color="#161616"/><stop offset="0.4619" stop-color="#161616"/><stop offset="0.4633" stop-color="#4b4b4b"/><stop offset="0.4681" stop-color="#818181"/><stop offset="0.4781" stop-color="#999999"/><stop offset="0.4945" stop-color="#999999"/><stop offset="0.5036" stop-color="#999999"/><stop offset="0.5109" stop-color="#999999"/><stop offset="0.531" stop-color="#888888"/><stop offset="0.5538" stop-color="#7d7d7d"/><stop offset="0.5858" stop-color="#767676"/><stop offset="0.6314" stop-color="#717171"/><stop offset="0.677" stop-color="#6d6d6d"/><stop offset="0.729" stop-color="#707070"/><stop offset="0.7345" stop-color="#8e8e8e"/><stop offset="0.7391" stop-color="#acacac"/><stop offset="0.7427" stop-color="#bbbbbb"/><stop offset="0.7454" stop-color="#cacaca"/><stop offset="0.7477" stop-color="#e3e3e3"/><stop offset="0.75" stop-color="#e3e3e3"/><stop offset="0.9068" stop-color="#efefef"/><stop offset="0.9075" stop-color="#ababab"/><stop offset="0.9097" stop-color="#a3a3a3"/><stop offset="0.9133" stop-color="#949494"/><stop offset="0.9179" stop-color="#878787"/><stop offset="0.9279" stop-color="#7a7a7a"/><stop offset="0.9507" stop-color="#707070"/><stop offset="1" stop-color="#666666"/></linearGradient>
<filter id="f45" x="0" y="0" width="1" height="1" color-interpolation-filters="sRGB"><feTurbulence type="fractalNoise" baseFrequency="0.72 0.0003" numOctaves="2" seed="318" result="n"/><feColorMatrix in="n" type="matrix" values="1 0 0 0 0 1 0 0 0 0 1 0 0 0 0 0 0 0 0 1" result="m"/><feComposite in="SourceGraphic" in2="m" operator="arithmetic" k1="0" k2="1" k3="0.250" k4="-0.1250" result="s"/><feComponentTransfer in="s"><feFuncR type="table" tableValues="0 0 0 0 0 0 .5 1 1 1 .5"/><feFuncG type="table" tableValues="0 0 0 0 .5 1 1 1 .5 0 0"/><feFuncB type="table" tableValues=".5625 .5625 .5625 1 1 1 .5 0 0 0 0"/></feComponentTransfer></filter>
<linearGradient id="g46" gradientUnits="userSpaceOnUse" x1="208" x2="1304" y1="0" y2="0"><stop offset="0" stop-color="#bebebe"/><stop offset="0.2126" stop-color="#b8b8b8"/><stop offset="0.2172" stop-color="#aaaaaa"/><stop offset="0.2222" stop-color="#999999"/><stop offset="0.2245" stop-color="#818181"/><stop offset="0.2258" stop-color="#646464"/><stop offset="0.2272" stop-color="#4b4b4b"/><stop offset="0.2274" stop-color="#4b4b4b"/><stop offset="0.2354" stop-color="#4b4b4b"/><stop offset="0.2376" stop-color="#2f2f2f"/><stop offset="0.2431" stop-color="#161616"/><stop offset="0.2825" stop-color="#161616"/><stop offset="0.288" stop-color="#2f2f2f"/><stop offset="0.2982" stop-color="#454545"/><stop offset="0.3195" stop-color="#818181"/><stop offset="0.3412" stop-color="#999999"/><stop offset="0.3588" stop-color="#b1b1b1"/><stop offset="0.3768" stop-color="#c6c6c6"/><stop offset="0.3996" stop-color="#c6c6c6"/><stop offset="0.4097" stop-color="#a9a9a9"/><stop offset="0.4197" stop-color="#818181"/><stop offset="0.4334" stop-color="#494949"/><stop offset="0.4401" stop-color="#2f2f2f"/><stop offset="0.4451" stop-color="#161616"/><stop offset="0.4549" stop-color="#161616"/><stop offset="0.4619" stop-color="#161616"/><stop offset="0.4633" stop-color="#4b4b4b"/><stop offset="0.4644" stop-color="#4b4b4b"/><stop offset="0.4728" stop-color="#818181"/><stop offset="0.4818" stop-color="#959595"/><stop offset="0.4945" stop-color="#959595"/><stop offset="0.5036" stop-color="#959595"/><stop offset="0.5109" stop-color="#959595"/><stop offset="0.531" stop-color="#868686"/><stop offset="0.5538" stop-color="#7d7d7d"/><stop offset="0.5858" stop-color="#777777"/><stop offset="0.6314" stop-color="#727272"/><stop offset="0.677" stop-color="#6f6f6f"/><stop offset="0.729" stop-color="#727272"/><stop offset="0.7345" stop-color="#898989"/><stop offset="0.7391" stop-color="#a1a1a1"/><stop offset="0.7427" stop-color="#acacac"/><stop offset="0.7454" stop-color="#b8b8b8"/><stop offset="0.7477" stop-color="#cbcbcb"/><stop offset="0.75" stop-color="#cbcbcb"/><stop offset="0.9068" stop-color="#d6d6d6"/><stop offset="0.9075" stop-color="#afafaf"/><stop offset="0.9097" stop-color="#a7a7a7"/><stop offset="0.9133" stop-color="#989898"/><stop offset="0.9179" stop-color="#8b8b8b"/><stop offset="0.9279" stop-color="#7e7e7e"/><stop offset="0.9507" stop-color="#757575"/><stop offset="1" stop-color="#6c6c6c"/></linearGradient>
<filter id="f46" x="0" y="0" width="1" height="1" color-interpolation-filters="sRGB"><feTurbulence type="fractalNoise" baseFrequency="0.72 0.0003" numOctaves="2" seed="325" result="n"/><feColorMatrix in="n" type="matrix" values="1 0 0 0 0 1 0 0 0 0 1 0 0 0 0 0 0 0 0 1" result="m"/><feComposite in="SourceGraphic" in2="m" operator="arithmetic" k1="0" k2="1" k3="0.250" k4="-0.1250" result="s"/><feComponentTransfer in="s"><feFuncR type="table" tableValues="0 0 0 0 0 0 .5 1 1 1 .5"/><feFuncG type="table" tableValues="0 0 0 0 .5 1 1 1 .5 0 0"/><feFuncB type="table" tableValues=".5625 .5625 .5625 1 1 1 .5 0 0 0 0"/></feComponentTransfer></filter>
<linearGradient id="g47" gradientUnits="userSpaceOnUse" x1="208" x2="1304" y1="0" y2="0"><stop offset="0" stop-color="#c3c3c3"/><stop offset="0.2126" stop-color="#bdbdbd"/><stop offset="0.2172" stop-color="#b1b1b1"/><stop offset="0.2222" stop-color="#a3a3a3"/><stop offset="0.2245" stop-color="#8e8e8e"/><stop offset="0.2258" stop-color="#757575"/><stop offset="0.2272" stop-color="#606060"/><stop offset="0.2274" stop-color="#606060"/><stop offset="0.2464" stop-color="#4b4b4b"/><stop offset="0.2485" stop-color="#2f2f2f"/><stop offset="0.254" stop-color="#161616"/><stop offset="0.2755" stop-color="#161616"/><stop offset="0.281" stop-color="#2f2f2f"/><stop offset="0.294" stop-color="#454545"/><stop offset="0.3113" stop-color="#666666"/><stop offset="0.3282" stop-color="#818181"/><stop offset="0.3485" stop-color="#959595"/><stop offset="0.4088" stop-color="#959595"/><stop offset="0.4229" stop-color="#818181"/><stop offset="0.4308" stop-color="#666666"/><stop offset="0.4372" stop-color="#494949"/><stop offset="0.442" stop-color="#2f2f2f"/><stop offset="0.4464" stop-color="#161616"/><stop offset="0.4554" stop-color="#161616"/><stop offset="0.4619" stop-color="#161616"/><stop offset="0.4633" stop-color="#818181"/><stop offset="0.4662" stop-color="#818181"/><stop offset="0.4763" stop-color="#9d9d9d"/><stop offset="0.4945" stop-color="#9d9d9d"/><stop offset="0.5036" stop-color="#a3a3a3"/><stop offset="0.5109" stop-color="#a3a3a3"/><stop offset="0.531" stop-color="#949494"/><stop offset="0.5538" stop-color="#8a8a8a"/><stop offset="0.5858" stop-color="#838383"/><stop offset="0.6314" stop-color="#7e7e7e"/><stop offset="0.677" stop-color="#7a7a7a"/><stop offset="0.729" stop-color="#787878"/><stop offset="0.7345" stop-color="#8c8c8c"/><stop offset="0.7391" stop-color="#9f9f9f"/><stop offset="0.7427" stop-color="#a8a8a8"/><stop offset="0.7454" stop-color="#b2b2b2"/><stop offset="0.7477" stop-color="#c2c2c2"/><stop offset="0.75" stop-color="#c1c1c1"/><stop offset="0.9068" stop-color="#cccccc"/><stop offset="0.9075" stop-color="#b6b6b6"/><stop offset="0.9097" stop-color="#adadad"/><stop offset="0.9133" stop-color="#9e9e9e"/><stop offset="0.9179" stop-color="#919191"/><stop offset="0.9279" stop-color="#858585"/><stop offset="0.9507" stop-color="#7a7a7a"/><stop offset="1" stop-color="#707070"/></linearGradient>
<filter id="f47" x="0" y="0" width="1" height="1" color-interpolation-filters="sRGB"><feTurbulence type="fractalNoise" baseFrequency="0.72 0.0003" numOctaves="2" seed="332" result="n"/><feColorMatrix in="n" type="matrix" values="1 0 0 0 0 1 0 0 0 0 1 0 0 0 0 0 0 0 0 1" result="m"/><feComposite in="SourceGraphic" in2="m" operator="arithmetic" k1="0" k2="1" k3="0.250" k4="-0.1250" result="s"/><feComponentTransfer in="s"><feFuncR type="table" tableValues="0 0 0 0 0 0 .5 1 1 1 .5"/><feFuncG type="table" tableValues="0 0 0 0 .5 1 1 1 .5 0 0"/><feFuncB type="table" tableValues=".5625 .5625 .5625 1 1 1 .5 0 0 0 0"/></feComponentTransfer></filter>
<linearGradient id="g48" gradientUnits="userSpaceOnUse" x1="208" x2="1304" y1="0" y2="0"><stop offset="0" stop-color="#dfdfdf"/><stop offset="0.2126" stop-color="#d9d9d9"/><stop offset="0.2172" stop-color="#cbcbcb"/><stop offset="0.2222" stop-color="#bababa"/><stop offset="0.2245" stop-color="#a1a1a1"/><stop offset="0.2258" stop-color="#838383"/><stop offset="0.2272" stop-color="#6a6a6a"/><stop offset="0.2274" stop-color="#6a6a6a"/><stop offset="0.2464" stop-color="#565656"/><stop offset="0.2485" stop-color="#2f2f2f"/><stop offset="0.254" stop-color="#161616"/><stop offset="0.2883" stop-color="#161616"/><stop offset="0.2938" stop-color="#2f2f2f"/><stop offset="0.3038" stop-color="#454545"/><stop offset="0.3216" stop-color="#666666"/><stop offset="0.3412" stop-color="#818181"/><stop offset="0.3586" stop-color="#8f8f8f"/><stop offset="0.4015" stop-color="#8f8f8f"/><stop offset="0.4188" stop-color="#666666"/><stop offset="0.4299" stop-color="#494949"/><stop offset="0.4347" stop-color="#2f2f2f"/><stop offset="0.4401" stop-color="#161616"/><stop offset="0.4544" stop-color="#161616"/><stop offset="0.4619" stop-color="#161616"/><stop offset="0.4633" stop-color="#818181"/><stop offset="0.4672" stop-color="#818181"/><stop offset="0.4763" stop-color="#999999"/><stop offset="0.4836" stop-color="#b1b1b1"/><stop offset="0.4945" stop-color="#b1b1b1"/><stop offset="0.5036" stop-color="#b1b1b1"/><stop offset="0.5109" stop-color="#b1b1b1"/><stop offset="0.531" stop-color="#a3a3a3"/><stop offset="0.5538" stop-color="#999999"/><stop offset="0.5858" stop-color="#939393"/><stop offset="0.6314" stop-color="#8f8f8f"/><stop offset="0.677" stop-color="#8b8b8b"/><stop offset="0.729" stop-color="#858585"/><stop offset="0.7345" stop-color="#9c9c9c"/><stop offset="0.7391" stop-color="#b4b4b4"/><stop offset="0.7427" stop-color="#bfbfbf"/><stop offset="0.7454" stop-color="#cbcbcb"/><stop offset="0.7477" stop-color="#dedede"/><stop offset="0.75" stop-color="#dddddd"/><stop offset="0.9068" stop-color="#e9e9e9"/><stop offset="0.9075" stop-color="#bababa"/><stop offset="0.9097" stop-color="#b1b1b1"/><stop offset="0.9133" stop-color="#a2a2a2"/><stop offset="0.9179" stop-color="#959595"/><stop offset="0.9279" stop-color="#898989"/><stop offset="0.9507" stop-color="#828282"/><stop offset="1" stop-color="#7a7a7a"/></linearGradient>
<filter id="f48" x="0" y="0" width="1" height="1" color-interpolation-filters="sRGB"><feTurbulence type="fractalNoise" baseFrequency="0.72 0.0003" numOctaves="2" seed="339" result="n"/><feColorMatrix in="n" type="matrix" values="1 0 0 0 0 1 0 0 0 0 1 0 0 0 0 0 0 0 0 1" result="m"/><feComposite in="SourceGraphic" in2="m" operator="arithmetic" k1="0" k2="1" k3="0.250" k4="-0.1250" result="s"/><feComponentTransfer in="s"><feFuncR type="table" tableValues="0 0 0 0 0 0 .5 1 1 1 .5"/><feFuncG type="table" tableValues="0 0 0 0 .5 1 1 1 .5 0 0"/><feFuncB type="table" tableValues=".5625 .5625 .5625 1 1 1 .5 0 0 0 0"/></feComponentTransfer></filter>
<linearGradient id="g49" gradientUnits="userSpaceOnUse" x1="208" x2="1304" y1="0" y2="0"><stop offset="0" stop-color="#d5d5d5"/><stop offset="0.2126" stop-color="#cfcfcf"/><stop offset="0.2172" stop-color="#bebebe"/><stop offset="0.2222" stop-color="#aaaaaa"/><stop offset="0.2245" stop-color="#8c8c8c"/><stop offset="0.2258" stop-color="#696969"/><stop offset="0.2272" stop-color="#4b4b4b"/><stop offset="0.2274" stop-color="#4b4b4b"/><stop offset="0.2372" stop-color="#4b4b4b"/><stop offset="0.2394" stop-color="#2f2f2f"/><stop offset="0.2449" stop-color="#161616"/><stop offset="0.2974" stop-color="#161616"/><stop offset="0.3029" stop-color="#2f2f2f"/><stop offset="0.3086" stop-color="#494949"/><stop offset="0.3204" stop-color="#666666"/><stop offset="0.3358" stop-color="#818181"/><stop offset="0.3531" stop-color="#999999"/><stop offset="0.4051" stop-color="#a3a3a3"/><stop offset="0.4151" stop-color="#818181"/><stop offset="0.4197" stop-color="#707070"/><stop offset="0.4245" stop-color="#494949"/><stop offset="0.4292" stop-color="#2f2f2f"/><stop offset="0.4347" stop-color="#161616"/><stop offset="0.4544" stop-color="#161616"/><stop offset="0.4619" stop-color="#161616"/><stop offset="0.4633" stop-color="#4b4b4b"/><stop offset="0.469" stop-color="#818181"/><stop offset="0.4799" stop-color="#9d9d9d"/><stop offset="0.4945" stop-color="#9d9d9d"/><stop offset="0.5036" stop-color="#a3a3a3"/><stop offset="0.5109" stop-color="#a3a3a3"/><stop offset="0.531" stop-color="#919191"/><stop offset="0.5538" stop-color="#858585"/><stop offset="0.5858" stop-color="#7d7d7d"/><stop offset="0.6314" stop-color="#787878"/><stop offset="0.677" stop-color="#737373"/><stop offset="0.729" stop-color="#767676"/><stop offset="0.7345" stop-color="#929292"/><stop offset="0.7391" stop-color="#afafaf"/><stop offset="0.7427" stop-color="#bdbdbd"/><stop offset="0.7454" stop-color="#cccccc"/><stop offset="0.7477" stop-color="#e3e3e3"/><stop offset="0.75" stop-color="#e3e3e3"/><stop offset="0.9068" stop-color="#efefef"/><stop offset="0.9075" stop-color="#a7a7a7"/><stop offset="0.9097" stop-color="#9f9f9f"/><stop offset="0.9133" stop-color="#909090"/><stop offset="0.9179" stop-color="#838383"/><stop offset="0.9279" stop-color="#767676"/><stop offset="0.9507" stop-color="#6e6e6e"/><stop offset="1" stop-color="#666666"/></linearGradient>
<filter id="f49" x="0" y="0" width="1" height="1" color-interpolation-filters="sRGB"><feTurbulence type="fractalNoise" baseFrequency="0.72 0.0003" numOctaves="2" seed="346" result="n"/><feColorMatrix in="n" type="matrix" values="1 0 0 0 0 1 0 0 0 0 1 0 0 0 0 0 0 0 0 1" result="m"/><feComposite in="SourceGraphic" in2="m" operator="arithmetic" k1="0" k2="1" k3="0.250" k4="-0.1250" result="s"/><feComponentTransfer in="s"><feFuncR type="table" tableValues="0 0 0 0 0 0 .5 1 1 1 .5"/><feFuncG type="table" tableValues="0 0 0 0 .5 1 1 1 .5 0 0"/><feFuncB type="table" tableValues=".5625 .5625 .5625 1 1 1 .5 0 0 0 0"/></feComponentTransfer></filter>
<linearGradient id="g50" gradientUnits="userSpaceOnUse" x1="208" x2="1304" y1="0" y2="0"><stop offset="0" stop-color="#cdcdcd"/><stop offset="0.2126" stop-color="#c7c7c7"/><stop offset="0.2172" stop-color="#b7b7b7"/><stop offset="0.2222" stop-color="#a4a4a4"/><stop offset="0.2245" stop-color="#888888"/><stop offset="0.2258" stop-color="#676767"/><stop offset="0.2272" stop-color="#4b4b4b"/><stop offset="0.2274" stop-color="#4b4b4b"/><stop offset="0.2381" stop-color="#4b4b4b"/><stop offset="0.24" stop-color="#2f2f2f"/><stop offset="0.2454" stop-color="#161616"/><stop offset="0.2956" stop-color="#161616"/><stop offset="0.3011" stop-color="#2f2f2f"/><stop offset="0.3068" stop-color="#494949"/><stop offset="0.3159" stop-color="#666666"/><stop offset="0.3307" stop-color="#818181"/><stop offset="0.354" stop-color="#999999"/><stop offset="0.375" stop-color="#a9a9a9"/><stop offset="0.4015" stop-color="#a9a9a9"/><stop offset="0.4124" stop-color="#898989"/><stop offset="0.4179" stop-color="#7c7c7c"/><stop offset="0.422" stop-color="#666666"/><stop offset="0.4281" stop-color="#494949"/><stop offset="0.4328" stop-color="#2f2f2f"/><stop offset="0.4383" stop-color="#161616"/><stop offset="0.4544" stop-color="#161616"/><stop offset="0.4619" stop-color="#161616"/><stop offset="0.4633" stop-color="#4b4b4b"/><stop offset="0.4708" stop-color="#818181"/><stop offset="0.4799" stop-color="#999999"/><stop offset="0.4945" stop-color="#999999"/><stop offset="0.5036" stop-color="#9f9f9f"/><stop offset="0.5109" stop-color="#9f9f9f"/><stop offset="0.531" stop-color="#8d8d8d"/><stop offset="0.5538" stop-color="#828282"/><stop offset="0.5858" stop-color="#7b7b7b"/><stop offset="0.6314" stop-color="#757575"/><stop offset="0.677" stop-color="#717171"/><stop offset="0.729" stop-color="#747474"/><stop offset="0.7345" stop-color="#8f8f8f"/><stop offset="0.7391" stop-color="#ababab"/><stop offset="0.7427" stop-color="#b8b8b8"/><stop offset="0.7454" stop-color="#c7c7c7"/><stop offset="0.7477" stop-color="#dddddd"/><stop offset="0.75" stop-color="#dddddd"/><stop offset="0.9068" stop-color="#e9e9e9"/><stop offset="0.9075" stop-color="#ababab"/><stop offset="0.9097" stop-color="#a3a3a3"/><stop offset="0.9133" stop-color="#949494"/><stop offset="0.9179" stop-color="#878787"/><stop offset="0.9279" stop-color="#7a7a7a"/><stop offset="0.9507" stop-color="#727272"/><stop offset="1" stop-color="#6a6a6a"/></linearGradient>
<filter id="f50" x="0" y="0" width="1" height="1" color-interpolation-filters="sRGB"><feTurbulence type="fractalNoise" baseFrequency="0.72 0.0003" numOctaves="2" seed="353" result="n"/><feColorMatrix in="n" type="matrix" values="1 0 0 0 0 1 0 0 0 0 1 0 0 0 0 0 0 0 0 1" result="m"/><feComposite in="SourceGraphic" in2="m" operator="arithmetic" k1="0" k2="1" k3="0.250" k4="-0.1250" result="s"/><feComponentTransfer in="s"><feFuncR type="table" tableValues="0 0 0 0 0 0 .5 1 1 1 .5"/><feFuncG type="table" tableValues="0 0 0 0 .5 1 1 1 .5 0 0"/><feFuncB type="table" tableValues=".5625 .5625 .5625 1 1 1 .5 0 0 0 0"/></feComponentTransfer></filter>
<linearGradient id="g51" gradientUnits="userSpaceOnUse" x1="208" x2="1304" y1="0" y2="0"><stop offset="0" stop-color="#b7b7b7"/><stop offset="0.2126" stop-color="#b0b0b0"/><stop offset="0.2172" stop-color="#a4a4a4"/><stop offset="0.2222" stop-color="#949494"/><stop offset="0.2245" stop-color="#7d7d7d"/><stop offset="0.2258" stop-color="#626262"/><stop offset="0.2272" stop-color="#4b4b4b"/><stop offset="0.2274" stop-color="#4b4b4b"/><stop offset="0.24" stop-color="#3f3f3f"/><stop offset="0.2427" stop-color="#2f2f2f"/><stop offset="0.2482" stop-color="#161616"/><stop offset="0.2701" stop-color="#161616"/><stop offset="0.2755" stop-color="#2f2f2f"/><stop offset="0.2874" stop-color="#454545"/><stop offset="0.3031" stop-color="#666666"/><stop offset="0.3141" stop-color="#818181"/><stop offset="0.3259" stop-color="#999999"/><stop offset="0.3403" stop-color="#b1b1b1"/><stop offset="0.3577" stop-color="#cacaca"/><stop offset="0.3759" stop-color="#d6d6d6"/><stop offset="0.4015" stop-color="#d6d6d6"/><stop offset="0.4115" stop-color="#b4b4b4"/><stop offset="0.417" stop-color="#999999"/><stop offset="0.4215" stop-color="#858585"/><stop offset="0.4307" stop-color="#666666"/><stop offset="0.4361" stop-color="#494949"/><stop offset="0.4398" stop-color="#2f2f2f"/><stop offset="0.4448" stop-color="#161616"/><stop offset="0.4548" stop-color="#161616"/><stop offset="0.4619" stop-color="#161616"/><stop offset="0.4633" stop-color="#4b4b4b"/><stop offset="0.4708" stop-color="#6a6a6a"/><stop offset="0.4763" stop-color="#818181"/><stop offset="0.4854" stop-color="#8f8f8f"/><stop offset="0.4945" stop-color="#8f8f8f"/><stop offset="0.5036" stop-color="#8f8f8f"/><stop offset="0.5109" stop-color="#8f8f8f"/><stop offset="0.531" stop-color="#828282"/><stop offset="0.5538" stop-color="#7a7a7a"/><stop offset="0.5858" stop-color="#747474"/><stop offset="0.6314" stop-color="#707070"/><stop offset="0.677" stop-color="#6d6d6d"/><stop offset="0.729" stop-color="#707070"/><stop offset="0.7345" stop-color="#878787"/><stop offset="0.7391" stop-color="#9e9e9e"/><stop offset="0.7427" stop-color="#a9a9a9"/><stop offset="0.7454" stop-color="#b5b5b5"/><stop offset="0.7477" stop-color="#c7c7c7"/><stop offset="0.75" stop-color="#c7c7c7"/><stop offset="0.9068" stop-color="#d2d2d2"/><stop offset="0.9075" stop-color="#ababab"/><stop offset="0.9097" stop-color="#a3a3a3"/><stop offset="0.9133" stop-color="#949494"/><stop offset="0.9179" stop-color="#878787"/><stop offset="0.9279" stop-color="#7a7a7a"/><stop offset="0.9507" stop-color="#727272"/><stop offset="1" stop-color="#6a6a6a"/></linearGradient>
<filter id="f51" x="0" y="0" width="1" height="1" color-interpolation-filters="sRGB"><feTurbulence type="fractalNoise" baseFrequency="0.72 0.0003" numOctaves="2" seed="360" result="n"/><feColorMatrix in="n" type="matrix" values="1 0 0 0 0 1 0 0 0 0 1 0 0 0 0 0 0 0 0 1" result="m"/><feComposite in="SourceGraphic" in2="m" operator="arithmetic" k1="0" k2="1" k3="0.250" k4="-0.1250" result="s"/><feComponentTransfer in="s"><feFuncR type="table" tableValues="0 0 0 0 0 0 .5 1 1 1 .5"/><feFuncG type="table" tableValues="0 0 0 0 .5 1 1 1 .5 0 0"/><feFuncB type="table" tableValues=".5625 .5625 .5625 1 1 1 .5 0 0 0 0"/></feComponentTransfer></filter>
<linearGradient id="g52" gradientUnits="userSpaceOnUse" x1="208" x2="1304" y1="0" y2="0"><stop offset="0" stop-color="#bbbbbb"/><stop offset="0.2126" stop-color="#b5b5b5"/><stop offset="0.2172" stop-color="#ababab"/><stop offset="0.2222" stop-color="#9f9f9f"/><stop offset="0.2245" stop-color="#8d8d8d"/><stop offset="0.2258" stop-color="#787878"/><stop offset="0.2272" stop-color="#666666"/><stop offset="0.2274" stop-color="#666666"/><stop offset="0.2464" stop-color="#525252"/><stop offset="0.2491" stop-color="#2f2f2f"/><stop offset="0.2546" stop-color="#161616"/><stop offset="0.2701" stop-color="#161616"/><stop offset="0.2755" stop-color="#2f2f2f"/><stop offset="0.2911" stop-color="#454545"/><stop offset="0.3095" stop-color="#666666"/><stop offset="0.3241" stop-color="#818181"/><stop offset="0.3426" stop-color="#999999"/><stop offset="0.3614" stop-color="#b1b1b1"/><stop offset="0.3749" stop-color="#b1b1b1"/><stop offset="0.3916" stop-color="#bebebe"/><stop offset="0.4058" stop-color="#bebebe"/><stop offset="0.4151" stop-color="#a3a3a3"/><stop offset="0.4215" stop-color="#818181"/><stop offset="0.4311" stop-color="#666666"/><stop offset="0.4398" stop-color="#454545"/><stop offset="0.4453" stop-color="#2f2f2f"/><stop offset="0.4488" stop-color="#161616"/><stop offset="0.4559" stop-color="#161616"/><stop offset="0.4619" stop-color="#161616"/><stop offset="0.4633" stop-color="#707070"/><stop offset="0.469" stop-color="#818181"/><stop offset="0.4781" stop-color="#939393"/><stop offset="0.4945" stop-color="#939393"/><stop offset="0.5036" stop-color="#939393"/><stop offset="0.5109" stop-color="#939393"/><stop offset="0.531" stop-color="#878787"/><stop offset="0.5538" stop-color="#7f7f7f"/><stop offset="0.5858" stop-color="#7a7a7a"/><stop offset="0.6314" stop-color="#767676"/><stop offset="0.677" stop-color="#737373"/><stop offset="0.729" stop-color="#767676"/><stop offset="0.7345" stop-color="#888888"/><stop offset="0.7391" stop-color="#9b9b9b"/><stop offset="0.7427" stop-color="#a4a4a4"/><stop offset="0.7454" stop-color="#adadad"/><stop offset="0.7477" stop-color="#bcbcbc"/><stop offset="0.75" stop-color="#bbbbbb"/><stop offset="0.9068" stop-color="#c6c6c6"/><stop offset="0.9075" stop-color="#ababab"/><stop offset="0.9097" stop-color="#a3a3a3"/><stop offset="0.9133" stop-color="#949494"/><stop offset="0.9179" stop-color="#878787"/><stop offset="0.9279" stop-color="#7a7a7a"/><stop offset="0.9507" stop-color="#727272"/><stop offset="1" stop-color="#6a6a6a"/></linearGradient>
<filter id="f52" x="0" y="0" width="1" height="1" color-interpolation-filters="sRGB"><feTurbulence type="fractalNoise" baseFrequency="0.72 0.0003" numOctaves="2" seed="367" result="n"/><feColorMatrix in="n" type="matrix" values="1 0 0 0 0 1 0 0 0 0 1 0 0 0 0 0 0 0 0 1" result="m"/><feComposite in="SourceGraphic" in2="m" operator="arithmetic" k1="0" k2="1" k3="0.250" k4="-0.1250" result="s"/><feComponentTransfer in="s"><feFuncR type="table" tableValues="0 0 0 0 0 0 .5 1 1 1 .5"/><feFuncG type="table" tableValues="0 0 0 0 .5 1 1 1 .5 0 0"/><feFuncB type="table" tableValues=".5625 .5625 .5625 1 1 1 .5 0 0 0 0"/></feComponentTransfer></filter>
<linearGradient id="g53" gradientUnits="userSpaceOnUse" x1="208" x2="1304" y1="0" y2="0"><stop offset="0" stop-color="#c5c5c5"/><stop offset="0.2126" stop-color="#bfbfbf"/><stop offset="0.2172" stop-color="#b4b4b4"/><stop offset="0.2222" stop-color="#a7a7a7"/><stop offset="0.2245" stop-color="#939393"/><stop offset="0.2258" stop-color="#7c7c7c"/><stop offset="0.2272" stop-color="#686868"/><stop offset="0.2274" stop-color="#686868"/><stop offset="0.2464" stop-color="#545454"/><stop offset="0.2482" stop-color="#2f2f2f"/><stop offset="0.2536" stop-color="#161616"/><stop offset="0.2701" stop-color="#161616"/><stop offset="0.2755" stop-color="#2f2f2f"/><stop offset="0.2901" stop-color="#414141"/><stop offset="0.3107" stop-color="#666666"/><stop offset="0.3285" stop-color="#818181"/><stop offset="0.3495" stop-color="#999999"/><stop offset="0.3686" stop-color="#a5a5a5"/><stop offset="0.4069" stop-color="#a5a5a5"/><stop offset="0.4179" stop-color="#818181"/><stop offset="0.4261" stop-color="#666666"/><stop offset="0.4389" stop-color="#454545"/><stop offset="0.4462" stop-color="#2f2f2f"/><stop offset="0.4495" stop-color="#161616"/><stop offset="0.4562" stop-color="#161616"/><stop offset="0.4619" stop-color="#161616"/><stop offset="0.4633" stop-color="#707070"/><stop offset="0.4653" stop-color="#818181"/><stop offset="0.4763" stop-color="#959595"/><stop offset="0.4854" stop-color="#9f9f9f"/><stop offset="0.4945" stop-color="#9f9f9f"/><stop offset="0.5036" stop-color="#a3a3a3"/><stop offset="0.5109" stop-color="#a3a3a3"/><stop offset="0.531" stop-color="#969696"/><stop offset="0.5538" stop-color="#8e8e8e"/><stop offset="0.5858" stop-color="#888888"/><stop offset="0.6314" stop-color="#848484"/><stop offset="0.677" stop-color="#818181"/><stop offset="0.729" stop-color="#7a7a7a"/><stop offset="0.7345" stop-color="#8e8e8e"/><stop offset="0.7391" stop-color="#a1a1a1"/><stop offset="0.7427" stop-color="#aaaaaa"/><stop offset="0.7454" stop-color="#b5b5b5"/><stop offset="0.7477" stop-color="#c4c4c4"/><stop offset="0.75" stop-color="#c3c3c3"/><stop offset="0.9068" stop-color="#cecece"/><stop offset="0.9075" stop-color="#adadad"/><stop offset="0.9097" stop-color="#a5a5a5"/><stop offset="0.9133" stop-color="#969696"/><stop offset="0.9179" stop-color="#898989"/><stop offset="0.9279" stop-color="#7c7c7c"/><stop offset="0.9507" stop-color="#747474"/><stop offset="1" stop-color="#6c6c6c"/></linearGradient>
<filter id="f53" x="0" y="0" width="1" height="1" color-interpolation-filters="sRGB"><feTurbulence type="fractalNoise" baseFrequency="0.72 0.0003" numOctaves="2" seed="374" result="n"/><feColorMatrix in="n" type="matrix" values="1 0 0 0 0 1 0 0 0 0 1 0 0 0 0 0 0 0 0 1" result="m"/><feComposite in="SourceGraphic" in2="m" operator="arithmetic" k1="0" k2="1" k3="0.250" k4="-0.1250" result="s"/><feComponentTransfer in="s"><feFuncR type="table" tableValues="0 0 0 0 0 0 .5 1 1 1 .5"/><feFuncG type="table" tableValues="0 0 0 0 .5 1 1 1 .5 0 0"/><feFuncB type="table" tableValues=".5625 .5625 .5625 1 1 1 .5 0 0 0 0"/></feComponentTransfer></filter>
<linearGradient id="g54" gradientUnits="userSpaceOnUse" x1="208" x2="1304" y1="0" y2="0"><stop offset="0" stop-color="#cbcbcb"/><stop offset="0.2126" stop-color="#c5c5c5"/><stop offset="0.2172" stop-color="#bababa"/><stop offset="0.2222" stop-color="#acacac"/><stop offset="0.2245" stop-color="#979797"/><stop offset="0.2258" stop-color="#7f7f7f"/><stop offset="0.2272" stop-color="#6a6a6a"/><stop offset="0.2274" stop-color="#6a6a6a"/><stop offset="0.2354" stop-color="#6a6a6a"/><stop offset="0.2413" stop-color="#4b4b4b"/><stop offset="0.2482" stop-color="#2f2f2f"/><stop offset="0.2536" stop-color="#161616"/><stop offset="0.2701" stop-color="#161616"/><stop offset="0.2755" stop-color="#2f2f2f"/><stop offset="0.2901" stop-color="#3b3b3b"/><stop offset="0.3125" stop-color="#666666"/><stop offset="0.3303" stop-color="#818181"/><stop offset="0.3495" stop-color="#999999"/><stop offset="0.3686" stop-color="#a5a5a5"/><stop offset="0.4051" stop-color="#a5a5a5"/><stop offset="0.4161" stop-color="#818181"/><stop offset="0.4266" stop-color="#666666"/><stop offset="0.4361" stop-color="#494949"/><stop offset="0.4416" stop-color="#2f2f2f"/><stop offset="0.4461" stop-color="#161616"/><stop offset="0.455" stop-color="#161616"/><stop offset="0.4619" stop-color="#161616"/><stop offset="0.4633" stop-color="#5c5c5c"/><stop offset="0.4653" stop-color="#7c7c7c"/><stop offset="0.4763" stop-color="#939393"/><stop offset="0.4854" stop-color="#9d9d9d"/><stop offset="0.4945" stop-color="#9d9d9d"/><stop offset="0.5036" stop-color="#a3a3a3"/><stop offset="0.5109" stop-color="#a3a3a3"/><stop offset="0.531" stop-color="#979797"/><stop offset="0.5538" stop-color="#8f8f8f"/><stop offset="0.5858" stop-color="#8a8a8a"/><stop offset="0.6314" stop-color="#868686"/><stop offset="0.677" stop-color="#838383"/><stop offset="0.729" stop-color="#7c7c7c"/><stop offset="0.7345" stop-color="#929292"/><stop offset="0.7391" stop-color="#a8a8a8"/><stop offset="0.7427" stop-color="#b3b3b3"/><stop offset="0.7454" stop-color="#bebebe"/><stop offset="0.7477" stop-color="#d0d0d0"/><stop offset="0.75" stop-color="#cfcfcf"/><stop offset="0.9068" stop-color="#dadada"/><stop offset="0.9075" stop-color="#b1b1b1"/><stop offset="0.9097" stop-color="#a9a9a9"/><stop offset="0.9133" stop-color="#9a9a9a"/><stop offset="0.9179" stop-color="#8d8d8d"/><stop offset="0.9279" stop-color="#818181"/><stop offset="0.9507" stop-color="#787878"/><stop offset="1" stop-color="#707070"/></linearGradient>
<filter id="f54" x="0" y="0" width="1" height="1" color-interpolation-filters="sRGB"><feTurbulence type="fractalNoise" baseFrequency="0.72 0.0003" numOctaves="2" seed="381" result="n"/><feColorMatrix in="n" type="matrix" values="1 0 0 0 0 1 0 0 0 0 1 0 0 0 0 0 0 0 0 1" result="m"/><feComposite in="SourceGraphic" in2="m" operator="arithmetic" k1="0" k2="1" k3="0.250" k4="-0.1250" result="s"/><feComponentTransfer in="s"><feFuncR type="table" tableValues="0 0 0 0 0 0 .5 1 1 1 .5"/><feFuncG type="table" tableValues="0 0 0 0 .5 1 1 1 .5 0 0"/><feFuncB type="table" tableValues=".5625 .5625 .5625 1 1 1 .5 0 0 0 0"/></feComponentTransfer></filter>
</defs>
<rect width="1600" height="1200" fill="#fff"/>
<g shape-rendering="crispEdges">
<rect x="208" y="1050" width="1096" height="18" fill="url(#g1)" filter="url(#f1)"/>
<rect x="208" y="1032" width="1096" height="18" fill="url(#g2)" filter="url(#f2)"/>
<rect x="208" y="1014" width="1096" height="18" fill="url(#g3)" filter="url(#f3)"/>
<rect x="208" y="996" width="1096" height="18" fill="url(#g4)" filter="url(#f4)"/>
<rect x="208" y="977" width="1096" height="19" fill="url(#g5)" filter="url(#f5)"/>
<rect x="208" y="959" width="1096" height="18" fill="url(#g6)" filter="url(#f6)"/>
<rect x="208" y="941" width="1096" height="18" fill="url(#g7)" filter="url(#f7)"/>
<rect x="208" y="923" width="1096" height="18" fill="url(#g8)" filter="url(#f8)"/>
<rect x="208" y="905" width="1096" height="18" fill="url(#g9)" filter="url(#f9)"/>
<rect x="208" y="887" width="1096" height="18" fill="url(#g10)" filter="url(#f10)"/>
<rect x="208" y="869" width="1096" height="18" fill="url(#g11)" filter="url(#f11)"/>
<rect x="208" y="851" width="1096" height="18" fill="url(#g12)" filter="url(#f12)"/>
<rect x="208" y="833" width="1096" height="18" fill="url(#g13)" filter="url(#f13)"/>
<rect x="208" y="814" width="1096" height="19" fill="url(#g14)" filter="url(#f14)"/>
<rect x="208" y="796" width="1096" height="18" fill="url(#g15)" filter="url(#f15)"/>
<rect x="208" y="778" width="1096" height="18" fill="url(#g16)" filter="url(#f16)"/>
<rect x="208" y="760" width="1096" height="18" fill="url(#g17)" filter="url(#f17)"/>
<rect x="208" y="742" width="1096" height="18" fill="url(#g18)" filter="url(#f18)"/>
<rect x="208" y="724" width="1096" height="18" fill="url(#g19)" filter="url(#f19)"/>
<rect x="208" y="706" width="1096" height="18" fill="url(#g20)" filter="url(#f20)"/>
<rect x="208" y="688" width="1096" height="18" fill="url(#g21)" filter="url(#f21)"/>
<rect x="208" y="670" width="1096" height="18" fill="url(#g22)" filter="url(#f22)"/>
<rect x="208" y="651" width="1096" height="19" fill="url(#g23)" filter="url(#f23)"/>
<rect x="208" y="633" width="1096" height="18" fill="url(#g24)" filter="url(#f24)"/>
<rect x="208" y="615" width="1096" height="18" fill="url(#g25)" filter="url(#f25)"/>
<rect x="208" y="597" width="1096" height="18" fill="url(#g26)" filter="url(#f26)"/>
<rect x="208" y="579" width="1096" height="18" fill="url(#g27)" filter="url(#f27)"/>
<rect x="208" y="561" width="1096" height="18" fill="url(#g28)" filter="url(#f28)"/>
<rect x="208" y="543" width="1096" height="18" fill="url(#g29)" filter="url(#f29)"/>
<rect x="208" y="525" width="1096" height="18" fill="url(#g30)" filter="url(#f30)"/>
<rect x="208" y="507" width="1096" height="18" fill="url(#g31)" filter="url(#f31)"/>
<rect x="208" y="488" width="1096" height="19" fill="url(#g32)" filter="url(#f32)"/>
<rect x="208" y="470" width="1096" height="18" fill="url(#g33)" filter="url(#f33)"/>
<rect x="208" y="452" width="1096" height="18" fill="url(#g34)" filter="url(#f34)"/>
<rect x="208" y="434" width="1096" height="18" fill="url(#g35)" filter="url(#f35)"/>
<rect x="208" y="416" width="1096" height="18" fill="url(#g36)" filter="url(#f36)"/>
<rect x="208" y="398" width="1096" height="18" fill="url(#g37)" filter="url(#f37)"/>
<rect x="208" y="380" width="1096" height="18" fill="url(#g38)" filter="url(#f38)"/>
<rect x="208" y="362" width="1096" height="18" fill="url(#g39)" filter="url(#f39)"/>
<rect x="208" y="344" width="1096" height="18" fill="url(#g40)" filter="url(#f40)"/>
<rect x="208" y="325" width="1096" height="19" fill="url(#g41)" filter="url(#f41)"/>
<rect x="208" y="307" width="1096" height="18" fill="url(#g42)" filter="url(#f42)"/>
<rect x="208" y="289" width="1096" height="18" fill="url(#g43)" filter="url(#f43)"/>
<rect x="208" y="271" width="1096" height="18" fill="url(#g44)" filter="url(#f44)"/>
<rect x="208" y="253" width="1096" height="18" fill="url(#g45)" filter="url(#f45)"/>
<rect x="208" y="235" width="1096" height="18" fill="url(#g46)" filter="url(#f46)"/>
<rect x="208" y="217" width="1096" height="18" fill="url(#g47)" filter="url(#f47)"/>
<rect x="208" y="199" width="1096" height="18" fill="url(#g48)" filter="url(#f48)"/>
<rect x="208" y="181" width="1096" height="18" fill="url(#g49)" filter="url(#f49)"/>
<rect x="208" y="162" width="1096" height="19" fill="url(#g50)" filter="url(#f50)"/>
<rect x="208" y="144" width="1096" height="18" fill="url(#g51)" filter="url(#f51)"/>
<rect x="208" y="126" width="1096" height="18" fill="url(#g52)" filter="url(#f52)"/>
<rect x="208" y="108" width="1096" height="18" fill="url(#g53)" filter="url(#f53)"/>
<rect x="208" y="90" width="1096" height="18" fill="url(#g54)" filter="url(#f54)"/>
</g>
<g shape-rendering="crispEdges">
<rect x="1346" y="1053.70" width="56" height="15.80" fill="#00008f"/>
<rect x="1346" y="1038.41" width="56" height="15.80" fill="#00009f"/>
<rect x="1346" y="1023.11" width="56" height="15.80" fill="#0000af"/>
<rect x="1346" y="1007.81" width="56" height="15.80" fill="#0000bf"/>
<rect x="1346" y="992.52" width="56" height="15.80" fill="#0000cf"/>
<rect x="1346" y="977.22" width="56" height="15.80" fill="#0000df"/>
<rect x="1346" y="961.92" width="56" height="15.80" fill="#0000ef"/>
<rect x="1346" y="946.62" width="56" height="15.80" fill="#0000ff"/>
<rect x="1346" y="931.33" width="56" height="15.80" fill="#0010ff"/>
<rect x="1346" y="916.03" width="56" height="15.80" fill="#0020ff"/>
<rect x="1346" y="900.73" width="56" height="15.80" fill="#0030ff"/>
<rect x="1346" y="885.44" width="56" height="15.80" fill="#0040ff"/>
<rect x="1346" y="870.14" width="56" height="15.80" fill="#0050ff"/>
<rect x="1346" y="854.84" width="56" height="15.80" fill="#0060ff"/>
<rect x="1346" y="839.55" width="56" height="15.80" fill="#0070ff"/>
<rect x="1346" y="824.25" width="56" height="15.80" fill="#0080ff"/>
<rect x="1346" y="808.95" width="56" height="15.80" fill="#008fff"/>
<rect x="1346" y="793.66" width="56" height="15.80" fill="#009fff"/>
<rect x="1346" y="778.36" width="56" height="15.80" fill="#00afff"/>
<rect x="1346" y="763.06" width="56" height="15.80" fill="#00bfff"/>
<rect x="1346" y="747.77" width="56" height="15.80" fill="#00cfff"/>
<rect x="1346" y="732.47" width="56" height="15.80" fill="#00dfff"/>
<rect x="1346" y="717.17" width="56" height="15.80" fill="#00efff"/>
<rect x="1346" y="701.88" width="56" height="15.80" fill="#00ffff"/>
<rect x="1346" y="686.58" width="56" height="15.80" fill="#10ffef"/>
<rect x="1346" y="671.28" width="56" height="15.80" fill="#20ffdf"/>
<rect x="1346" y="655.98" width="56" height="15.80" fill="#30ffcf"/>
<rect x="1346" y="640.69" width="56" height="15.80" fill="#40ffbf"/>
<rect x="1346" y="625.39" width="56" height="15.80" fill="#50ffaf"/>
<rect x="1346" y="610.09" width="56" height="15.80" fill="#60ff9f"/>
<rect x="1346" y="594.80" width="56" height="15.80" fill="#70ff8f"/>
<rect x="1346" y="579.50" width="56" height="15.80" fill="#80ff80"/>
<rect x="1346" y="564.20" width="56" height="15.80" fill="#8fff70"/>
<rect x="1346" y="548.91" width="56" height="15.80" fill="#9fff60"/>
<rect x="1346" y="533.61" width="56" height="15.80" fill="#afff50"/>
<rect x="1346" y="518.31" width="56" height="15.80" fill="#bfff40"/>
<rect x="1346" y="503.02" width="56" height="15.80" fill="#cfff30"/>
<rect x="1346" y="487.72" width="56" height="15.80" fill="#dfff20"/>
<rect x="1346" y="472.42" width="56" height="15.80" fill="#efff10"/>
<rect x="1346" y="457.12" width="56" height="15.80" fill="#ffff00"/>
<rect x="1346" y="441.83" width="56" height="15.80" fill="#ffef00"/>
<rect x="1346" y="426.53" width="56" height="15.80" fill="#ffdf00"/>
<rect x="1346" y="411.23" width="56" height="15.80" fill="#ffcf00"/>
<rect x="1346" y="395.94" width="56" height="15.80" fill="#ffbf00"/>
<rect x="1346" y="380.64" width="56" height="15.80" fill="#ffaf00"/>
<rect x="1346" y="365.34" width="56" height="15.80" fill="#ff9f00"/>
<rect x="1346" y="350.05" width="56" height="15.80" fill="#ff8f00"/>
<rect x="1346" y="334.75" width="56" height="15.80" fill="#ff8000"/>
<rect x="1346" y="319.45" width="56" height="15.80" fill="#ff7000"/>
<rect x="1346" y="304.16" width="56" height="15.80" fill="#ff6000"/>
<rect x="1346" y="288.86" width="56" height="15.80" fill="#ff5000"/>
<rect x="1346" y="273.56" width="56" height="15.80" fill="#ff4000"/>
<rect x="1346" y="258.27" width="56" height="15.80" fill="#ff3000"/>
<rect x="1346" y="242.97" width="56" height="15.80" fill="#ff2000"/>
<rect x="1346" y="227.67" width="56" height="15.80" fill="#ff1000"/>
<rect x="1346" y="212.38" width="56" height="15.80" fill="#ff0000"/>
<rect x="1346" y="197.08" width="56" height="15.80" fill="#ef0000"/>
<rect x="1346" y="181.78" width="56" height="15.80" fill="#df0000"/>
<rect x="1346" y="166.48" width="56" height="15.80" fill="#cf0000"/>
<rect x="1346" y="151.19" width="56" height="15.80" fill="#bf0000"/>
<rect x="1346" y="135.89" width="56" height="15.80" fill="#af0000"/>
<rect x="1346" y="120.59" width="56" height="15.80" fill="#9f0000"/>
<rect x="1346" y="105.30" width="56" height="15.80" fill="#8f0000"/>
<rect x="1346" y="90.00" width="56" height="15.80" fill="#800000"/>
</g>
<g fill="none" stroke="#000" stroke-width="1" shape-rendering="crispEdges">
<rect x="208.5" y="90.5" width="1096" height="978"/>
<rect x="1346.5" y="90.5" width="56" height="979"/>
<path transform="translate(.5 .5)" d="M360 1068 v-10 M360 90 v10 M512 1068 v-10 M512 90 v10 M665 1068 v-10 M665 90 v10 M817 1068 v-10 M817 90 v10 M969 1068 v-10 M969 90 v10 M1121 1068 v-10 M1121 90 v10 M1274 1068 v-10 M1274 90 v10 M208 986 h10 M1304 986 h-10 M208 895 h10 M1304 895 h-10 M208 805 h10 M1304 805 h-10 M208 714 h10 M1304 714 h-10 M208 624 h10 M1304 624 h-10 M208 533 h10 M1304 533 h-10 M208 443 h10 M1304 443 h-10 M208 352 h10 M1304 352 h-10 M208 262 h10 M1304 262 h-10 M208 171 h10 M1304 171 h-10 M1346 1026 h9 M1402 1026 h-10 M1346 920 h9 M1402 920 h-10 M1346 815 h9 M1402 815 h-10 M1346 709 h9 M1402 709 h-10 M1346 603 h9 M1402 603 h-10 M1346 497 h9 M1402 497 h-10 M1346 392 h9 M1402 392 h-10 M1346 286 h9 M1402 286 h-10 M1346 180 h9 M1402 180 h-10"/>
</g>
<g>
<text transform="translate(360.52 1099.50) scale(1 1.115)" text-anchor="middle" font-size="25.80">0.5</text>
<text transform="translate(512.74 1099.50) scale(1 1.115)" text-anchor="middle" font-size="25.80">1</text>
<text transform="translate(664.97 1099.50) scale(1 1.115)" text-anchor="middle" font-size="25.80">1.5</text>
<text transform="translate(817.19 1099.50) scale(1 1.115)" text-anchor="middle" font-size="25.80">2</text>
<text transform="translate(969.41 1099.50) scale(1 1.115)" text-anchor="middle" font-size="25.80">2.5</text>
<text transform="translate(1121.63 1099.50) scale(1 1.115)" text-anchor="middle" font-size="25.80">3</text>
<text transform="translate(1273.85 1099.50) scale(1 1.115)" text-anchor="middle" font-size="25.80">3.5</text>
<text transform="translate(199.80 994.20) scale(1 1.115)" text-anchor="end" font-size="25.80">5</text>
<text transform="translate(199.80 903.20) scale(1 1.115)" text-anchor="end" font-size="25.80">10</text>
<text transform="translate(199.80 813.20) scale(1 1.115)" text-anchor="end" font-size="25.80">15</text>
<text transform="translate(199.80 722.20) scale(1 1.115)" text-anchor="end" font-size="25.80">20</text>
<text transform="translate(199.80 632.20) scale(1 1.115)" text-anchor="end" font-size="25.80">25</text>
<text transform="translate(199.80 541.20) scale(1 1.115)" text-anchor="end" font-size="25.80">30</text>
<text transform="translate(199.80 451.20) scale(1 1.115)" text-anchor="end" font-size="25.80">35</text>
<text transform="translate(199.80 360.20) scale(1 1.115)" text-anchor="end" font-size="25.80">40</text>
<text transform="translate(199.80 270.20) scale(1 1.115)" text-anchor="end" font-size="25.80">45</text>
<text transform="translate(199.80 179.20) scale(1 1.115)" text-anchor="end" font-size="25.80">50</text>
<text transform="translate(1410.50 1034.20) scale(1 1.115)" text-anchor="start" font-size="25.80">-4000</text>
<text transform="translate(1410.50 928.20) scale(1 1.115)" text-anchor="start" font-size="25.80">-3000</text>
<text transform="translate(1410.50 823.20) scale(1 1.115)" text-anchor="start" font-size="25.80">-2000</text>
<text transform="translate(1410.50 717.20) scale(1 1.115)" text-anchor="start" font-size="25.80">-1000</text>
<text transform="translate(1410.50 611.20) scale(1 1.115)" text-anchor="start" font-size="25.80">0</text>
<text transform="translate(1410.50 505.20) scale(1 1.115)" text-anchor="start" font-size="25.80">1000</text>
<text transform="translate(1410.50 400.20) scale(1 1.115)" text-anchor="start" font-size="25.80">2000</text>
<text transform="translate(1410.50 294.20) scale(1 1.115)" text-anchor="start" font-size="25.80">3000</text>
<text transform="translate(1410.50 188.20) scale(1 1.115)" text-anchor="start" font-size="25.80">4000</text>
<text transform="translate(752.30 68.00) scale(1 1.090)" text-anchor="middle" font-size="27.30">Roach 1 RR</text>
<text transform="translate(1247.50 1148.00) scale(1 1.115)" text-anchor="start" font-size="25.80">x</text>
<text transform="translate(1268.60 1148.00) scale(1 1.115)" text-anchor="start" font-size="25.80">10</text>
<text transform="translate(1294.90 1131.20) scale(1 1.115)" text-anchor="start" font-size="17.60">5</text>
</g>
</svg>
</body></html>
